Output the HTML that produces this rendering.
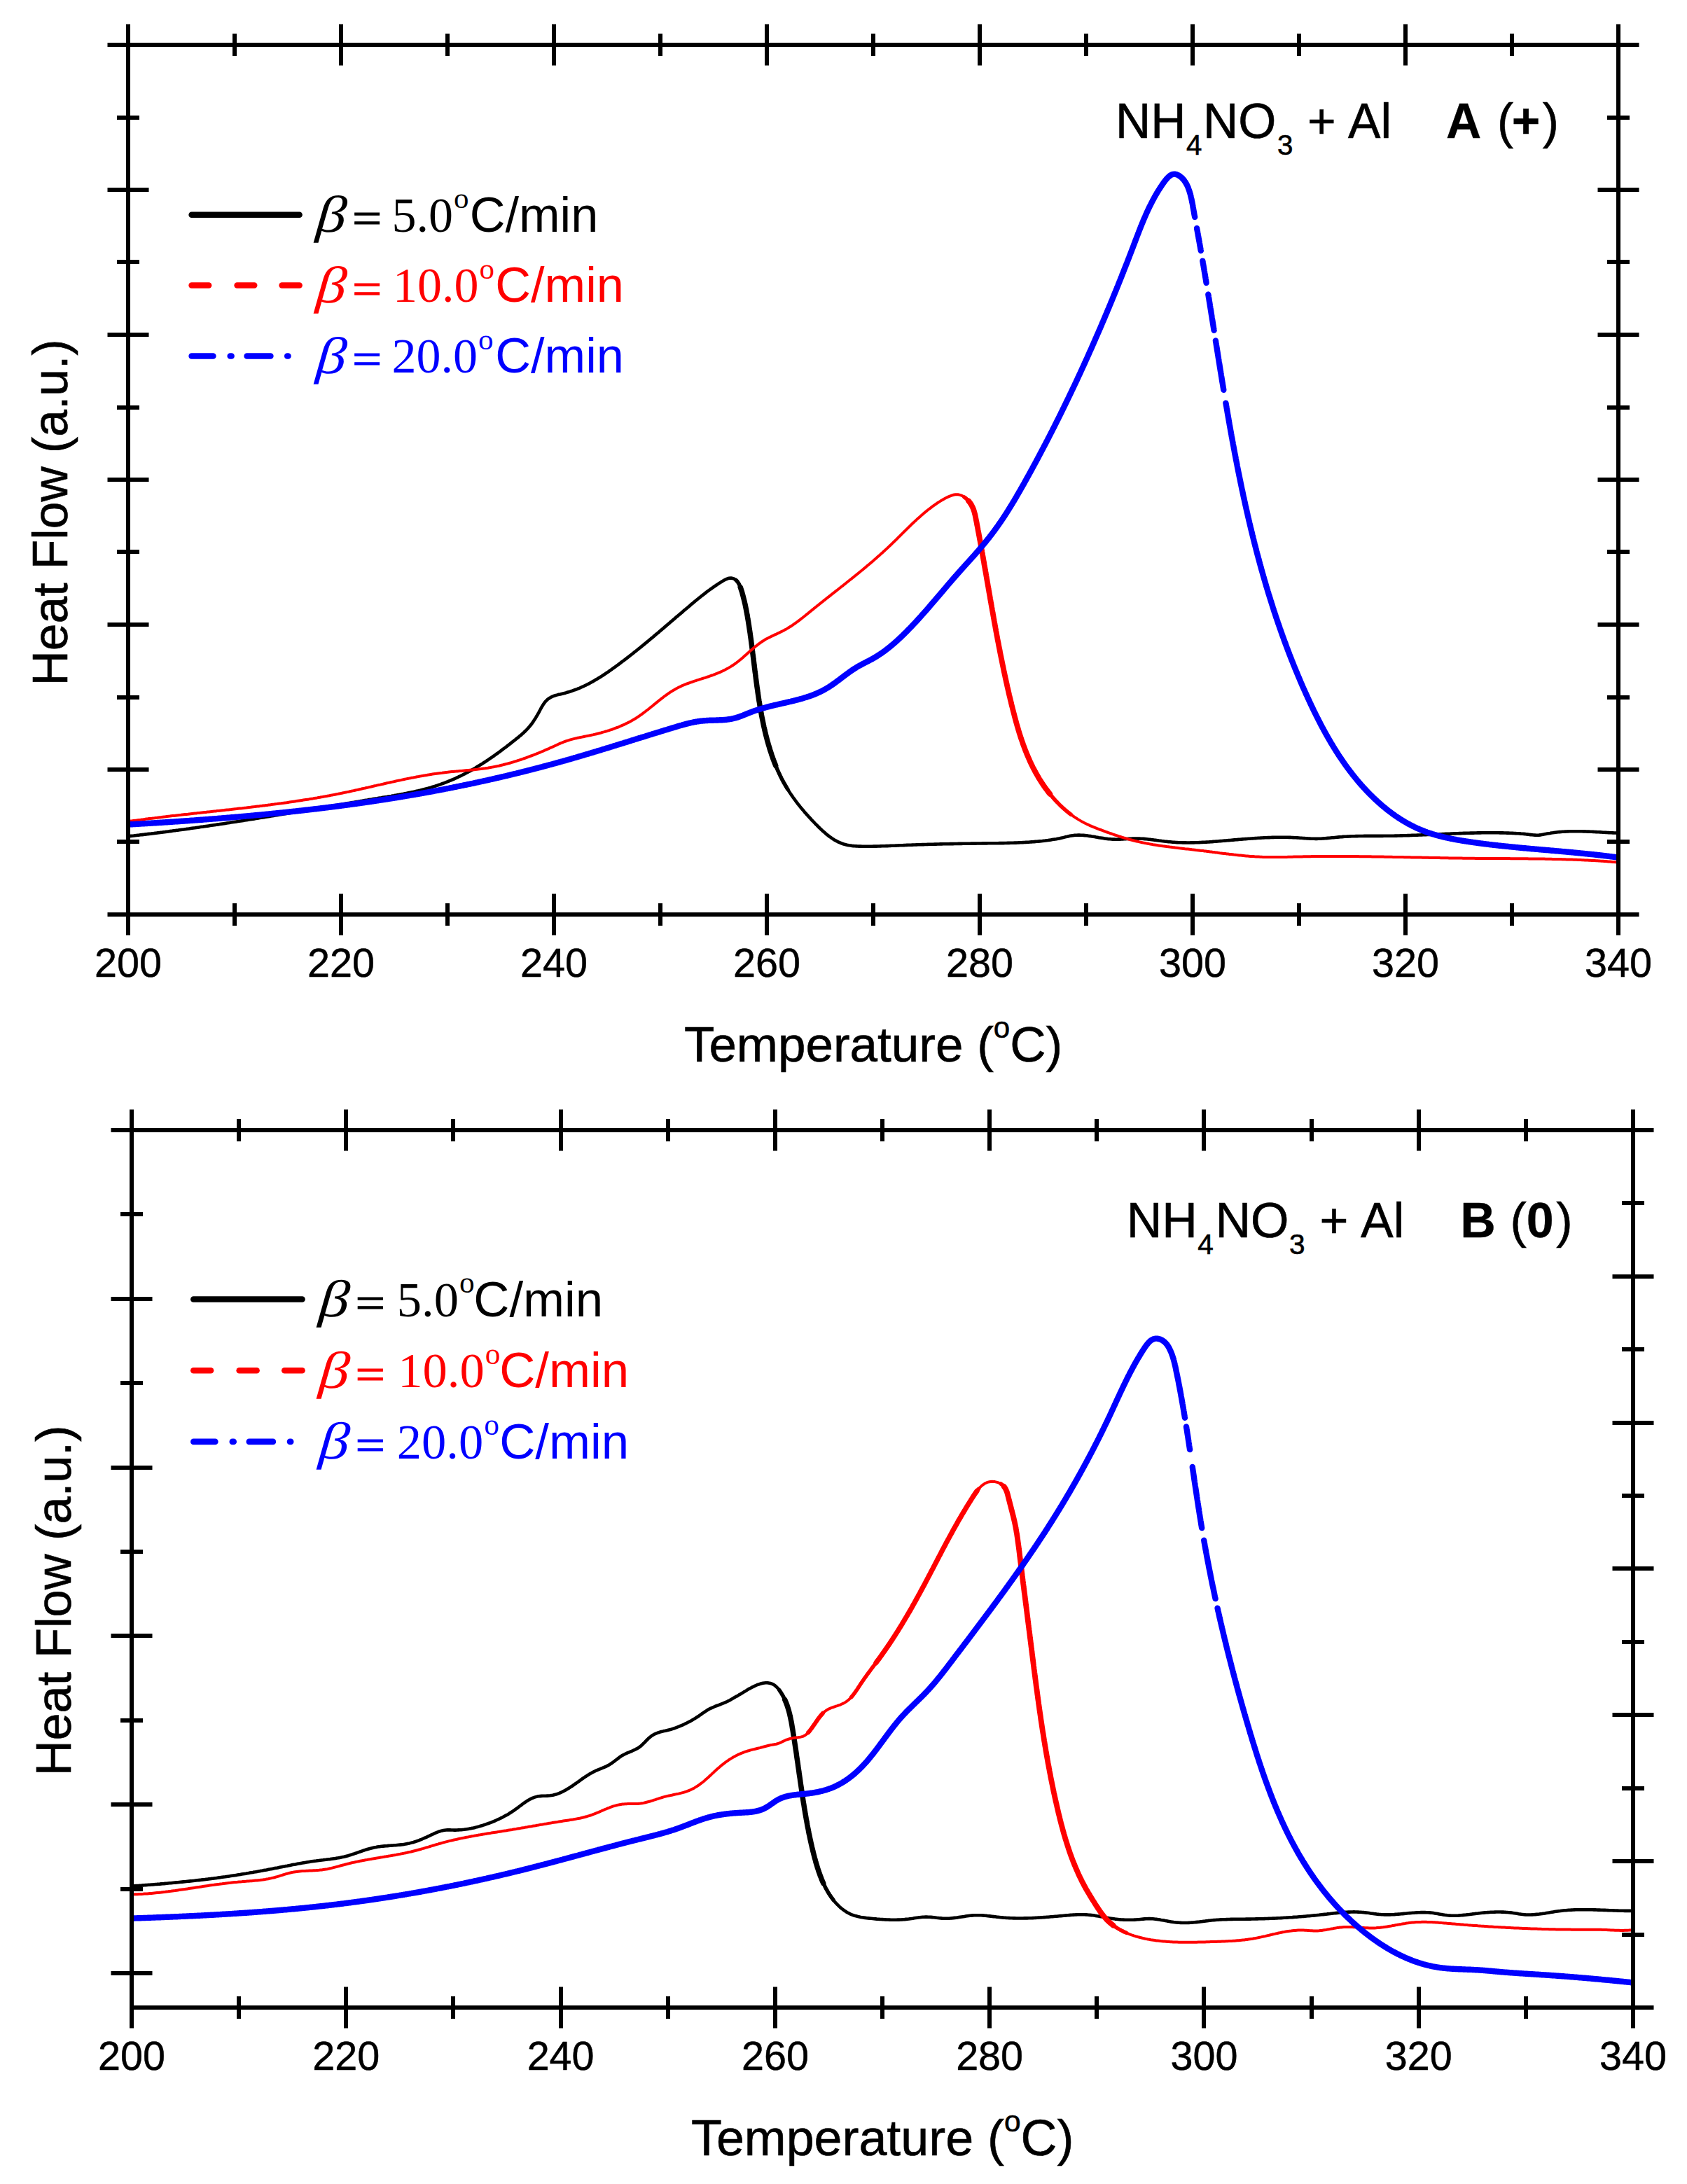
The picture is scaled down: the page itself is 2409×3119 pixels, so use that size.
<!DOCTYPE html>
<html><head><meta charset="utf-8"><title>Heat Flow</title>
<style>html,body{margin:0;padding:0;background:#fff}svg{display:block}</style></head>
<body>
<svg width="2409" height="3119" viewBox="0 0 2409 3119">
<rect width="2409" height="3119" fill="#fff"/>
<clipPath id="c1"><rect x="183" y="64" width="2128" height="1242"/></clipPath>
<g clip-path="url(#c1)">
<path d="M182.9 1194.4 L184.9 1194.1 L186.9 1193.9 L188.9 1193.7 L190.9 1193.5 L192.9 1193.2 L194.9 1193.0 L196.9 1192.8 L198.9 1192.6 L200.9 1192.3 L202.9 1192.1 L204.9 1191.9 L206.8 1191.6 L208.8 1191.4 L210.8 1191.1 L212.8 1190.9 L214.8 1190.7 L216.8 1190.4 L218.8 1190.2 L220.8 1189.9 L222.7 1189.7 L224.7 1189.4 L226.7 1189.2 L228.7 1188.9 L230.7 1188.7 L232.7 1188.4 L234.7 1188.2 L236.6 1187.9 L238.6 1187.7 L240.6 1187.4 L242.6 1187.1 L244.6 1186.9 L246.6 1186.6 L248.5 1186.3 L250.5 1186.1 L252.5 1185.8 L254.5 1185.6 L256.5 1185.3 L258.4 1185.0 L260.4 1184.7 L262.4 1184.5 L264.4 1184.2 L266.4 1183.9 L268.3 1183.7 L270.3 1183.4 L272.3 1183.1 L274.3 1182.8 L276.3 1182.5 L278.2 1182.3 L280.2 1182.0 L282.2 1181.7 L284.2 1181.4 L286.1 1181.1 L288.1 1180.8 L290.1 1180.6 L292.1 1180.3 L294.0 1180.0 L296.0 1179.7 L298.0 1179.4 L300.0 1179.1 L302.0 1178.8 L303.9 1178.5 L305.9 1178.2 L307.9 1177.9 L309.9 1177.6 L311.8 1177.4 L313.8 1177.1 L315.8 1176.8 L317.7 1176.5 L319.7 1176.2 L321.7 1175.9 L323.7 1175.6 L325.6 1175.3 L327.6 1175.0 L329.6 1174.6 L331.6 1174.3 L333.5 1174.0 L335.5 1173.7 L337.5 1173.4 L339.5 1173.1 L341.4 1172.8 L343.4 1172.5 L345.4 1172.2 L347.3 1171.9 L349.3 1171.6 L351.3 1171.3 L353.3 1170.9 L355.2 1170.6 L357.2 1170.3 L359.2 1170.0 L361.1 1169.7 L363.1 1169.4 L365.1 1169.1 L367.1 1168.7 L369.0 1168.4 L371.0 1168.1 L373.0 1167.8 L374.9 1167.5 L376.9 1167.2 L378.9 1166.8 L380.9 1166.5 L382.8 1166.2 L384.8 1165.9 L386.8 1165.6 L388.7 1165.2 L390.7 1164.9 L392.7 1164.6 L394.6 1164.3 L396.6 1163.9 L398.6 1163.6 L400.6 1163.3 L402.5 1163.0 L404.5 1162.6 L406.5 1162.3 L408.4 1162.0 L410.4 1161.7 L412.4 1161.3 L414.4 1161.0 L416.3 1160.7 L418.3 1160.4 L420.3 1160.0 L422.2 1159.7 L424.2 1159.4 L426.2 1159.0 L428.1 1158.7 L430.1 1158.4 L432.1 1158.1 L434.1 1157.7 L436.0 1157.4 L438.0 1157.1 L440.0 1156.7 L441.9 1156.4 L443.9 1156.1 L445.9 1155.7 L447.9 1155.4 L449.8 1155.1 L451.8 1154.7 L453.8 1154.4 L455.7 1154.1 L457.7 1153.7 L459.7 1153.4 L461.7 1153.1 L463.6 1152.7 L465.6 1152.4 L467.6 1152.1 L469.6 1151.8 L471.5 1151.4 L473.5 1151.1 L475.5 1150.8 L477.4 1150.4 L479.4 1150.1 L481.4 1149.8 L483.4 1149.4 L485.3 1149.1 L487.3 1148.8 L489.3 1148.4 L491.3 1148.1 L493.2 1147.8 L495.2 1147.4 L497.2 1147.1 L499.2 1146.8 L501.1 1146.4 L503.1 1146.1 L505.1 1145.8 L507.1 1145.4 L509.0 1145.1 L511.0 1144.8 L513.0 1144.4 L515.0 1144.1 L516.9 1143.8 L518.9 1143.4 L520.9 1143.1 L522.9 1142.8 L524.8 1142.5 L526.8 1142.1 L528.8 1141.8 L530.8 1141.5 L532.8 1141.1 L534.7 1140.8 L536.7 1140.5 L538.7 1140.2 L540.7 1139.8 L542.7 1139.5 L544.6 1139.2 L546.6 1138.8 L548.6 1138.5 L550.6 1138.2 L552.5 1137.9 L554.5 1137.5 L556.5 1137.2 L558.5 1136.9 L560.5 1136.5 L562.4 1136.2 L564.4 1135.8 L566.4 1135.5 L568.4 1135.1 L570.3 1134.8 L572.3 1134.4 L574.3 1134.0 L576.2 1133.7 L578.2 1133.3 L580.2 1132.9 L582.1 1132.5 L584.1 1132.1 L586.0 1131.7 L588.0 1131.3 L590.0 1130.9 L591.9 1130.5 L593.9 1130.0 L595.8 1129.6 L597.7 1129.1 L599.7 1128.7 L601.6 1128.2 L603.5 1127.7 L605.5 1127.2 L607.4 1126.7 L609.3 1126.2 L611.2 1125.7 L613.2 1125.1 L615.1 1124.6 L617.0 1124.0 L618.9 1123.4 L620.8 1122.9 L622.7 1122.3 L624.6 1121.6 L626.4 1121.0 L628.3 1120.4 L630.2 1119.7 L632.1 1119.0 L633.9 1118.3 L635.8 1117.6 L637.6 1116.9 L639.5 1116.2 L641.3 1115.4 L643.2 1114.7 L645.0 1113.9 L646.8 1113.1 L648.7 1112.3 L650.5 1111.5 L652.3 1110.6 L654.1 1109.8 L655.9 1108.9 L657.7 1108.1 L659.5 1107.2 L661.3 1106.3 L663.1 1105.4 L664.8 1104.5 L666.6 1103.5 L668.4 1102.6 L670.1 1101.6 L671.9 1100.7 L673.6 1099.7 L675.3 1098.7 L677.1 1097.7 L678.8 1096.7 L680.5 1095.6 L682.2 1094.6 L683.9 1093.6 L685.6 1092.5 L687.3 1091.4 L689.0 1090.4 L690.7 1089.3 L692.4 1088.2 L694.1 1087.1 L695.7 1086.0 L697.4 1084.9 L699.1 1083.7 L700.7 1082.6 L702.4 1081.5 L704.0 1080.3 L705.7 1079.2 L707.3 1078.0 L708.9 1076.8 L710.6 1075.7 L712.2 1074.5 L713.8 1073.3 L715.4 1072.1 L717.0 1070.9 L718.6 1069.7 L720.2 1068.5 L721.8 1067.3 L723.4 1066.1 L725.0 1064.8 L726.6 1063.6 L728.2 1062.4 L729.8 1061.1 L731.3 1059.9 L732.9 1058.7 L734.5 1057.4 L736.0 1056.2 L737.6 1054.9 L739.2 1053.7 L740.7 1052.4 L742.2 1051.1 L743.8 1049.9 L745.3 1048.6 L746.7 1047.2 L748.2 1045.9 L749.6 1044.5 L751.0 1043.2 L752.4 1041.7 L753.8 1040.3 L755.1 1038.8 L756.4 1037.3 L757.6 1035.8 L758.9 1034.2 L760.0 1032.6 L761.2 1031.0 L762.3 1029.3 L763.4 1027.6 L764.5 1025.9 L765.5 1024.2 L766.5 1022.4 L767.6 1020.7 L768.6 1018.9 L769.6 1017.1 L770.5 1015.3 L771.5 1013.5 L772.5 1011.6 L773.5 1009.8 L774.6 1008.1 L775.6 1006.3 L776.8 1004.7 L777.9 1003.1 L779.2 1001.6 L780.5 1000.2 L781.9 998.9 L783.4 997.7 L785.0 996.7 L786.7 995.8 L788.4 994.9 L790.2 994.2 L792.1 993.5 L794.0 992.9 L795.9 992.4 L797.9 991.8 L799.9 991.4 L801.9 990.9 L804.0 990.4 L806.0 989.9 L808.0 989.4 L809.9 988.8 L811.9 988.2 L813.9 987.7 L815.8 987.0 L817.7 986.4 L819.6 985.7 L821.5 985.0 L823.4 984.3 L825.3 983.5 L827.2 982.8 L829.0 982.0 L830.8 981.2 L832.7 980.4 L834.5 979.5 L836.3 978.7 L838.0 977.8 L839.8 976.9 L841.6 975.9 L843.3 975.0 L845.1 974.0 L846.8 973.1 L848.6 972.1 L850.3 971.1 L852.0 970.1 L853.7 969.0 L855.4 968.0 L857.1 967.0 L858.8 965.9 L860.4 964.8 L862.1 963.7 L863.8 962.6 L865.4 961.5 L867.1 960.4 L868.7 959.3 L870.3 958.1 L872.0 957.0 L873.6 955.8 L875.2 954.7 L876.9 953.5 L878.5 952.3 L880.1 951.2 L881.7 950.0 L883.3 948.8 L884.9 947.6 L886.5 946.4 L888.1 945.2 L889.7 944.0 L891.3 942.8 L892.9 941.6 L894.5 940.4 L896.1 939.1 L897.7 937.9 L899.2 936.7 L900.8 935.5 L902.4 934.2 L904.0 933.0 L905.5 931.7 L907.1 930.5 L908.7 929.2 L910.2 928.0 L911.8 926.7 L913.4 925.5 L914.9 924.2 L916.5 922.9 L918.0 921.7 L919.6 920.4 L921.1 919.1 L922.7 917.9 L924.2 916.6 L925.8 915.3 L927.3 914.0 L928.8 912.7 L930.4 911.4 L931.9 910.2 L933.4 908.9 L935.0 907.6 L936.5 906.3 L938.0 905.0 L939.6 903.7 L941.1 902.4 L942.6 901.1 L944.2 899.8 L945.7 898.5 L947.2 897.2 L948.7 895.9 L950.3 894.6 L951.8 893.3 L953.3 892.0 L954.8 890.7 L956.3 889.4 L957.8 888.1 L959.4 886.8 L960.9 885.5 L962.4 884.2 L963.9 882.9 L965.4 881.6 L966.9 880.3 L968.5 879.1 L970.0 877.8 L971.5 876.5 L973.0 875.2 L974.5 873.9 L976.0 872.6 L977.5 871.3 L979.1 870.0 L980.6 868.7 L982.1 867.5 L983.6 866.2 L985.1 864.9 L986.6 863.6 L988.1 862.3 L989.7 861.1 L991.2 859.8 L992.7 858.5 L994.2 857.3 L995.8 856.0 L997.3 854.8 L998.8 853.5 L1000.4 852.3 L1001.9 851.0 L1003.5 849.8 L1005.1 848.6 L1006.7 847.4 L1008.2 846.1 L1009.8 844.9 L1011.5 843.7 L1013.1 842.5 L1014.7 841.3 L1016.4 840.2 L1018.0 839.0 L1019.7 837.8 L1021.4 836.7 L1023.1 835.5 L1024.8 834.4 L1026.6 833.2 L1028.3 832.1 L1030.1 831.0 L1031.9 829.9 L1033.7 828.8 L1035.5 827.9 L1037.3 827.0 L1039.1 826.3 L1040.9 825.8 L1042.7 825.6 L1044.5 825.6 L1046.2 825.9 L1047.9 826.5 L1049.5 827.4 L1051.0 828.5 L1052.3 829.8 L1053.5 831.3 L1054.6 833.0 L1055.6 834.7 L1056.4 836.6 L1057.2 838.6 L1057.9 840.6 L1058.6 842.7 L1059.3 844.7 L1059.9 846.8 L1060.4 848.8 L1061.0 850.8 L1061.5 852.8 L1062.0 854.8 L1062.5 856.8 L1063.0 858.7 L1063.4 860.7 L1063.9 862.6 L1064.3 864.6 L1064.7 866.5 L1065.1 868.5 L1065.5 870.4 L1065.8 872.3 L1066.2 874.3 L1066.6 876.2 L1066.9 878.1 L1067.3 880.1 L1067.6 882.0 L1067.9 884.0 L1068.3 885.9 L1068.6 887.9 L1068.9 889.8 L1069.2 891.8 L1069.5 893.7 L1069.8 895.7 L1070.1 897.6 L1070.4 899.6 L1070.7 901.6 L1071.0 903.5 L1071.3 905.5 L1071.5 907.5 L1071.8 909.4 L1072.1 911.4 L1072.4 913.4 L1072.6 915.4 L1072.9 917.3 L1073.1 919.3 L1073.4 921.3 L1073.7 923.3 L1073.9 925.2 L1074.2 927.2 L1074.4 929.2 L1074.7 931.2 L1074.9 933.2 L1075.2 935.2 L1075.4 937.1 L1075.7 939.1 L1075.9 941.1 L1076.2 943.1 L1076.4 945.1 L1076.7 947.1 L1076.9 949.1 L1077.2 951.1 L1077.4 953.0 L1077.6 955.0 L1077.9 957.0 L1078.1 959.0 L1078.4 961.0 L1078.7 963.0 L1078.9 965.0 L1079.2 967.0 L1079.4 969.0 L1079.7 970.9 L1079.9 972.9 L1080.2 974.9 L1080.5 976.9 L1080.7 978.9 L1081.0 980.9 L1081.3 982.9 L1081.6 984.9 L1081.9 986.9 L1082.1 988.8 L1082.4 990.8 L1082.7 992.8 L1083.0 994.8 L1083.3 996.8 L1083.6 998.8 L1083.9 1000.7 L1084.3 1002.7 L1084.6 1004.7 L1084.9 1006.7 L1085.2 1008.7 L1085.6 1010.6 L1085.9 1012.6 L1086.3 1014.6 L1086.6 1016.5 L1087.0 1018.5 L1087.3 1020.5 L1087.7 1022.4 L1088.1 1024.4 L1088.5 1026.4 L1088.9 1028.3 L1089.3 1030.3 L1089.7 1032.3 L1090.1 1034.2 L1090.5 1036.2 L1090.9 1038.1 L1091.4 1040.1 L1091.8 1042.0 L1092.3 1044.0 L1092.7 1045.9 L1093.2 1047.8 L1093.7 1049.8 L1094.2 1051.7 L1094.7 1053.6 L1095.2 1055.6 L1095.7 1057.5 L1096.2 1059.4 L1096.8 1061.3 L1097.3 1063.3 L1097.9 1065.2 L1098.5 1067.1 L1099.0 1069.0 L1099.6 1070.9 L1100.2 1072.8 L1100.9 1074.7 L1101.5 1076.6 L1102.1 1078.5 L1102.8 1080.4 L1103.4 1082.2 L1104.1 1084.1 L1104.8 1086.0 L1105.5 1087.8 L1106.2 1089.7 L1107.0 1091.6 L1107.7 1093.4 L1108.5 1095.2 L1109.2 1097.1 L1110.0 1098.9 L1110.8 1100.7 L1111.6 1102.5 L1112.5 1104.3 L1113.3 1106.1 L1114.2 1107.9 L1115.1 1109.7 L1115.9 1111.5 L1116.9 1113.3 L1117.8 1115.0 L1118.7 1116.8 L1119.7 1118.5 L1120.7 1120.2 L1121.7 1122.0 L1122.7 1123.7 L1123.7 1125.4 L1124.8 1127.1 L1125.8 1128.8 L1126.9 1130.5 L1128.0 1132.2 L1129.1 1133.8 L1130.2 1135.5 L1131.4 1137.1 L1132.5 1138.8 L1133.7 1140.4 L1134.9 1142.0 L1136.1 1143.7 L1137.3 1145.3 L1138.5 1146.9 L1139.7 1148.5 L1141.0 1150.0 L1142.2 1151.6 L1143.5 1153.2 L1144.8 1154.7 L1146.1 1156.3 L1147.4 1157.8 L1148.7 1159.4 L1150.0 1160.9 L1151.4 1162.4 L1152.7 1163.9 L1154.1 1165.4 L1155.4 1166.9 L1156.8 1168.4 L1158.2 1169.9 L1159.5 1171.4 L1160.9 1172.8 L1162.3 1174.3 L1163.7 1175.8 L1165.1 1177.2 L1166.6 1178.6 L1168.0 1180.1 L1169.4 1181.5 L1170.8 1182.9 L1172.3 1184.3 L1173.7 1185.6 L1175.2 1187.0 L1176.7 1188.3 L1178.2 1189.6 L1179.7 1190.9 L1181.2 1192.2 L1182.8 1193.4 L1184.3 1194.6 L1185.9 1195.7 L1187.5 1196.9 L1189.1 1197.9 L1190.7 1199.0 L1192.4 1200.0 L1194.1 1200.9 L1195.8 1201.8 L1197.5 1202.6 L1199.3 1203.4 L1201.1 1204.2 L1202.9 1204.8 L1204.8 1205.5 L1206.7 1206.0 L1208.6 1206.5 L1210.5 1206.9 L1212.5 1207.3 L1214.5 1207.6 L1216.6 1207.9 L1218.6 1208.1 L1220.7 1208.3 L1222.7 1208.4 L1224.8 1208.5 L1226.9 1208.6 L1229.0 1208.6 L1231.1 1208.7 L1233.2 1208.7 L1235.2 1208.7 L1237.3 1208.7 L1239.4 1208.7 L1241.4 1208.7 L1243.4 1208.7 L1245.5 1208.7 L1247.5 1208.6 L1249.5 1208.6 L1251.5 1208.6 L1253.5 1208.5 L1255.5 1208.5 L1257.5 1208.4 L1259.5 1208.3 L1261.5 1208.3 L1263.5 1208.2 L1265.4 1208.1 L1267.4 1208.1 L1269.4 1208.0 L1271.4 1207.9 L1273.3 1207.8 L1275.3 1207.8 L1277.2 1207.7 L1279.2 1207.6 L1281.2 1207.5 L1283.1 1207.4 L1285.1 1207.3 L1287.1 1207.2 L1289.0 1207.2 L1291.0 1207.1 L1293.0 1207.0 L1294.9 1206.9 L1296.9 1206.8 L1298.9 1206.8 L1300.9 1206.7 L1302.8 1206.6 L1304.8 1206.5 L1306.8 1206.5 L1308.8 1206.4 L1310.8 1206.3 L1312.8 1206.3 L1314.7 1206.2 L1316.7 1206.1 L1318.7 1206.1 L1320.7 1206.0 L1322.7 1206.0 L1324.7 1205.9 L1326.7 1205.8 L1328.7 1205.8 L1330.7 1205.7 L1332.7 1205.7 L1334.7 1205.6 L1336.7 1205.6 L1338.7 1205.5 L1340.7 1205.5 L1342.7 1205.4 L1344.8 1205.4 L1346.8 1205.3 L1348.8 1205.3 L1350.8 1205.3 L1352.8 1205.2 L1354.8 1205.2 L1356.8 1205.1 L1358.8 1205.1 L1360.8 1205.1 L1362.9 1205.0 L1364.9 1205.0 L1366.9 1205.0 L1368.9 1204.9 L1370.9 1204.9 L1372.9 1204.9 L1374.9 1204.8 L1376.9 1204.8 L1379.0 1204.8 L1381.0 1204.7 L1383.0 1204.7 L1385.0 1204.7 L1387.0 1204.6 L1389.0 1204.6 L1391.0 1204.6 L1393.0 1204.6 L1395.0 1204.5 L1397.1 1204.5 L1399.1 1204.5 L1401.1 1204.5 L1403.1 1204.4 L1405.1 1204.4 L1407.1 1204.4 L1409.1 1204.4 L1411.1 1204.3 L1413.1 1204.3 L1415.1 1204.3 L1417.1 1204.3 L1419.1 1204.3 L1421.1 1204.2 L1423.1 1204.2 L1425.1 1204.2 L1427.1 1204.1 L1429.0 1204.1 L1431.0 1204.1 L1433.0 1204.1 L1435.0 1204.0 L1437.0 1204.0 L1439.0 1203.9 L1441.0 1203.9 L1443.0 1203.8 L1445.0 1203.8 L1446.9 1203.7 L1448.9 1203.6 L1450.9 1203.6 L1452.9 1203.5 L1454.9 1203.4 L1456.9 1203.3 L1458.9 1203.2 L1460.8 1203.1 L1462.8 1203.0 L1464.8 1202.9 L1466.8 1202.8 L1468.8 1202.7 L1470.8 1202.5 L1472.8 1202.4 L1474.7 1202.3 L1476.7 1202.1 L1478.7 1201.9 L1480.7 1201.8 L1482.7 1201.6 L1484.7 1201.4 L1486.7 1201.2 L1488.6 1201.0 L1490.6 1200.7 L1492.6 1200.5 L1494.6 1200.2 L1496.6 1200.0 L1498.6 1199.7 L1500.6 1199.4 L1502.6 1199.1 L1504.5 1198.8 L1506.5 1198.5 L1508.5 1198.2 L1510.5 1197.8 L1512.5 1197.4 L1514.4 1197.0 L1516.4 1196.6 L1518.3 1196.1 L1520.2 1195.6 L1522.2 1195.1 L1524.1 1194.7 L1526.0 1194.2 L1527.9 1193.8 L1529.8 1193.5 L1531.7 1193.2 L1533.7 1192.9 L1535.6 1192.8 L1537.6 1192.7 L1539.5 1192.6 L1541.5 1192.6 L1543.4 1192.7 L1545.4 1192.8 L1547.3 1192.9 L1549.3 1193.1 L1551.3 1193.3 L1553.3 1193.6 L1555.3 1193.9 L1557.2 1194.1 L1559.2 1194.5 L1561.2 1194.8 L1563.2 1195.1 L1565.2 1195.5 L1567.2 1195.8 L1569.2 1196.2 L1571.2 1196.5 L1573.2 1196.8 L1575.2 1197.1 L1577.2 1197.4 L1579.2 1197.7 L1581.2 1197.9 L1583.2 1198.2 L1585.2 1198.3 L1587.2 1198.5 L1589.2 1198.6 L1591.2 1198.6 L1593.2 1198.7 L1595.2 1198.7 L1597.2 1198.6 L1599.2 1198.6 L1601.2 1198.5 L1603.2 1198.4 L1605.2 1198.3 L1607.2 1198.2 L1609.2 1198.0 L1611.2 1197.9 L1613.2 1197.8 L1615.2 1197.7 L1617.1 1197.6 L1619.1 1197.6 L1621.1 1197.5 L1623.1 1197.5 L1625.1 1197.6 L1627.1 1197.6 L1629.1 1197.7 L1631.1 1197.8 L1633.1 1197.9 L1635.1 1198.1 L1637.0 1198.3 L1639.0 1198.5 L1641.0 1198.7 L1643.0 1198.9 L1645.0 1199.2 L1647.0 1199.4 L1649.0 1199.7 L1651.0 1199.9 L1653.0 1200.2 L1655.0 1200.5 L1657.0 1200.7 L1659.0 1201.0 L1660.9 1201.2 L1662.9 1201.5 L1664.9 1201.7 L1666.9 1201.9 L1668.9 1202.2 L1670.9 1202.3 L1672.9 1202.5 L1674.9 1202.7 L1676.9 1202.8 L1678.9 1203.0 L1680.9 1203.1 L1682.9 1203.2 L1684.9 1203.3 L1686.9 1203.3 L1688.9 1203.4 L1690.8 1203.4 L1692.8 1203.4 L1694.8 1203.5 L1696.8 1203.5 L1698.8 1203.5 L1700.8 1203.4 L1702.8 1203.4 L1704.8 1203.4 L1706.8 1203.3 L1708.8 1203.3 L1710.8 1203.2 L1712.8 1203.1 L1714.8 1203.0 L1716.8 1202.9 L1718.8 1202.8 L1720.8 1202.7 L1722.8 1202.6 L1724.8 1202.5 L1726.7 1202.4 L1728.7 1202.2 L1730.7 1202.1 L1732.7 1201.9 L1734.7 1201.8 L1736.7 1201.6 L1738.7 1201.5 L1740.7 1201.3 L1742.7 1201.1 L1744.7 1201.0 L1746.7 1200.8 L1748.7 1200.6 L1750.7 1200.5 L1752.7 1200.3 L1754.7 1200.1 L1756.7 1200.0 L1758.7 1199.8 L1760.7 1199.6 L1762.7 1199.4 L1764.7 1199.3 L1766.7 1199.1 L1768.7 1198.9 L1770.7 1198.8 L1772.7 1198.6 L1774.6 1198.4 L1776.6 1198.3 L1778.6 1198.1 L1780.6 1198.0 L1782.6 1197.8 L1784.6 1197.7 L1786.6 1197.5 L1788.6 1197.4 L1790.6 1197.2 L1792.6 1197.1 L1794.6 1197.0 L1796.6 1196.8 L1798.6 1196.7 L1800.6 1196.6 L1802.6 1196.5 L1804.6 1196.4 L1806.6 1196.3 L1808.6 1196.2 L1810.6 1196.1 L1812.6 1196.1 L1814.6 1196.0 L1816.6 1195.9 L1818.6 1195.9 L1820.6 1195.8 L1822.6 1195.8 L1824.6 1195.8 L1826.6 1195.7 L1828.6 1195.7 L1830.5 1195.7 L1832.5 1195.7 L1834.5 1195.7 L1836.5 1195.8 L1838.5 1195.8 L1840.5 1195.9 L1842.5 1195.9 L1844.5 1196.0 L1846.5 1196.1 L1848.5 1196.2 L1850.5 1196.3 L1852.5 1196.4 L1854.5 1196.5 L1856.5 1196.7 L1858.5 1196.8 L1860.5 1197.0 L1862.5 1197.1 L1864.5 1197.3 L1866.5 1197.4 L1868.4 1197.5 L1870.4 1197.6 L1872.4 1197.7 L1874.4 1197.8 L1876.4 1197.8 L1878.4 1197.9 L1880.4 1197.9 L1882.4 1197.8 L1884.4 1197.7 L1886.4 1197.7 L1888.4 1197.5 L1890.3 1197.4 L1892.3 1197.3 L1894.3 1197.1 L1896.3 1196.9 L1898.3 1196.7 L1900.3 1196.5 L1902.3 1196.3 L1904.3 1196.2 L1906.3 1196.0 L1908.3 1195.8 L1910.2 1195.6 L1912.2 1195.4 L1914.2 1195.2 L1916.2 1195.1 L1918.2 1194.9 L1920.2 1194.8 L1922.2 1194.7 L1924.2 1194.6 L1926.2 1194.5 L1928.2 1194.4 L1930.2 1194.3 L1932.2 1194.2 L1934.2 1194.2 L1936.2 1194.1 L1938.2 1194.1 L1940.2 1194.0 L1942.2 1194.0 L1944.2 1194.0 L1946.2 1194.0 L1948.2 1193.9 L1950.2 1193.9 L1952.2 1193.9 L1954.2 1193.9 L1956.2 1193.9 L1958.2 1193.9 L1960.2 1193.9 L1962.2 1193.9 L1964.2 1193.9 L1966.2 1193.9 L1968.2 1193.9 L1970.2 1193.9 L1972.2 1193.9 L1974.2 1193.9 L1976.2 1193.8 L1978.2 1193.8 L1980.2 1193.8 L1982.2 1193.8 L1984.2 1193.8 L1986.2 1193.7 L1988.2 1193.7 L1990.2 1193.7 L1992.2 1193.6 L1994.2 1193.6 L1996.2 1193.5 L1998.2 1193.5 L2000.2 1193.4 L2002.2 1193.4 L2004.2 1193.3 L2006.2 1193.2 L2008.2 1193.2 L2010.2 1193.1 L2012.1 1193.1 L2014.1 1193.0 L2016.1 1192.9 L2018.1 1192.8 L2020.1 1192.8 L2022.1 1192.7 L2024.1 1192.6 L2026.1 1192.5 L2028.1 1192.5 L2030.1 1192.4 L2032.1 1192.3 L2034.1 1192.2 L2036.1 1192.1 L2038.1 1192.0 L2040.1 1192.0 L2042.1 1191.9 L2044.1 1191.8 L2046.1 1191.7 L2048.1 1191.6 L2050.1 1191.5 L2052.1 1191.4 L2054.1 1191.3 L2056.1 1191.3 L2058.1 1191.2 L2060.1 1191.1 L2062.1 1191.0 L2064.1 1190.9 L2066.1 1190.8 L2068.1 1190.8 L2070.1 1190.7 L2072.1 1190.6 L2074.1 1190.5 L2076.1 1190.4 L2078.1 1190.4 L2080.0 1190.3 L2082.0 1190.2 L2084.0 1190.1 L2086.0 1190.1 L2088.0 1190.0 L2090.0 1189.9 L2092.0 1189.9 L2094.0 1189.8 L2096.0 1189.8 L2098.0 1189.7 L2100.0 1189.6 L2102.0 1189.6 L2104.0 1189.6 L2106.0 1189.5 L2108.0 1189.5 L2110.0 1189.4 L2112.0 1189.4 L2114.0 1189.4 L2116.0 1189.3 L2118.0 1189.3 L2120.0 1189.3 L2122.0 1189.3 L2124.0 1189.3 L2126.0 1189.3 L2128.0 1189.3 L2130.0 1189.3 L2132.0 1189.3 L2134.0 1189.3 L2136.0 1189.3 L2138.0 1189.3 L2140.0 1189.3 L2142.0 1189.4 L2144.0 1189.4 L2146.0 1189.4 L2148.0 1189.5 L2150.0 1189.5 L2152.0 1189.6 L2154.0 1189.6 L2156.0 1189.7 L2158.0 1189.8 L2160.0 1189.9 L2162.0 1190.0 L2164.0 1190.1 L2166.0 1190.2 L2168.0 1190.3 L2170.0 1190.4 L2172.0 1190.6 L2174.0 1190.7 L2176.0 1190.9 L2178.0 1191.1 L2180.0 1191.4 L2182.0 1191.6 L2183.9 1191.9 L2185.9 1192.1 L2187.9 1192.3 L2189.9 1192.5 L2191.9 1192.6 L2193.8 1192.7 L2195.8 1192.7 L2197.7 1192.6 L2199.7 1192.4 L2201.6 1192.1 L2203.6 1191.7 L2205.5 1191.3 L2207.4 1190.9 L2209.4 1190.5 L2211.3 1190.2 L2213.3 1189.9 L2215.3 1189.5 L2217.2 1189.3 L2219.2 1189.0 L2221.2 1188.7 L2223.1 1188.5 L2225.1 1188.3 L2227.1 1188.1 L2229.1 1188.0 L2231.1 1187.8 L2233.1 1187.7 L2235.0 1187.6 L2237.0 1187.5 L2239.0 1187.4 L2241.0 1187.3 L2243.0 1187.3 L2245.0 1187.3 L2247.0 1187.2 L2249.0 1187.2 L2251.0 1187.2 L2253.0 1187.2 L2255.0 1187.3 L2257.0 1187.3 L2259.0 1187.3 L2261.0 1187.4 L2263.0 1187.4 L2265.1 1187.5 L2267.1 1187.6 L2269.1 1187.6 L2271.1 1187.7 L2273.1 1187.8 L2275.1 1187.9 L2277.1 1188.0 L2279.1 1188.1 L2281.1 1188.2 L2283.1 1188.3 L2285.1 1188.4 L2287.1 1188.5 L2289.1 1188.7 L2291.1 1188.8 L2293.1 1188.9 L2295.1 1189.0 L2297.1 1189.1 L2299.1 1189.2 L2301.1 1189.3 L2303.1 1189.4 L2305.0 1189.5 L2307.0 1189.5 L2309.0 1189.6 L2311.0 1189.7" fill="none" stroke="#000" stroke-width="4.6" stroke-linecap="round" stroke-linejoin="round"/>
<path d="M1051.0 828.5 L1052.3 829.8 L1053.5 831.3 L1054.6 833.0 L1055.6 834.7 L1056.4 836.6 L1057.2 838.6 L1057.9 840.6 L1058.6 842.7 L1059.3 844.7 L1059.9 846.8 L1060.4 848.8 L1061.0 850.8 L1061.5 852.8 L1062.0 854.8 L1062.5 856.8 L1063.0 858.7 L1063.4 860.7 L1063.9 862.6 L1064.3 864.6 L1064.7 866.5 L1065.1 868.5 L1065.5 870.4 L1065.8 872.3 L1066.2 874.3 L1066.6 876.2 L1066.9 878.1 L1067.3 880.1 L1067.6 882.0 L1067.9 884.0 L1068.3 885.9 L1068.6 887.9 L1068.9 889.8 L1069.2 891.8 L1069.5 893.7 L1069.8 895.7 L1070.1 897.6 L1070.4 899.6 L1070.7 901.6 L1071.0 903.5 L1071.3 905.5 L1071.5 907.5 L1071.8 909.4 L1072.1 911.4 L1072.4 913.4 L1072.6 915.4 L1072.9 917.3 L1073.1 919.3 L1073.4 921.3 L1073.7 923.3 L1073.9 925.2 L1074.2 927.2 L1074.4 929.2 L1074.7 931.2 L1074.9 933.2 L1075.2 935.2 L1075.4 937.1 L1075.7 939.1 L1075.9 941.1 L1076.2 943.1 L1076.4 945.1 L1076.7 947.1 L1076.9 949.1 L1077.2 951.1 L1077.4 953.0 L1077.6 955.0 L1077.9 957.0 L1078.1 959.0 L1078.4 961.0 L1078.7 963.0 L1078.9 965.0 L1079.2 967.0 L1079.4 969.0 L1079.7 970.9 L1079.9 972.9 L1080.2 974.9 L1080.5 976.9 L1080.7 978.9 L1081.0 980.9 L1081.3 982.9 L1081.6 984.9 L1081.9 986.9 L1082.1 988.8 L1082.4 990.8 L1082.7 992.8 L1083.0 994.8 L1083.3 996.8 L1083.6 998.8 L1083.9 1000.7 L1084.3 1002.7 L1084.6 1004.7 L1084.9 1006.7 L1085.2 1008.7 L1085.6 1010.6 L1085.9 1012.6 L1086.3 1014.6 L1086.6 1016.5 L1087.0 1018.5 L1087.3 1020.5 L1087.7 1022.4 L1088.1 1024.4 L1088.5 1026.4 L1088.9 1028.3 L1089.3 1030.3 L1089.7 1032.3 L1090.1 1034.2 L1090.5 1036.2 L1090.9 1038.1 L1091.4 1040.1 L1091.8 1042.0 L1092.3 1044.0 L1092.7 1045.9 L1093.2 1047.8 L1093.7 1049.8 L1094.2 1051.7 L1094.7 1053.6 L1095.2 1055.6 L1095.7 1057.5 L1096.2 1059.4 L1096.8 1061.3 L1097.3 1063.3 L1097.9 1065.2 L1098.5 1067.1 L1099.0 1069.0 L1099.6 1070.9 L1100.2 1072.8 L1100.9 1074.7 L1101.5 1076.6 L1102.1 1078.5 L1102.8 1080.4 L1103.4 1082.2 L1104.1 1084.1 L1104.8 1086.0 L1105.5 1087.8 L1106.2 1089.7 L1107.0 1091.6 L1107.7 1093.4 L1108.5 1095.2 L1109.2 1097.1 L1110.0 1098.9 L1110.8 1100.7 L1111.6 1102.5 L1112.5 1104.3 L1113.3 1106.1 L1114.2 1107.9 L1115.1 1109.7 L1115.9 1111.5 L1116.9 1113.3 L1117.8 1115.0 L1118.7 1116.8 L1119.7 1118.5 L1120.7 1120.2 L1121.7 1122.0 L1122.7 1123.7 L1123.7 1125.4 L1124.8 1127.1" fill="none" stroke="#000" stroke-width="5.5" stroke-linecap="round" stroke-linejoin="round"/>
<path d="M1057.2 838.6 L1057.9 840.6 L1058.6 842.7 L1059.3 844.7 L1059.9 846.8 L1060.4 848.8 L1061.0 850.8 L1061.5 852.8 L1062.0 854.8 L1062.5 856.8 L1063.0 858.7 L1063.4 860.7 L1063.9 862.6 L1064.3 864.6 L1064.7 866.5 L1065.1 868.5 L1065.5 870.4 L1065.8 872.3 L1066.2 874.3 L1066.6 876.2 L1066.9 878.1 L1067.3 880.1 L1067.6 882.0 L1067.9 884.0 L1068.3 885.9 L1068.6 887.9 L1068.9 889.8 L1069.2 891.8 L1069.5 893.7 L1069.8 895.7 L1070.1 897.6 L1070.4 899.6 L1070.7 901.6 L1071.0 903.5 L1071.3 905.5 L1071.5 907.5 L1071.8 909.4 L1072.1 911.4 L1072.4 913.4 L1072.6 915.4 L1072.9 917.3 L1073.1 919.3 L1073.4 921.3 L1073.7 923.3 L1073.9 925.2 L1074.2 927.2 L1074.4 929.2 L1074.7 931.2 L1074.9 933.2 L1075.2 935.2 L1075.4 937.1 L1075.7 939.1 L1075.9 941.1 L1076.2 943.1 L1076.4 945.1 L1076.7 947.1 L1076.9 949.1 L1077.2 951.1 L1077.4 953.0 L1077.6 955.0 L1077.9 957.0 L1078.1 959.0 L1078.4 961.0 L1078.7 963.0 L1078.9 965.0 L1079.2 967.0 L1079.4 969.0 L1079.7 970.9 L1079.9 972.9 L1080.2 974.9 L1080.5 976.9 L1080.7 978.9 L1081.0 980.9 L1081.3 982.9 L1081.6 984.9 L1081.9 986.9 L1082.1 988.8 L1082.4 990.8 L1082.7 992.8 L1083.0 994.8 L1083.3 996.8 L1083.6 998.8 L1083.9 1000.7 L1084.3 1002.7 L1084.6 1004.7 L1084.9 1006.7 L1085.2 1008.7 L1085.6 1010.6 L1085.9 1012.6 L1086.3 1014.6 L1086.6 1016.5 L1087.0 1018.5 L1087.3 1020.5 L1087.7 1022.4 L1088.1 1024.4 L1088.5 1026.4 L1088.9 1028.3 L1089.3 1030.3 L1089.7 1032.3 L1090.1 1034.2 L1090.5 1036.2 L1090.9 1038.1 L1091.4 1040.1 L1091.8 1042.0 L1092.3 1044.0 L1092.7 1045.9 L1093.2 1047.8 L1093.7 1049.8 L1094.2 1051.7 L1094.7 1053.6 L1095.2 1055.6 L1095.7 1057.5 L1096.2 1059.4 L1096.8 1061.3 L1097.3 1063.3 L1097.9 1065.2 L1098.5 1067.1 L1099.0 1069.0 L1099.6 1070.9 L1100.2 1072.8 L1100.9 1074.7 L1101.5 1076.6 L1102.1 1078.5 L1102.8 1080.4 L1103.4 1082.2 L1104.1 1084.1 L1104.8 1086.0 L1105.5 1087.8 L1106.2 1089.7 L1107.0 1091.6 L1107.7 1093.4" fill="none" stroke="#000" stroke-width="7.5" stroke-linecap="round" stroke-linejoin="round"/>
<path d="M183.0 1173.1 L185.0 1172.8 L187.0 1172.5 L188.9 1172.3 L190.9 1172.0 L192.9 1171.7 L194.9 1171.5 L196.8 1171.2 L198.8 1170.9 L200.8 1170.7 L202.8 1170.4 L204.8 1170.2 L206.7 1169.9 L208.7 1169.6 L210.7 1169.4 L212.7 1169.1 L214.7 1168.9 L216.7 1168.7 L218.6 1168.4 L220.6 1168.2 L222.6 1167.9 L224.6 1167.7 L226.6 1167.4 L228.6 1167.2 L230.5 1167.0 L232.5 1166.7 L234.5 1166.5 L236.5 1166.3 L238.5 1166.0 L240.5 1165.8 L242.5 1165.6 L244.4 1165.3 L246.4 1165.1 L248.4 1164.9 L250.4 1164.7 L252.4 1164.4 L254.4 1164.2 L256.4 1164.0 L258.3 1163.8 L260.3 1163.5 L262.3 1163.3 L264.3 1163.1 L266.3 1162.9 L268.3 1162.7 L270.3 1162.4 L272.3 1162.2 L274.2 1162.0 L276.2 1161.8 L278.2 1161.6 L280.2 1161.4 L282.2 1161.1 L284.2 1160.9 L286.2 1160.7 L288.2 1160.5 L290.2 1160.3 L292.1 1160.1 L294.1 1159.9 L296.1 1159.6 L298.1 1159.4 L300.1 1159.2 L302.1 1159.0 L304.1 1158.8 L306.1 1158.6 L308.1 1158.4 L310.0 1158.1 L312.0 1157.9 L314.0 1157.7 L316.0 1157.5 L318.0 1157.3 L320.0 1157.1 L322.0 1156.8 L324.0 1156.6 L326.0 1156.4 L327.9 1156.2 L329.9 1156.0 L331.9 1155.7 L333.9 1155.5 L335.9 1155.3 L337.9 1155.1 L339.9 1154.8 L341.9 1154.6 L343.8 1154.4 L345.8 1154.2 L347.8 1153.9 L349.8 1153.7 L351.8 1153.5 L353.8 1153.2 L355.8 1153.0 L357.8 1152.8 L359.7 1152.5 L361.7 1152.3 L363.7 1152.1 L365.7 1151.8 L367.7 1151.6 L369.7 1151.4 L371.7 1151.1 L373.6 1150.9 L375.6 1150.6 L377.6 1150.4 L379.6 1150.1 L381.6 1149.9 L383.6 1149.6 L385.5 1149.4 L387.5 1149.1 L389.5 1148.8 L391.5 1148.6 L393.5 1148.3 L395.5 1148.1 L397.4 1147.8 L399.4 1147.5 L401.4 1147.3 L403.4 1147.0 L405.4 1146.7 L407.3 1146.4 L409.3 1146.2 L411.3 1145.9 L413.3 1145.6 L415.3 1145.3 L417.2 1145.0 L419.2 1144.7 L421.2 1144.4 L423.2 1144.1 L425.1 1143.8 L427.1 1143.5 L429.1 1143.2 L431.1 1142.9 L433.0 1142.6 L435.0 1142.3 L437.0 1142.0 L439.0 1141.7 L440.9 1141.4 L442.9 1141.0 L444.9 1140.7 L446.9 1140.4 L448.8 1140.0 L450.8 1139.7 L452.8 1139.4 L454.7 1139.0 L456.7 1138.7 L458.7 1138.3 L460.7 1138.0 L462.6 1137.6 L464.6 1137.3 L466.6 1136.9 L468.5 1136.6 L470.5 1136.2 L472.5 1135.8 L474.4 1135.4 L476.4 1135.1 L478.3 1134.7 L480.3 1134.3 L482.3 1133.9 L484.2 1133.5 L486.2 1133.1 L488.2 1132.7 L490.1 1132.3 L492.1 1131.9 L494.0 1131.5 L496.0 1131.1 L498.0 1130.7 L499.9 1130.2 L501.9 1129.8 L503.8 1129.4 L505.8 1129.0 L507.7 1128.5 L509.7 1128.1 L511.6 1127.7 L513.6 1127.2 L515.6 1126.8 L517.5 1126.3 L519.5 1125.9 L521.4 1125.5 L523.4 1125.0 L525.3 1124.6 L527.3 1124.1 L529.2 1123.7 L531.2 1123.2 L533.1 1122.8 L535.1 1122.3 L537.0 1121.9 L539.0 1121.4 L541.0 1121.0 L542.9 1120.6 L544.9 1120.1 L546.8 1119.7 L548.8 1119.2 L550.7 1118.8 L552.7 1118.3 L554.6 1117.9 L556.6 1117.5 L558.5 1117.0 L560.5 1116.6 L562.4 1116.2 L564.4 1115.7 L566.4 1115.3 L568.3 1114.9 L570.3 1114.5 L572.2 1114.1 L574.2 1113.6 L576.1 1113.2 L578.1 1112.8 L580.1 1112.4 L582.0 1112.0 L584.0 1111.6 L585.9 1111.2 L587.9 1110.8 L589.9 1110.5 L591.8 1110.1 L593.8 1109.7 L595.7 1109.3 L597.7 1109.0 L599.7 1108.6 L601.6 1108.3 L603.6 1107.9 L605.6 1107.6 L607.5 1107.2 L609.5 1106.9 L611.5 1106.6 L613.4 1106.3 L615.4 1105.9 L617.4 1105.6 L619.4 1105.3 L621.3 1105.0 L623.3 1104.8 L625.3 1104.5 L627.3 1104.2 L629.2 1103.9 L631.2 1103.7 L633.2 1103.4 L635.2 1103.2 L637.2 1103.0 L639.1 1102.8 L641.1 1102.5 L643.1 1102.3 L645.1 1102.1 L647.1 1101.9 L649.1 1101.7 L651.1 1101.6 L653.1 1101.4 L655.0 1101.2 L657.0 1101.0 L659.0 1100.9 L661.0 1100.7 L663.0 1100.5 L665.0 1100.3 L667.0 1100.1 L669.0 1100.0 L671.0 1099.8 L673.0 1099.6 L674.9 1099.4 L676.9 1099.2 L678.9 1099.0 L680.9 1098.8 L682.9 1098.5 L684.9 1098.3 L686.8 1098.1 L688.8 1097.8 L690.8 1097.5 L692.8 1097.3 L694.7 1097.0 L696.7 1096.7 L698.7 1096.3 L700.6 1096.0 L702.6 1095.6 L704.6 1095.3 L706.5 1094.9 L708.5 1094.5 L710.4 1094.1 L712.4 1093.7 L714.3 1093.2 L716.3 1092.7 L718.2 1092.3 L720.2 1091.8 L722.1 1091.3 L724.0 1090.8 L726.0 1090.2 L727.9 1089.7 L729.8 1089.2 L731.8 1088.6 L733.7 1088.0 L735.6 1087.4 L737.5 1086.8 L739.4 1086.2 L741.3 1085.6 L743.2 1085.0 L745.1 1084.3 L747.0 1083.7 L748.9 1083.0 L750.8 1082.3 L752.7 1081.6 L754.6 1080.9 L756.5 1080.2 L758.4 1079.5 L760.2 1078.8 L762.1 1078.1 L764.0 1077.3 L765.8 1076.6 L767.7 1075.8 L769.6 1075.1 L771.4 1074.3 L773.3 1073.5 L775.1 1072.8 L777.0 1072.0 L778.8 1071.2 L780.6 1070.4 L782.5 1069.6 L784.3 1068.8 L786.1 1067.9 L787.9 1067.1 L789.8 1066.3 L791.6 1065.5 L793.4 1064.7 L795.2 1063.8 L797.0 1063.0 L798.8 1062.2 L800.6 1061.4 L802.5 1060.7 L804.3 1059.9 L806.1 1059.2 L808.0 1058.5 L809.8 1057.9 L811.7 1057.3 L813.6 1056.7 L815.5 1056.1 L817.4 1055.6 L819.3 1055.1 L821.2 1054.6 L823.1 1054.2 L825.0 1053.8 L827.0 1053.4 L828.9 1053.0 L830.9 1052.6 L832.8 1052.2 L834.8 1051.8 L836.7 1051.4 L838.7 1051.0 L840.7 1050.6 L842.6 1050.2 L844.6 1049.8 L846.6 1049.4 L848.5 1048.9 L850.5 1048.5 L852.4 1048.0 L854.4 1047.5 L856.3 1047.0 L858.3 1046.5 L860.2 1045.9 L862.1 1045.4 L864.1 1044.8 L866.0 1044.3 L867.9 1043.7 L869.8 1043.1 L871.7 1042.4 L873.7 1041.8 L875.5 1041.1 L877.4 1040.4 L879.3 1039.7 L881.2 1039.0 L883.1 1038.3 L884.9 1037.5 L886.8 1036.7 L888.6 1035.9 L890.4 1035.1 L892.2 1034.3 L894.0 1033.4 L895.8 1032.5 L897.6 1031.6 L899.4 1030.7 L901.1 1029.7 L902.9 1028.7 L904.6 1027.7 L906.3 1026.7 L908.0 1025.7 L909.7 1024.6 L911.4 1023.5 L913.0 1022.4 L914.7 1021.2 L916.3 1020.1 L917.9 1018.9 L919.5 1017.7 L921.1 1016.5 L922.7 1015.2 L924.3 1014.0 L925.9 1012.8 L927.5 1011.5 L929.0 1010.2 L930.6 1009.0 L932.2 1007.7 L933.7 1006.4 L935.3 1005.2 L936.8 1003.9 L938.4 1002.6 L940.0 1001.4 L941.5 1000.1 L943.1 998.9 L944.7 997.6 L946.3 996.4 L947.8 995.2 L949.4 994.0 L951.0 992.8 L952.7 991.7 L954.3 990.5 L955.9 989.4 L957.6 988.3 L959.2 987.2 L960.9 986.2 L962.6 985.2 L964.3 984.2 L966.0 983.2 L967.8 982.3 L969.5 981.4 L971.3 980.6 L973.1 979.7 L974.9 978.9 L976.7 978.2 L978.6 977.4 L980.4 976.7 L982.3 976.0 L984.1 975.3 L986.0 974.6 L987.9 974.0 L989.8 973.3 L991.7 972.7 L993.6 972.1 L995.5 971.4 L997.5 970.8 L999.4 970.2 L1001.3 969.6 L1003.2 969.0 L1005.1 968.4 L1007.1 967.8 L1009.0 967.1 L1010.9 966.5 L1012.8 965.9 L1014.7 965.2 L1016.6 964.5 L1018.5 963.9 L1020.4 963.1 L1022.2 962.4 L1024.1 961.7 L1026.0 960.9 L1027.8 960.1 L1029.6 959.3 L1031.4 958.5 L1033.2 957.6 L1035.0 956.7 L1036.8 955.8 L1038.6 954.9 L1040.3 953.9 L1042.0 952.9 L1043.7 951.9 L1045.4 950.8 L1047.1 949.7 L1048.7 948.6 L1050.3 947.4 L1051.9 946.3 L1053.5 945.0 L1055.1 943.8 L1056.6 942.5 L1058.2 941.3 L1059.7 940.0 L1061.2 938.7 L1062.7 937.3 L1064.2 936.0 L1065.7 934.7 L1067.2 933.3 L1068.7 932.0 L1070.2 930.6 L1071.7 929.3 L1073.2 928.0 L1074.7 926.7 L1076.3 925.4 L1077.8 924.1 L1079.3 922.8 L1080.9 921.6 L1082.5 920.3 L1084.1 919.1 L1085.7 918.0 L1087.3 916.8 L1089.0 915.7 L1090.6 914.7 L1092.3 913.6 L1094.1 912.6 L1095.8 911.7 L1097.6 910.8 L1099.4 909.9 L1101.2 909.0 L1103.0 908.1 L1104.8 907.3 L1106.6 906.4 L1108.5 905.6 L1110.3 904.7 L1112.1 903.9 L1113.9 903.0 L1115.7 902.1 L1117.5 901.2 L1119.3 900.3 L1121.1 899.3 L1122.8 898.4 L1124.5 897.4 L1126.2 896.3 L1127.9 895.3 L1129.6 894.2 L1131.3 893.1 L1132.9 892.0 L1134.5 890.8 L1136.2 889.7 L1137.8 888.5 L1139.4 887.3 L1141.0 886.1 L1142.6 884.9 L1144.1 883.7 L1145.7 882.5 L1147.3 881.2 L1148.8 880.0 L1150.4 878.7 L1152.0 877.4 L1153.5 876.2 L1155.1 874.9 L1156.6 873.6 L1158.2 872.4 L1159.7 871.1 L1161.3 869.9 L1162.8 868.6 L1164.4 867.3 L1166.0 866.1 L1167.5 864.8 L1169.1 863.6 L1170.7 862.3 L1172.2 861.1 L1173.8 859.8 L1175.4 858.6 L1176.9 857.3 L1178.5 856.1 L1180.1 854.8 L1181.6 853.6 L1183.2 852.4 L1184.8 851.1 L1186.4 849.9 L1187.9 848.6 L1189.5 847.4 L1191.1 846.2 L1192.7 844.9 L1194.2 843.7 L1195.8 842.5 L1197.4 841.2 L1198.9 840.0 L1200.5 838.7 L1202.1 837.5 L1203.7 836.3 L1205.2 835.0 L1206.8 833.8 L1208.4 832.5 L1209.9 831.3 L1211.5 830.0 L1213.0 828.8 L1214.6 827.5 L1216.2 826.3 L1217.7 825.0 L1219.3 823.8 L1220.8 822.5 L1222.4 821.3 L1223.9 820.0 L1225.5 818.8 L1227.0 817.5 L1228.6 816.2 L1230.1 815.0 L1231.7 813.7 L1233.2 812.4 L1234.7 811.2 L1236.3 809.9 L1237.8 808.6 L1239.3 807.3 L1240.9 806.0 L1242.4 804.7 L1243.9 803.4 L1245.4 802.2 L1246.9 800.9 L1248.4 799.5 L1249.9 798.2 L1251.4 796.9 L1252.9 795.6 L1254.4 794.3 L1255.9 793.0 L1257.4 791.6 L1258.9 790.3 L1260.4 789.0 L1261.8 787.6 L1263.3 786.3 L1264.8 784.9 L1266.2 783.6 L1267.7 782.2 L1269.1 780.9 L1270.6 779.5 L1272.0 778.1 L1273.5 776.7 L1274.9 775.3 L1276.3 773.9 L1277.8 772.6 L1279.2 771.2 L1280.6 769.8 L1282.0 768.3 L1283.4 766.9 L1284.9 765.5 L1286.3 764.1 L1287.7 762.7 L1289.1 761.3 L1290.5 759.9 L1291.9 758.5 L1293.4 757.1 L1294.8 755.7 L1296.2 754.3 L1297.6 752.9 L1299.1 751.5 L1300.5 750.1 L1301.9 748.7 L1303.4 747.3 L1304.8 746.0 L1306.3 744.6 L1307.8 743.2 L1309.2 741.9 L1310.7 740.5 L1312.2 739.2 L1313.7 737.9 L1315.2 736.5 L1316.7 735.2 L1318.2 733.9 L1319.7 732.6 L1321.3 731.3 L1322.8 730.1 L1324.4 728.8 L1326.0 727.5 L1327.6 726.3 L1329.2 725.1 L1330.8 723.9 L1332.4 722.7 L1334.1 721.5 L1335.7 720.3 L1337.4 719.2 L1339.1 718.0 L1340.8 716.9 L1342.5 715.9 L1344.2 714.8 L1346.0 713.8 L1347.8 712.7 L1349.5 711.8 L1351.4 710.8 L1353.2 709.9 L1355.0 709.1 L1356.9 708.3 L1358.8 707.6 L1360.6 707.0 L1362.5 706.5 L1364.4 706.2 L1366.2 706.2 L1368.1 706.3 L1369.9 706.6 L1371.8 707.2 L1373.5 707.9 L1375.3 708.8 L1376.9 709.9 L1378.6 711.1 L1380.1 712.4 L1381.6 713.8 L1383.0 715.3 L1384.4 717.0 L1385.6 718.6 L1386.7 720.4 L1387.7 722.1 L1388.6 724.0 L1389.5 725.8 L1390.2 727.7 L1390.8 729.5 L1391.4 731.5 L1391.9 733.4 L1392.4 735.3 L1392.8 737.3 L1393.2 739.2 L1393.6 741.2 L1394.0 743.2 L1394.4 745.1 L1394.8 747.1 L1395.1 749.1 L1395.5 751.0 L1395.9 753.0 L1396.3 755.0 L1396.6 756.9 L1397.0 758.9 L1397.4 760.9 L1397.7 762.8 L1398.1 764.8 L1398.5 766.8 L1398.8 768.7 L1399.2 770.7 L1399.6 772.7 L1399.9 774.7 L1400.3 776.6 L1400.6 778.6 L1401.0 780.6 L1401.3 782.5 L1401.7 784.5 L1402.1 786.5 L1402.4 788.4 L1402.8 790.4 L1403.1 792.4 L1403.5 794.4 L1403.8 796.3 L1404.2 798.3 L1404.5 800.3 L1404.9 802.2 L1405.2 804.2 L1405.5 806.2 L1405.9 808.1 L1406.2 810.1 L1406.6 812.1 L1406.9 814.1 L1407.3 816.0 L1407.6 818.0 L1408.0 820.0 L1408.3 821.9 L1408.7 823.9 L1409.0 825.9 L1409.3 827.8 L1409.7 829.8 L1410.0 831.8 L1410.4 833.8 L1410.7 835.7 L1411.1 837.7 L1411.4 839.7 L1411.7 841.6 L1412.1 843.6 L1412.4 845.6 L1412.8 847.5 L1413.1 849.5 L1413.5 851.5 L1413.8 853.4 L1414.1 855.4 L1414.5 857.4 L1414.8 859.4 L1415.2 861.3 L1415.5 863.3 L1415.9 865.3 L1416.2 867.2 L1416.6 869.2 L1416.9 871.2 L1417.3 873.1 L1417.6 875.1 L1418.0 877.1 L1418.3 879.0 L1418.7 881.0 L1419.0 883.0 L1419.4 884.9 L1419.7 886.9 L1420.1 888.9 L1420.4 890.8 L1420.8 892.8 L1421.2 894.8 L1421.5 896.7 L1421.9 898.7 L1422.2 900.7 L1422.6 902.6 L1423.0 904.6 L1423.3 906.6 L1423.7 908.5 L1424.1 910.5 L1424.4 912.4 L1424.8 914.4 L1425.2 916.4 L1425.6 918.3 L1425.9 920.3 L1426.3 922.3 L1426.7 924.2 L1427.1 926.2 L1427.5 928.1 L1427.8 930.1 L1428.2 932.1 L1428.6 934.0 L1429.0 936.0 L1429.4 937.9 L1429.8 939.9 L1430.2 941.8 L1430.6 943.8 L1431.0 945.8 L1431.4 947.7 L1431.8 949.7 L1432.2 951.6 L1432.6 953.6 L1433.0 955.5 L1433.4 957.5 L1433.8 959.5 L1434.3 961.4 L1434.7 963.4 L1435.1 965.3 L1435.5 967.3 L1435.9 969.2 L1436.4 971.2 L1436.8 973.1 L1437.2 975.1 L1437.7 977.0 L1438.1 979.0 L1438.5 980.9 L1439.0 982.9 L1439.4 984.8 L1439.9 986.8 L1440.3 988.7 L1440.8 990.7 L1441.2 992.6 L1441.7 994.6 L1442.2 996.5 L1442.6 998.5 L1443.1 1000.4 L1443.6 1002.3 L1444.0 1004.3 L1444.5 1006.2 L1445.0 1008.2 L1445.5 1010.1 L1446.0 1012.1 L1446.5 1014.0 L1447.0 1015.9 L1447.5 1017.9 L1448.0 1019.8 L1448.5 1021.8 L1449.0 1023.7 L1449.5 1025.6 L1450.0 1027.6 L1450.6 1029.5 L1451.1 1031.4 L1451.6 1033.3 L1452.2 1035.3 L1452.7 1037.2 L1453.3 1039.1 L1453.9 1041.0 L1454.4 1042.9 L1455.0 1044.8 L1455.6 1046.8 L1456.2 1048.7 L1456.8 1050.6 L1457.4 1052.5 L1458.0 1054.4 L1458.7 1056.3 L1459.3 1058.1 L1460.0 1060.0 L1460.6 1061.9 L1461.3 1063.8 L1462.0 1065.7 L1462.7 1067.5 L1463.4 1069.4 L1464.1 1071.3 L1464.8 1073.1 L1465.6 1075.0 L1466.3 1076.8 L1467.1 1078.6 L1467.9 1080.5 L1468.7 1082.3 L1469.5 1084.1 L1470.3 1086.0 L1471.1 1087.8 L1471.9 1089.6 L1472.8 1091.4 L1473.7 1093.2 L1474.5 1095.0 L1475.4 1096.7 L1476.4 1098.5 L1477.3 1100.3 L1478.2 1102.1 L1479.2 1103.8 L1480.2 1105.6 L1481.2 1107.3 L1482.2 1109.0 L1483.2 1110.8 L1484.2 1112.5 L1485.3 1114.2 L1486.4 1115.9 L1487.5 1117.6 L1488.6 1119.3 L1489.7 1120.9 L1490.8 1122.6 L1492.0 1124.3 L1493.2 1125.9 L1494.4 1127.5 L1495.6 1129.1 L1496.8 1130.7 L1498.0 1132.3 L1499.3 1133.9 L1500.6 1135.5 L1501.8 1137.0 L1503.1 1138.6 L1504.5 1140.1 L1505.8 1141.6 L1507.1 1143.1 L1508.5 1144.5 L1509.9 1146.0 L1511.3 1147.4 L1512.7 1148.9 L1514.1 1150.3 L1515.6 1151.6 L1517.0 1153.0 L1518.5 1154.3 L1520.0 1155.7 L1521.5 1157.0 L1523.0 1158.3 L1524.6 1159.5 L1526.1 1160.8 L1527.7 1162.0 L1529.3 1163.2 L1530.9 1164.4 L1532.5 1165.5 L1534.1 1166.6 L1535.8 1167.7 L1537.4 1168.8 L1539.1 1169.9 L1540.8 1170.9 L1542.5 1171.9 L1544.2 1172.9 L1545.9 1173.8 L1547.7 1174.8 L1549.5 1175.7 L1551.2 1176.5 L1553.0 1177.4 L1554.8 1178.2 L1556.7 1179.1 L1558.5 1179.9 L1560.3 1180.6 L1562.2 1181.4 L1564.0 1182.1 L1565.9 1182.9 L1567.7 1183.6 L1569.6 1184.3 L1571.5 1185.0 L1573.4 1185.7 L1575.3 1186.4 L1577.1 1187.1 L1579.0 1187.8 L1580.9 1188.5 L1582.8 1189.2 L1584.7 1189.8 L1586.6 1190.5 L1588.5 1191.2 L1590.4 1191.8 L1592.3 1192.5 L1594.2 1193.1 L1596.1 1193.7 L1598.1 1194.4 L1600.0 1195.0 L1601.9 1195.6 L1603.8 1196.2 L1605.7 1196.8 L1607.7 1197.3 L1609.6 1197.9 L1611.5 1198.5 L1613.4 1199.0 L1615.4 1199.5 L1617.3 1200.0 L1619.2 1200.5 L1621.2 1201.0 L1623.1 1201.5 L1625.1 1201.9 L1627.0 1202.4 L1629.0 1202.8 L1630.9 1203.2 L1632.9 1203.6 L1634.8 1204.0 L1636.8 1204.4 L1638.7 1204.8 L1640.7 1205.1 L1642.7 1205.5 L1644.6 1205.8 L1646.6 1206.2 L1648.6 1206.5 L1650.5 1206.8 L1652.5 1207.1 L1654.5 1207.4 L1656.4 1207.7 L1658.4 1208.0 L1660.4 1208.3 L1662.4 1208.5 L1664.3 1208.8 L1666.3 1209.1 L1668.3 1209.3 L1670.3 1209.6 L1672.3 1209.8 L1674.2 1210.1 L1676.2 1210.3 L1678.2 1210.6 L1680.2 1210.8 L1682.2 1211.0 L1684.2 1211.3 L1686.2 1211.5 L1688.1 1211.7 L1690.1 1211.9 L1692.1 1212.2 L1694.1 1212.4 L1696.1 1212.6 L1698.1 1212.8 L1700.1 1213.0 L1702.1 1213.3 L1704.0 1213.5 L1706.0 1213.7 L1708.0 1214.0 L1710.0 1214.2 L1712.0 1214.4 L1714.0 1214.7 L1716.0 1214.9 L1718.0 1215.1 L1719.9 1215.4 L1721.9 1215.6 L1723.9 1215.9 L1725.9 1216.1 L1727.9 1216.4 L1729.9 1216.6 L1731.9 1216.9 L1733.9 1217.1 L1735.8 1217.4 L1737.8 1217.6 L1739.8 1217.9 L1741.8 1218.2 L1743.8 1218.4 L1745.8 1218.7 L1747.8 1218.9 L1749.7 1219.1 L1751.7 1219.4 L1753.7 1219.6 L1755.7 1219.9 L1757.7 1220.1 L1759.7 1220.3 L1761.7 1220.6 L1763.7 1220.8 L1765.6 1221.0 L1767.6 1221.2 L1769.6 1221.4 L1771.6 1221.6 L1773.6 1221.8 L1775.6 1222.0 L1777.6 1222.2 L1779.6 1222.4 L1781.5 1222.5 L1783.5 1222.7 L1785.5 1222.9 L1787.5 1223.0 L1789.5 1223.1 L1791.5 1223.3 L1793.5 1223.4 L1795.5 1223.5 L1797.5 1223.6 L1799.5 1223.7 L1801.5 1223.8 L1803.5 1223.9 L1805.4 1224.0 L1807.4 1224.0 L1809.4 1224.1 L1811.4 1224.1 L1813.4 1224.1 L1815.4 1224.1 L1817.4 1224.1 L1819.4 1224.1 L1821.4 1224.1 L1823.4 1224.1 L1825.4 1224.1 L1827.4 1224.1 L1829.4 1224.0 L1831.4 1224.0 L1833.4 1224.0 L1835.4 1223.9 L1837.4 1223.9 L1839.4 1223.8 L1841.4 1223.8 L1843.4 1223.7 L1845.4 1223.7 L1847.4 1223.6 L1849.4 1223.6 L1851.4 1223.5 L1853.4 1223.5 L1855.4 1223.4 L1857.4 1223.4 L1859.4 1223.4 L1861.4 1223.3 L1863.4 1223.3 L1865.4 1223.3 L1867.4 1223.2 L1869.4 1223.2 L1871.4 1223.2 L1873.4 1223.1 L1875.4 1223.1 L1877.4 1223.1 L1879.4 1223.1 L1881.4 1223.1 L1883.4 1223.0 L1885.4 1223.0 L1887.4 1223.0 L1889.4 1223.0 L1891.4 1223.0 L1893.4 1223.0 L1895.4 1223.0 L1897.4 1223.0 L1899.4 1223.0 L1901.4 1223.0 L1903.4 1223.0 L1905.4 1223.0 L1907.4 1223.0 L1909.4 1223.0 L1911.4 1223.0 L1913.4 1223.0 L1915.4 1223.0 L1917.4 1223.0 L1919.4 1223.0 L1921.4 1223.0 L1923.4 1223.0 L1925.4 1223.0 L1927.4 1223.0 L1929.4 1223.0 L1931.4 1223.1 L1933.4 1223.1 L1935.4 1223.1 L1937.4 1223.1 L1939.4 1223.1 L1941.4 1223.2 L1943.4 1223.2 L1945.4 1223.2 L1947.4 1223.2 L1949.4 1223.2 L1951.4 1223.3 L1953.4 1223.3 L1955.4 1223.3 L1957.4 1223.3 L1959.4 1223.4 L1961.4 1223.4 L1963.4 1223.4 L1965.3 1223.5 L1967.3 1223.5 L1969.3 1223.5 L1971.3 1223.6 L1973.3 1223.6 L1975.3 1223.6 L1977.3 1223.7 L1979.3 1223.7 L1981.3 1223.7 L1983.3 1223.8 L1985.3 1223.8 L1987.3 1223.8 L1989.3 1223.9 L1991.3 1223.9 L1993.3 1223.9 L1995.3 1224.0 L1997.3 1224.0 L1999.3 1224.1 L2001.3 1224.1 L2003.3 1224.1 L2005.3 1224.2 L2007.3 1224.2 L2009.3 1224.2 L2011.3 1224.3 L2013.3 1224.3 L2015.3 1224.4 L2017.3 1224.4 L2019.3 1224.4 L2021.3 1224.5 L2023.3 1224.5 L2025.3 1224.6 L2027.3 1224.6 L2029.3 1224.6 L2031.3 1224.7 L2033.3 1224.7 L2035.3 1224.8 L2037.3 1224.8 L2039.3 1224.8 L2041.3 1224.9 L2043.3 1224.9 L2045.3 1224.9 L2047.3 1225.0 L2049.3 1225.0 L2051.3 1225.1 L2053.3 1225.1 L2055.3 1225.1 L2057.3 1225.2 L2059.3 1225.2 L2061.3 1225.2 L2063.3 1225.3 L2065.3 1225.3 L2067.3 1225.3 L2069.3 1225.4 L2071.3 1225.4 L2073.3 1225.4 L2075.3 1225.5 L2077.2 1225.5 L2079.2 1225.5 L2081.2 1225.6 L2083.2 1225.6 L2085.2 1225.6 L2087.2 1225.6 L2089.2 1225.7 L2091.2 1225.7 L2093.2 1225.7 L2095.2 1225.7 L2097.2 1225.8 L2099.2 1225.8 L2101.2 1225.8 L2103.2 1225.8 L2105.2 1225.8 L2107.2 1225.9 L2109.2 1225.9 L2111.2 1225.9 L2113.2 1225.9 L2115.2 1225.9 L2117.2 1225.9 L2119.2 1226.0 L2121.2 1226.0 L2123.2 1226.0 L2125.2 1226.0 L2127.2 1226.0 L2129.2 1226.0 L2131.2 1226.0 L2133.2 1226.0 L2135.2 1226.0 L2137.2 1226.1 L2139.2 1226.1 L2141.2 1226.1 L2143.2 1226.1 L2145.2 1226.1 L2147.2 1226.1 L2149.2 1226.1 L2151.2 1226.1 L2153.2 1226.1 L2155.2 1226.1 L2157.2 1226.2 L2159.2 1226.2 L2161.2 1226.2 L2163.2 1226.2 L2165.2 1226.2 L2167.2 1226.2 L2169.2 1226.2 L2171.2 1226.3 L2173.2 1226.3 L2175.2 1226.3 L2177.2 1226.3 L2179.2 1226.3 L2181.2 1226.3 L2183.2 1226.4 L2185.2 1226.4 L2187.2 1226.4 L2189.2 1226.4 L2191.2 1226.4 L2193.2 1226.5 L2195.2 1226.5 L2197.2 1226.5 L2199.2 1226.5 L2201.2 1226.6 L2203.2 1226.6 L2205.2 1226.6 L2207.2 1226.7 L2209.2 1226.7 L2211.2 1226.7 L2213.1 1226.8 L2215.1 1226.8 L2217.1 1226.9 L2219.1 1226.9 L2221.1 1226.9 L2223.1 1227.0 L2225.1 1227.0 L2227.1 1227.1 L2229.1 1227.1 L2231.1 1227.2 L2233.1 1227.2 L2235.1 1227.3 L2237.1 1227.4 L2239.1 1227.4 L2241.1 1227.5 L2243.1 1227.6 L2245.1 1227.6 L2247.1 1227.7 L2249.1 1227.8 L2251.1 1227.8 L2253.1 1227.9 L2255.1 1228.0 L2257.1 1228.1 L2259.1 1228.2 L2261.1 1228.3 L2263.1 1228.4 L2265.1 1228.5 L2267.1 1228.6 L2269.1 1228.7 L2271.1 1228.8 L2273.1 1228.9 L2275.1 1229.0 L2277.1 1229.1 L2279.1 1229.2 L2281.1 1229.3 L2283.1 1229.4 L2285.1 1229.6 L2287.0 1229.7 L2289.0 1229.8 L2291.0 1230.0 L2293.0 1230.1 L2295.0 1230.2 L2297.0 1230.4 L2299.0 1230.5 L2301.0 1230.7 L2303.0 1230.9 L2305.0 1231.0 L2307.0 1231.2 L2309.0 1231.3 L2311.0 1231.5" fill="none" stroke="#f00" stroke-width="4.0" stroke-linecap="round" stroke-linejoin="round"/>
<path d="M1376.9 709.9 L1378.6 711.1 L1380.1 712.4 L1381.6 713.8 L1383.0 715.3 L1384.4 717.0 L1385.6 718.6 L1386.7 720.4 L1387.7 722.1 L1388.6 724.0 L1389.5 725.8 L1390.2 727.7 L1390.8 729.5 L1391.4 731.5 L1391.9 733.4 L1392.4 735.3 L1392.8 737.3 L1393.2 739.2 L1393.6 741.2 L1394.0 743.2 L1394.4 745.1 L1394.8 747.1 L1395.1 749.1 L1395.5 751.0 L1395.9 753.0 L1396.3 755.0 L1396.6 756.9 L1397.0 758.9 L1397.4 760.9 L1397.7 762.8 L1398.1 764.8 L1398.5 766.8 L1398.8 768.7 L1399.2 770.7 L1399.6 772.7 L1399.9 774.7 L1400.3 776.6 L1400.6 778.6 L1401.0 780.6 L1401.3 782.5 L1401.7 784.5 L1402.1 786.5 L1402.4 788.4 L1402.8 790.4 L1403.1 792.4 L1403.5 794.4 L1403.8 796.3 L1404.2 798.3 L1404.5 800.3 L1404.9 802.2 L1405.2 804.2 L1405.5 806.2 L1405.9 808.1 L1406.2 810.1 L1406.6 812.1 L1406.9 814.1 L1407.3 816.0 L1407.6 818.0 L1408.0 820.0 L1408.3 821.9 L1408.7 823.9 L1409.0 825.9 L1409.3 827.8 L1409.7 829.8 L1410.0 831.8 L1410.4 833.8 L1410.7 835.7 L1411.1 837.7 L1411.4 839.7 L1411.7 841.6 L1412.1 843.6 L1412.4 845.6 L1412.8 847.5 L1413.1 849.5 L1413.5 851.5 L1413.8 853.4 L1414.1 855.4 L1414.5 857.4 L1414.8 859.4 L1415.2 861.3 L1415.5 863.3 L1415.9 865.3 L1416.2 867.2 L1416.6 869.2 L1416.9 871.2 L1417.3 873.1 L1417.6 875.1 L1418.0 877.1 L1418.3 879.0 L1418.7 881.0 L1419.0 883.0 L1419.4 884.9 L1419.7 886.9 L1420.1 888.9 L1420.4 890.8 L1420.8 892.8 L1421.2 894.8 L1421.5 896.7 L1421.9 898.7 L1422.2 900.7 L1422.6 902.6 L1423.0 904.6 L1423.3 906.6 L1423.7 908.5 L1424.1 910.5 L1424.4 912.4 L1424.8 914.4 L1425.2 916.4 L1425.6 918.3 L1425.9 920.3 L1426.3 922.3 L1426.7 924.2 L1427.1 926.2 L1427.5 928.1 L1427.8 930.1 L1428.2 932.1 L1428.6 934.0 L1429.0 936.0 L1429.4 937.9 L1429.8 939.9 L1430.2 941.8 L1430.6 943.8 L1431.0 945.8 L1431.4 947.7 L1431.8 949.7 L1432.2 951.6 L1432.6 953.6 L1433.0 955.5 L1433.4 957.5 L1433.8 959.5 L1434.3 961.4 L1434.7 963.4 L1435.1 965.3 L1435.5 967.3 L1435.9 969.2 L1436.4 971.2 L1436.8 973.1 L1437.2 975.1 L1437.7 977.0 L1438.1 979.0 L1438.5 980.9 L1439.0 982.9 L1439.4 984.8 L1439.9 986.8 L1440.3 988.7 L1440.8 990.7 L1441.2 992.6 L1441.7 994.6 L1442.2 996.5 L1442.6 998.5 L1443.1 1000.4 L1443.6 1002.3 L1444.0 1004.3 L1444.5 1006.2 L1445.0 1008.2 L1445.5 1010.1 L1446.0 1012.1 L1446.5 1014.0 L1447.0 1015.9 L1447.5 1017.9 L1448.0 1019.8 L1448.5 1021.8 L1449.0 1023.7 L1449.5 1025.6 L1450.0 1027.6 L1450.6 1029.5 L1451.1 1031.4 L1451.6 1033.3 L1452.2 1035.3 L1452.7 1037.2 L1453.3 1039.1 L1453.9 1041.0 L1454.4 1042.9 L1455.0 1044.8 L1455.6 1046.8 L1456.2 1048.7 L1456.8 1050.6 L1457.4 1052.5 L1458.0 1054.4 L1458.7 1056.3 L1459.3 1058.1 L1460.0 1060.0 L1460.6 1061.9 L1461.3 1063.8 L1462.0 1065.7 L1462.7 1067.5 L1463.4 1069.4 L1464.1 1071.3 L1464.8 1073.1 L1465.6 1075.0 L1466.3 1076.8 L1467.1 1078.6 L1467.9 1080.5 L1468.7 1082.3 L1469.5 1084.1 L1470.3 1086.0 L1471.1 1087.8 L1471.9 1089.6 L1472.8 1091.4 L1473.7 1093.2 L1474.5 1095.0 L1475.4 1096.7 L1476.4 1098.5 L1477.3 1100.3 L1478.2 1102.1 L1479.2 1103.8 L1480.2 1105.6 L1481.2 1107.3 L1482.2 1109.0 L1483.2 1110.8 L1484.2 1112.5 L1485.3 1114.2 L1486.4 1115.9 L1487.5 1117.6 L1488.6 1119.3 L1489.7 1120.9 L1490.8 1122.6 L1492.0 1124.3 L1493.2 1125.9 L1494.4 1127.5 L1495.6 1129.1 L1496.8 1130.7 L1498.0 1132.3 L1499.3 1133.9 L1500.6 1135.5 L1501.8 1137.0 L1503.1 1138.6 L1504.5 1140.1 L1505.8 1141.6 L1507.1 1143.1 L1508.5 1144.5 L1509.9 1146.0 L1511.3 1147.4 L1512.7 1148.9 L1514.1 1150.3 L1515.6 1151.6 L1517.0 1153.0 L1518.5 1154.3 L1520.0 1155.7 L1521.5 1157.0 L1523.0 1158.3 L1524.6 1159.5 L1526.1 1160.8 L1527.7 1162.0 L1529.3 1163.2" fill="none" stroke="#f00" stroke-width="5.5" stroke-linecap="round" stroke-linejoin="round"/>
<path d="M1383.0 715.3 L1384.4 717.0 L1385.6 718.6 L1386.7 720.4 L1387.7 722.1 L1388.6 724.0 L1389.5 725.8 L1390.2 727.7 L1390.8 729.5 L1391.4 731.5 L1391.9 733.4 L1392.4 735.3 L1392.8 737.3 L1393.2 739.2 L1393.6 741.2 L1394.0 743.2 L1394.4 745.1 L1394.8 747.1 L1395.1 749.1 L1395.5 751.0 L1395.9 753.0 L1396.3 755.0 L1396.6 756.9 L1397.0 758.9 L1397.4 760.9 L1397.7 762.8 L1398.1 764.8 L1398.5 766.8 L1398.8 768.7 L1399.2 770.7 L1399.6 772.7 L1399.9 774.7 L1400.3 776.6 L1400.6 778.6 L1401.0 780.6 L1401.3 782.5 L1401.7 784.5 L1402.1 786.5 L1402.4 788.4 L1402.8 790.4 L1403.1 792.4 L1403.5 794.4 L1403.8 796.3 L1404.2 798.3 L1404.5 800.3 L1404.9 802.2 L1405.2 804.2 L1405.5 806.2 L1405.9 808.1 L1406.2 810.1 L1406.6 812.1 L1406.9 814.1 L1407.3 816.0 L1407.6 818.0 L1408.0 820.0 L1408.3 821.9 L1408.7 823.9 L1409.0 825.9 L1409.3 827.8 L1409.7 829.8 L1410.0 831.8 L1410.4 833.8 L1410.7 835.7 L1411.1 837.7 L1411.4 839.7 L1411.7 841.6 L1412.1 843.6 L1412.4 845.6 L1412.8 847.5 L1413.1 849.5 L1413.5 851.5 L1413.8 853.4 L1414.1 855.4 L1414.5 857.4 L1414.8 859.4 L1415.2 861.3 L1415.5 863.3 L1415.9 865.3 L1416.2 867.2 L1416.6 869.2 L1416.9 871.2 L1417.3 873.1 L1417.6 875.1 L1418.0 877.1 L1418.3 879.0 L1418.7 881.0 L1419.0 883.0 L1419.4 884.9 L1419.7 886.9 L1420.1 888.9 L1420.4 890.8 L1420.8 892.8 L1421.2 894.8 L1421.5 896.7 L1421.9 898.7 L1422.2 900.7 L1422.6 902.6 L1423.0 904.6 L1423.3 906.6 L1423.7 908.5 L1424.1 910.5 L1424.4 912.4 L1424.8 914.4 L1425.2 916.4 L1425.6 918.3 L1425.9 920.3 L1426.3 922.3 L1426.7 924.2 L1427.1 926.2 L1427.5 928.1 L1427.8 930.1 L1428.2 932.1 L1428.6 934.0 L1429.0 936.0 L1429.4 937.9 L1429.8 939.9 L1430.2 941.8 L1430.6 943.8 L1431.0 945.8 L1431.4 947.7 L1431.8 949.7 L1432.2 951.6 L1432.6 953.6 L1433.0 955.5 L1433.4 957.5 L1433.8 959.5 L1434.3 961.4 L1434.7 963.4 L1435.1 965.3 L1435.5 967.3 L1435.9 969.2 L1436.4 971.2 L1436.8 973.1 L1437.2 975.1 L1437.7 977.0 L1438.1 979.0 L1438.5 980.9 L1439.0 982.9 L1439.4 984.8 L1439.9 986.8 L1440.3 988.7 L1440.8 990.7 L1441.2 992.6 L1441.7 994.6 L1442.2 996.5 L1442.6 998.5 L1443.1 1000.4 L1443.6 1002.3 L1444.0 1004.3 L1444.5 1006.2 L1445.0 1008.2 L1445.5 1010.1 L1446.0 1012.1 L1446.5 1014.0 L1447.0 1015.9 L1447.5 1017.9 L1448.0 1019.8 L1448.5 1021.8 L1449.0 1023.7 L1449.5 1025.6 L1450.0 1027.6 L1450.6 1029.5 L1451.1 1031.4 L1451.6 1033.3 L1452.2 1035.3 L1452.7 1037.2 L1453.3 1039.1 L1453.9 1041.0 L1454.4 1042.9 L1455.0 1044.8 L1455.6 1046.8 L1456.2 1048.7 L1456.8 1050.6 L1457.4 1052.5 L1458.0 1054.4 L1458.7 1056.3 L1459.3 1058.1 L1460.0 1060.0 L1460.6 1061.9 L1461.3 1063.8 L1462.0 1065.7 L1462.7 1067.5 L1463.4 1069.4 L1464.1 1071.3 L1464.8 1073.1 L1465.6 1075.0 L1466.3 1076.8 L1467.1 1078.6 L1467.9 1080.5 L1468.7 1082.3 L1469.5 1084.1 L1470.3 1086.0 L1471.1 1087.8 L1471.9 1089.6 L1472.8 1091.4 L1473.7 1093.2 L1474.5 1095.0 L1475.4 1096.7 L1476.4 1098.5 L1477.3 1100.3 L1478.2 1102.1 L1479.2 1103.8 L1480.2 1105.6 L1481.2 1107.3 L1482.2 1109.0 L1483.2 1110.8 L1484.2 1112.5 L1485.3 1114.2 L1486.4 1115.9 L1487.5 1117.6 L1488.6 1119.3 L1489.7 1120.9 L1490.8 1122.6 L1492.0 1124.3 L1493.2 1125.9 L1494.4 1127.5 L1495.6 1129.1 L1496.8 1130.7 L1498.0 1132.3 L1499.3 1133.9" fill="none" stroke="#f00" stroke-width="7.8" stroke-linecap="round" stroke-linejoin="round"/>
<path d="M183.0 1177.5 L184.0 1177.5 L185.0 1177.4 L186.0 1177.4 L187.0 1177.3 L188.0 1177.2 L189.0 1177.2 L190.0 1177.1 L191.0 1177.1 L192.0 1177.0 L193.0 1177.0 L194.0 1176.9 L195.0 1176.8 L196.0 1176.8 L197.0 1176.7 L198.0 1176.7 L199.0 1176.6 L199.9 1176.6 L200.9 1176.5 L201.9 1176.4 L202.9 1176.4 L203.9 1176.3 L204.9 1176.3 L205.9 1176.2 L206.9 1176.1 L207.9 1176.1 L208.9 1176.0 L209.9 1176.0 L210.9 1175.9 L211.9 1175.8 L212.9 1175.8 L213.9 1175.7 L214.9 1175.7 L215.9 1175.6 L216.9 1175.5 L217.9 1175.5 L218.9 1175.4 L219.9 1175.4 L220.9 1175.3 L221.8 1175.2 L222.8 1175.2 L223.8 1175.1 L224.8 1175.0 L225.8 1175.0 L226.8 1174.9 L227.8 1174.9 L228.8 1174.8 L229.8 1174.7 L230.8 1174.7 L231.8 1174.6 L232.8 1174.5 L233.8 1174.5 L234.8 1174.4 L235.8 1174.4 L236.8 1174.3 L237.8 1174.2 L238.8 1174.2 L239.8 1174.1 L240.8 1174.0 L241.8 1174.0 L242.8 1173.9 L243.8 1173.8 L244.8 1173.8 L245.8 1173.7 L246.8 1173.6 L247.7 1173.6 L248.7 1173.5 L249.7 1173.4 L250.7 1173.4 L251.7 1173.3 L252.7 1173.2 L253.7 1173.2 L254.7 1173.1 L255.7 1173.0 L256.7 1173.0 L257.7 1172.9 L258.7 1172.8 L259.7 1172.8 L260.7 1172.7 L261.7 1172.6 L262.7 1172.5 L263.7 1172.5 L264.7 1172.4 L265.7 1172.3 L266.7 1172.3 L267.7 1172.2 L268.7 1172.1 L269.7 1172.1 L270.7 1172.0 L271.7 1171.9 L272.7 1171.8 L273.7 1171.8 L274.7 1171.7 L275.7 1171.6 L276.7 1171.6 L277.7 1171.5 L278.7 1171.4 L279.6 1171.3 L280.6 1171.3 L281.6 1171.2 L282.6 1171.1 L283.6 1171.0 L284.6 1171.0 L285.6 1170.9 L286.6 1170.8 L287.6 1170.7 L288.6 1170.7 L289.6 1170.6 L290.6 1170.5 L291.6 1170.4 L292.6 1170.4 L293.6 1170.3 L294.6 1170.2 L295.6 1170.1 L296.6 1170.1 L297.6 1170.0 L298.6 1169.9 L299.6 1169.8 L300.6 1169.8 L301.6 1169.7 L302.6 1169.6 L303.6 1169.5 L304.6 1169.4 L305.6 1169.4 L306.6 1169.3 L307.6 1169.2 L308.6 1169.1 L309.6 1169.1 L310.6 1169.0 L311.6 1168.9 L312.6 1168.8 L313.6 1168.7 L314.6 1168.7 L315.6 1168.6 L316.5 1168.5 L317.5 1168.4 L318.5 1168.3 L319.5 1168.2 L320.5 1168.2 L321.5 1168.1 L322.5 1168.0 L323.5 1167.9 L324.5 1167.8 L325.5 1167.8 L326.5 1167.7 L327.5 1167.6 L328.5 1167.5 L329.5 1167.4 L330.5 1167.3 L331.5 1167.3 L332.5 1167.2 L333.5 1167.1 L334.5 1167.0 L335.5 1166.9 L336.5 1166.8 L337.5 1166.7 L338.5 1166.7 L339.5 1166.6 L340.5 1166.5 L341.5 1166.4 L342.5 1166.3 L343.5 1166.2 L344.5 1166.1 L345.5 1166.0 L346.5 1166.0 L347.5 1165.9 L348.5 1165.8 L349.5 1165.7 L350.5 1165.6 L351.5 1165.5 L352.5 1165.4 L353.4 1165.3 L354.4 1165.2 L355.4 1165.2 L356.4 1165.1 L357.4 1165.0 L358.4 1164.9 L359.4 1164.8 L360.4 1164.7 L361.4 1164.6 L362.4 1164.5 L363.4 1164.4 L364.4 1164.3 L365.4 1164.2 L366.4 1164.1 L367.4 1164.0 L368.4 1164.0 L369.4 1163.9 L370.4 1163.8 L371.4 1163.7 L372.4 1163.6 L373.4 1163.5 L374.4 1163.4 L375.4 1163.3 L376.4 1163.2 L377.4 1163.1 L378.4 1163.0 L379.4 1162.9 L380.4 1162.8 L381.4 1162.7 L382.4 1162.6 L383.4 1162.5 L384.4 1162.4 L385.4 1162.3 L386.3 1162.2 L387.3 1162.1 L388.3 1162.0 L389.3 1161.9 L390.3 1161.8 L391.3 1161.7 L392.3 1161.6 L393.3 1161.5 L394.3 1161.4 L395.3 1161.3 L396.3 1161.2 L397.3 1161.1 L398.3 1161.0 L399.3 1160.9 L400.3 1160.8 L401.3 1160.7 L402.3 1160.6 L403.3 1160.5 L404.3 1160.4 L405.3 1160.3 L406.3 1160.2 L407.3 1160.1 L408.3 1160.0 L409.3 1159.9 L410.3 1159.8 L411.3 1159.7 L412.3 1159.6 L413.2 1159.4 L414.2 1159.3 L415.2 1159.2 L416.2 1159.1 L417.2 1159.0 L418.2 1158.9 L419.2 1158.8 L420.2 1158.7 L421.2 1158.6 L422.2 1158.5 L423.2 1158.4 L424.2 1158.3 L425.2 1158.1 L426.2 1158.0 L427.2 1157.9 L428.2 1157.8 L429.2 1157.7 L430.2 1157.6 L431.2 1157.5 L432.2 1157.4 L433.2 1157.3 L434.2 1157.1 L435.1 1157.0 L436.1 1156.9 L437.1 1156.8 L438.1 1156.7 L439.1 1156.6 L440.1 1156.5 L441.1 1156.3 L442.1 1156.2 L443.1 1156.1 L444.1 1156.0 L445.1 1155.9 L446.1 1155.8 L447.1 1155.6 L448.1 1155.5 L449.1 1155.4 L450.1 1155.3 L451.1 1155.2 L452.1 1155.1 L453.1 1154.9 L454.0 1154.8 L455.0 1154.7 L456.0 1154.6 L457.0 1154.5 L458.0 1154.3 L459.0 1154.2 L460.0 1154.1 L461.0 1154.0 L462.0 1153.9 L463.0 1153.7 L464.0 1153.6 L465.0 1153.5 L466.0 1153.4 L467.0 1153.2 L468.0 1153.1 L469.0 1153.0 L470.0 1152.9 L470.9 1152.7 L471.9 1152.6 L472.9 1152.5 L473.9 1152.4 L474.9 1152.2 L475.9 1152.1 L476.9 1152.0 L477.9 1151.9 L478.9 1151.7 L479.9 1151.6 L480.9 1151.5 L481.9 1151.4 L482.9 1151.2 L483.9 1151.1 L484.8 1151.0 L485.8 1150.8 L486.8 1150.7 L487.8 1150.6 L488.8 1150.4 L489.8 1150.3 L490.8 1150.2 L491.8 1150.0 L492.8 1149.9 L493.8 1149.8 L494.8 1149.7 L495.8 1149.5 L496.8 1149.4 L497.8 1149.3 L498.7 1149.1 L499.7 1149.0 L500.7 1148.8 L501.7 1148.7 L502.7 1148.6 L503.7 1148.4 L504.7 1148.3 L505.7 1148.2 L506.7 1148.0 L507.7 1147.9 L508.7 1147.8 L509.7 1147.6 L510.6 1147.5 L511.6 1147.3 L512.6 1147.2 L513.6 1147.1 L514.6 1146.9 L515.6 1146.8 L516.6 1146.6 L517.6 1146.5 L518.6 1146.4 L519.6 1146.2 L520.6 1146.1 L521.5 1145.9 L522.5 1145.8 L523.5 1145.6 L524.5 1145.5 L525.5 1145.4 L526.5 1145.2 L527.5 1145.1 L528.5 1144.9 L529.5 1144.8 L530.5 1144.6 L531.4 1144.5 L532.4 1144.3 L533.4 1144.2 L534.4 1144.0 L535.4 1143.9 L536.4 1143.7 L537.4 1143.6 L538.4 1143.4 L539.4 1143.3 L540.3 1143.1 L541.3 1143.0 L542.3 1142.8 L543.3 1142.7 L544.3 1142.5 L545.3 1142.4 L546.3 1142.2 L547.3 1142.1 L548.3 1141.9 L549.2 1141.8 L550.2 1141.6 L551.2 1141.5 L552.2 1141.3 L553.2 1141.2 L554.2 1141.0 L555.2 1140.9 L556.2 1140.7 L557.2 1140.5 L558.1 1140.4 L559.1 1140.2 L560.1 1140.1 L561.1 1139.9 L562.1 1139.8 L563.1 1139.6 L564.1 1139.4 L565.1 1139.3 L566.0 1139.1 L567.0 1139.0 L568.0 1138.8 L569.0 1138.6 L570.0 1138.5 L571.0 1138.3 L572.0 1138.2 L572.9 1138.0 L573.9 1137.8 L574.9 1137.7 L575.9 1137.5 L576.9 1137.3 L577.9 1137.2 L578.9 1137.0 L579.8 1136.8 L580.8 1136.7 L581.8 1136.5 L582.8 1136.3 L583.8 1136.2 L584.8 1136.0 L585.8 1135.8 L586.7 1135.7 L587.7 1135.5 L588.7 1135.3 L589.7 1135.2 L590.7 1135.0 L591.7 1134.8 L592.7 1134.7 L593.6 1134.5 L594.6 1134.3 L595.6 1134.1 L596.6 1134.0 L597.6 1133.8 L598.6 1133.6 L599.5 1133.5 L600.5 1133.3 L601.5 1133.1 L602.5 1132.9 L603.5 1132.8 L604.5 1132.6 L605.4 1132.4 L606.4 1132.2 L607.4 1132.0 L608.4 1131.9 L609.4 1131.7 L610.4 1131.5 L611.3 1131.3 L612.3 1131.2 L613.3 1131.0 L614.3 1130.8 L615.3 1130.6 L616.3 1130.4 L617.2 1130.3 L618.2 1130.1 L619.2 1129.9 L620.2 1129.7 L621.2 1129.5 L622.2 1129.3 L623.1 1129.2 L624.1 1129.0 L625.1 1128.8 L626.1 1128.6 L627.1 1128.4 L628.0 1128.2 L629.0 1128.0 L630.0 1127.9 L631.0 1127.7 L632.0 1127.5 L632.9 1127.3 L633.9 1127.1 L634.9 1126.9 L635.9 1126.7 L636.9 1126.5 L637.8 1126.3 L638.8 1126.2 L639.8 1126.0 L640.8 1125.8 L641.8 1125.6 L642.7 1125.4 L643.7 1125.2 L644.7 1125.0 L645.7 1124.8 L646.7 1124.6 L647.6 1124.4 L648.6 1124.2 L649.6 1124.0 L650.6 1123.8 L651.6 1123.6 L652.5 1123.4 L653.5 1123.2 L654.5 1123.0 L655.5 1122.8 L656.5 1122.6 L657.4 1122.4 L658.4 1122.2 L659.4 1122.0 L660.4 1121.8 L661.3 1121.6 L662.3 1121.4 L663.3 1121.2 L664.3 1121.0 L665.3 1120.8 L666.2 1120.6 L667.2 1120.4 L668.2 1120.2 L669.2 1120.0 L670.1 1119.8 L671.1 1119.6 L672.1 1119.4 L673.1 1119.2 L674.0 1119.0 L675.0 1118.8 L676.0 1118.6 L677.0 1118.4 L677.9 1118.1 L678.9 1117.9 L679.9 1117.7 L680.9 1117.5 L681.8 1117.3 L682.8 1117.1 L683.8 1116.9 L684.8 1116.7 L685.7 1116.5 L686.7 1116.2 L687.7 1116.0 L688.7 1115.8 L689.6 1115.6 L690.6 1115.4 L691.6 1115.2 L692.6 1115.0 L693.5 1114.7 L694.5 1114.5 L695.5 1114.3 L696.5 1114.1 L697.4 1113.9 L698.4 1113.7 L699.4 1113.4 L700.4 1113.2 L701.3 1113.0 L702.3 1112.8 L703.3 1112.6 L704.2 1112.3 L705.2 1112.1 L706.2 1111.9 L707.2 1111.7 L708.1 1111.4 L709.1 1111.2 L710.1 1111.0 L711.1 1110.8 L712.0 1110.5 L713.0 1110.3 L714.0 1110.1 L714.9 1109.9 L715.9 1109.6 L716.9 1109.4 L717.9 1109.2 L718.8 1109.0 L719.8 1108.7 L720.8 1108.5 L721.7 1108.3 L722.7 1108.0 L723.7 1107.8 L724.7 1107.6 L725.6 1107.3 L726.6 1107.1 L727.6 1106.9 L728.5 1106.6 L729.5 1106.4 L730.5 1106.2 L731.4 1105.9 L732.4 1105.7 L733.4 1105.5 L734.4 1105.2 L735.3 1105.0 L736.3 1104.8 L737.3 1104.5 L738.2 1104.3 L739.2 1104.0 L740.2 1103.8 L741.1 1103.6 L742.1 1103.3 L743.1 1103.1 L744.0 1102.8 L745.0 1102.6 L746.0 1102.4 L747.0 1102.1 L747.9 1101.9 L748.9 1101.6 L749.9 1101.4 L750.8 1101.2 L751.8 1100.9 L752.8 1100.7 L753.7 1100.4 L754.7 1100.2 L755.7 1099.9 L756.6 1099.7 L757.6 1099.4 L758.6 1099.2 L759.5 1098.9 L760.5 1098.7 L761.5 1098.4 L762.4 1098.2 L763.4 1097.9 L764.4 1097.7 L765.3 1097.4 L766.3 1097.2 L767.3 1096.9 L768.2 1096.7 L769.2 1096.4 L770.2 1096.2 L771.1 1095.9 L772.1 1095.7 L773.1 1095.4 L774.0 1095.2 L775.0 1094.9 L775.9 1094.6 L776.9 1094.4 L777.9 1094.1 L778.8 1093.9 L779.8 1093.6 L780.8 1093.4 L781.7 1093.1 L782.7 1092.8 L783.7 1092.6 L784.6 1092.3 L785.6 1092.0 L786.6 1091.8 L787.5 1091.5 L788.5 1091.3 L789.4 1091.0 L790.4 1090.7 L791.4 1090.5 L792.3 1090.2 L793.3 1089.9 L794.3 1089.7 L795.2 1089.4 L796.2 1089.1 L797.2 1088.9 L798.1 1088.6 L799.1 1088.3 L800.0 1088.1 L801.0 1087.8 L802.0 1087.5 L802.9 1087.3 L803.9 1087.0 L804.9 1086.7 L805.8 1086.5 L806.8 1086.2 L807.7 1085.9 L808.7 1085.6 L809.7 1085.4 L810.6 1085.1 L811.6 1084.8 L812.5 1084.5 L813.5 1084.3 L814.5 1084.0 L815.4 1083.7 L816.4 1083.4 L817.3 1083.2 L818.3 1082.9 L819.3 1082.6 L820.2 1082.3 L821.2 1082.0 L822.2 1081.8 L823.1 1081.5 L824.1 1081.2 L825.0 1080.9 L826.0 1080.6 L826.9 1080.4 L827.9 1080.1 L828.9 1079.8 L829.8 1079.5 L830.8 1079.2 L831.7 1078.9 L832.7 1078.7 L833.7 1078.4 L834.6 1078.1 L835.6 1077.8 L836.5 1077.5 L837.5 1077.2 L838.5 1077.0 L839.4 1076.7 L840.4 1076.4 L841.3 1076.1 L842.3 1075.8 L843.3 1075.5 L844.2 1075.2 L845.2 1074.9 L846.1 1074.7 L847.1 1074.4 L848.0 1074.1 L849.0 1073.8 L850.0 1073.5 L850.9 1073.2 L851.9 1072.9 L852.8 1072.6 L853.8 1072.3 L854.7 1072.1 L855.7 1071.8 L856.7 1071.5 L857.6 1071.2 L858.6 1070.9 L859.5 1070.6 L860.5 1070.3 L861.4 1070.0 L862.4 1069.7 L863.4 1069.4 L864.3 1069.1 L865.3 1068.8 L866.2 1068.5 L867.2 1068.3 L868.1 1068.0 L869.1 1067.7 L870.1 1067.4 L871.0 1067.1 L872.0 1066.8 L872.9 1066.5 L873.9 1066.2 L874.8 1065.9 L875.8 1065.6 L876.7 1065.3 L877.7 1065.0 L878.7 1064.7 L879.6 1064.4 L880.6 1064.1 L881.5 1063.8 L882.5 1063.5 L883.4 1063.2 L884.4 1062.9 L885.3 1062.6 L886.3 1062.4 L887.3 1062.1 L888.2 1061.8 L889.2 1061.5 L890.1 1061.2 L891.1 1060.9 L892.0 1060.6 L893.0 1060.3 L893.9 1060.0 L894.9 1059.7 L895.9 1059.4 L896.8 1059.1 L897.8 1058.8 L898.7 1058.5 L899.7 1058.2 L900.6 1057.9 L901.6 1057.6 L902.5 1057.3 L903.5 1057.0 L904.5 1056.7 L905.4 1056.4 L906.4 1056.1 L907.3 1055.8 L908.3 1055.5 L909.2 1055.2 L910.2 1054.9 L911.1 1054.6 L912.1 1054.3 L913.0 1054.0 L914.0 1053.7 L915.0 1053.4 L915.9 1053.1 L916.9 1052.9 L917.8 1052.6 L918.8 1052.3 L919.7 1052.0 L920.7 1051.7 L921.6 1051.4 L922.6 1051.1 L923.5 1050.8 L924.5 1050.5 L925.4 1050.2 L926.4 1049.9 L927.4 1049.6 L928.3 1049.3 L929.3 1049.0 L930.2 1048.7 L931.2 1048.4 L932.1 1048.1 L933.1 1047.8 L934.0 1047.5 L935.0 1047.2 L935.9 1046.9 L936.9 1046.6 L937.9 1046.4 L938.8 1046.1 L939.8 1045.8 L940.7 1045.5 L941.7 1045.2 L942.6 1044.9 L943.6 1044.6 L944.5 1044.3 L945.5 1044.0 L946.4 1043.7 L947.4 1043.4 L948.3 1043.1 L949.3 1042.8 L950.3 1042.5 L951.2 1042.3 L952.2 1042.0 L953.1 1041.7 L954.1 1041.4 L955.0 1041.1 L956.0 1040.8 L956.9 1040.5 L957.9 1040.2 L958.8 1039.9 L959.8 1039.6 L960.8 1039.4 L961.7 1039.1 L962.7 1038.8 L963.6 1038.5 L964.6 1038.2 L965.5 1037.9 L966.5 1037.6 L967.4 1037.4 L968.4 1037.1 L969.3 1036.8 L970.3 1036.5 L971.3 1036.2 L972.2 1036.0 L973.2 1035.7 L974.1 1035.4 L975.1 1035.1 L976.0 1034.9 L977.0 1034.6 L978.0 1034.4 L978.9 1034.1 L979.9 1033.8 L980.8 1033.6 L981.8 1033.4 L982.8 1033.1 L983.7 1032.9 L984.7 1032.7 L985.7 1032.4 L986.6 1032.2 L987.6 1032.0 L988.6 1031.8 L989.5 1031.6 L990.5 1031.4 L991.5 1031.2 L992.4 1031.0 L993.4 1030.8 L994.4 1030.7 L995.4 1030.5 L996.3 1030.3 L997.3 1030.2 L998.3 1030.1 L999.3 1029.9 L1000.3 1029.8 L1001.2 1029.7 L1002.2 1029.6 L1003.2 1029.5 L1004.2 1029.4 L1005.2 1029.3 L1006.2 1029.2 L1007.2 1029.1 L1008.2 1029.1 L1009.2 1029.0 L1010.2 1029.0 L1011.2 1028.9 L1012.2 1028.9 L1013.2 1028.8 L1014.2 1028.8 L1015.2 1028.8 L1016.2 1028.7 L1017.2 1028.7 L1018.2 1028.7 L1019.2 1028.6 L1020.2 1028.6 L1021.2 1028.6 L1022.2 1028.6 L1023.2 1028.5 L1024.1 1028.5 L1025.1 1028.5 L1026.1 1028.4 L1027.1 1028.4 L1028.1 1028.3 L1029.1 1028.3 L1030.1 1028.2 L1031.1 1028.2 L1032.1 1028.1 L1033.1 1028.1 L1034.1 1028.0 L1035.1 1027.9 L1036.0 1027.8 L1037.0 1027.7 L1038.0 1027.6 L1039.0 1027.5 L1040.0 1027.4 L1040.9 1027.2 L1041.9 1027.1 L1042.9 1026.9 L1043.8 1026.8 L1044.8 1026.6 L1045.7 1026.4 L1046.7 1026.2 L1047.7 1026.0 L1048.6 1025.7 L1049.6 1025.5 L1050.5 1025.2 L1051.4 1024.9 L1052.4 1024.7 L1053.3 1024.4 L1054.2 1024.1 L1055.2 1023.7 L1056.1 1023.4 L1057.0 1023.1 L1058.0 1022.7 L1058.9 1022.4 L1059.8 1022.0 L1060.7 1021.7 L1061.7 1021.3 L1062.6 1020.9 L1063.5 1020.6 L1064.4 1020.2 L1065.4 1019.8 L1066.3 1019.5 L1067.2 1019.1 L1068.1 1018.7 L1069.1 1018.3 L1070.0 1018.0 L1070.9 1017.6 L1071.9 1017.2 L1072.8 1016.9 L1073.7 1016.5 L1074.7 1016.2 L1075.6 1015.8 L1076.6 1015.5 L1077.5 1015.1 L1078.4 1014.8 L1079.4 1014.5 L1080.3 1014.2 L1081.3 1013.9 L1082.3 1013.6 L1083.2 1013.2 L1084.2 1012.9 L1085.1 1012.7 L1086.1 1012.4 L1087.0 1012.1 L1088.0 1011.8 L1089.0 1011.5 L1089.9 1011.2 L1090.9 1011.0 L1091.9 1010.7 L1092.9 1010.4 L1093.8 1010.2 L1094.8 1009.9 L1095.8 1009.6 L1096.8 1009.4 L1097.7 1009.1 L1098.7 1008.9 L1099.7 1008.6 L1100.7 1008.4 L1101.6 1008.2 L1102.6 1007.9 L1103.6 1007.7 L1104.6 1007.4 L1105.6 1007.2 L1106.5 1007.0 L1107.5 1006.7 L1108.5 1006.5 L1109.5 1006.3 L1110.5 1006.1 L1111.5 1005.8 L1112.5 1005.6 L1113.4 1005.4 L1114.4 1005.2 L1115.4 1004.9 L1116.4 1004.7 L1117.4 1004.5 L1118.4 1004.3 L1119.3 1004.0 L1120.3 1003.8 L1121.3 1003.6 L1122.3 1003.4 L1123.3 1003.1 L1124.3 1002.9 L1125.2 1002.7 L1126.2 1002.4 L1127.2 1002.2 L1128.2 1002.0 L1129.2 1001.8 L1130.1 1001.5 L1131.1 1001.3 L1132.1 1001.0 L1133.1 1000.8 L1134.0 1000.6 L1135.0 1000.3 L1136.0 1000.1 L1136.9 999.8 L1137.9 999.6 L1138.9 999.3 L1139.9 999.1 L1140.8 998.8 L1141.8 998.6 L1142.7 998.3 L1143.7 998.0 L1144.7 997.8 L1145.6 997.5 L1146.6 997.2 L1147.5 996.9 L1148.5 996.6 L1149.4 996.3 L1150.4 996.0 L1151.3 995.8 L1152.3 995.4 L1153.2 995.1 L1154.1 994.8 L1155.1 994.5 L1156.0 994.2 L1156.9 993.9 L1157.9 993.5 L1158.8 993.2 L1159.7 992.9 L1160.7 992.5 L1161.6 992.2 L1162.5 991.8 L1163.4 991.4 L1164.3 991.1 L1165.2 990.7 L1166.1 990.3 L1167.0 989.9 L1167.9 989.5 L1168.8 989.1 L1169.7 988.7 L1170.6 988.3 L1171.5 987.9 L1172.4 987.4 L1173.3 987.0 L1174.1 986.6 L1175.0 986.1 L1175.9 985.7 L1176.8 985.2 L1177.6 984.7 L1178.5 984.2 L1179.3 983.7 L1180.2 983.2 L1181.0 982.7 L1181.9 982.2 L1182.7 981.7 L1183.6 981.2 L1184.4 980.6 L1185.2 980.1 L1186.1 979.5 L1186.9 979.0 L1187.7 978.4 L1188.5 977.9 L1189.4 977.3 L1190.2 976.7 L1191.0 976.1 L1191.8 975.6 L1192.6 975.0 L1193.4 974.4 L1194.2 973.8 L1195.0 973.2 L1195.8 972.6 L1196.7 972.0 L1197.5 971.4 L1198.3 970.8 L1199.1 970.2 L1199.9 969.6 L1200.7 968.9 L1201.5 968.3 L1202.3 967.7 L1203.1 967.1 L1203.9 966.5 L1204.7 965.9 L1205.5 965.3 L1206.3 964.7 L1207.1 964.1 L1207.9 963.5 L1208.7 962.9 L1209.5 962.3 L1210.4 961.7 L1211.2 961.1 L1212.0 960.5 L1212.8 959.9 L1213.6 959.3 L1214.5 958.7 L1215.3 958.2 L1216.1 957.6 L1216.9 957.0 L1217.8 956.5 L1218.6 955.9 L1219.4 955.4 L1220.3 954.8 L1221.1 954.3 L1222.0 953.8 L1222.8 953.2 L1223.7 952.7 L1224.5 952.2 L1225.4 951.7 L1226.3 951.2 L1227.1 950.7 L1228.0 950.3 L1228.9 949.8 L1229.8 949.3 L1230.6 948.8 L1231.5 948.4 L1232.4 947.9 L1233.3 947.5 L1234.2 947.0 L1235.0 946.5 L1235.9 946.1 L1236.8 945.6 L1237.7 945.2 L1238.6 944.7 L1239.5 944.3 L1240.4 943.8 L1241.2 943.3 L1242.1 942.9 L1243.0 942.4 L1243.9 941.9 L1244.7 941.5 L1245.6 941.0 L1246.5 940.5 L1247.3 940.0 L1248.2 939.5 L1249.1 939.0 L1249.9 938.5 L1250.8 938.0 L1251.6 937.5 L1252.5 937.0 L1253.3 936.4 L1254.1 935.9 L1255.0 935.3 L1255.8 934.8 L1256.6 934.2 L1257.5 933.7 L1258.3 933.1 L1259.1 932.6 L1259.9 932.0 L1260.7 931.4 L1261.6 930.8 L1262.4 930.2 L1263.2 929.7 L1264.0 929.1 L1264.8 928.5 L1265.6 927.9 L1266.4 927.2 L1267.2 926.6 L1268.0 926.0 L1268.7 925.4 L1269.5 924.8 L1270.3 924.1 L1271.1 923.5 L1271.9 922.9 L1272.6 922.2 L1273.4 921.6 L1274.2 920.9 L1274.9 920.3 L1275.7 919.6 L1276.5 919.0 L1277.2 918.3 L1278.0 917.6 L1278.7 917.0 L1279.5 916.3 L1280.2 915.6 L1281.0 915.0 L1281.7 914.3 L1282.5 913.6 L1283.2 912.9 L1284.0 912.2 L1284.7 911.5 L1285.4 910.8 L1286.2 910.2 L1286.9 909.5 L1287.6 908.8 L1288.3 908.1 L1289.1 907.4 L1289.8 906.7 L1290.5 906.0 L1291.2 905.2 L1292.0 904.5 L1292.7 903.8 L1293.4 903.1 L1294.1 902.4 L1294.8 901.7 L1295.5 901.0 L1296.2 900.3 L1296.9 899.5 L1297.6 898.8 L1298.3 898.1 L1299.0 897.4 L1299.7 896.7 L1300.4 895.9 L1301.1 895.2 L1301.8 894.5 L1302.5 893.8 L1303.2 893.0 L1303.9 892.3 L1304.5 891.6 L1305.2 890.9 L1305.9 890.1 L1306.6 889.4 L1307.3 888.7 L1308.0 887.9 L1308.6 887.2 L1309.3 886.5 L1310.0 885.7 L1310.7 885.0 L1311.3 884.2 L1312.0 883.5 L1312.7 882.8 L1313.4 882.0 L1314.0 881.3 L1314.7 880.6 L1315.4 879.8 L1316.0 879.1 L1316.7 878.3 L1317.3 877.6 L1318.0 876.8 L1318.7 876.1 L1319.3 875.3 L1320.0 874.6 L1320.6 873.9 L1321.3 873.1 L1322.0 872.4 L1322.6 871.6 L1323.3 870.9 L1323.9 870.1 L1324.6 869.4 L1325.2 868.6 L1325.9 867.9 L1326.5 867.1 L1327.2 866.4 L1327.8 865.6 L1328.5 864.8 L1329.1 864.1 L1329.8 863.3 L1330.4 862.6 L1331.1 861.8 L1331.7 861.1 L1332.4 860.3 L1333.0 859.6 L1333.7 858.8 L1334.3 858.1 L1335.0 857.3 L1335.6 856.5 L1336.3 855.8 L1336.9 855.0 L1337.6 854.3 L1338.2 853.5 L1338.8 852.8 L1339.5 852.0 L1340.1 851.2 L1340.8 850.5 L1341.4 849.7 L1342.1 849.0 L1342.7 848.2 L1343.3 847.5 L1344.0 846.7 L1344.6 845.9 L1345.3 845.2 L1345.9 844.4 L1346.6 843.7 L1347.2 842.9 L1347.9 842.1 L1348.5 841.4 L1349.1 840.6 L1349.8 839.9 L1350.4 839.1 L1351.1 838.4 L1351.7 837.6 L1352.4 836.8 L1353.0 836.1 L1353.7 835.3 L1354.3 834.6 L1355.0 833.8 L1355.6 833.1 L1356.3 832.3 L1356.9 831.6 L1357.6 830.8 L1358.2 830.0 L1358.9 829.3 L1359.5 828.5 L1360.2 827.8 L1360.8 827.0 L1361.5 826.3 L1362.1 825.5 L1362.8 824.8 L1363.4 824.0 L1364.1 823.3 L1364.8 822.5 L1365.4 821.8 L1366.1 821.0 L1366.7 820.3 L1367.4 819.5 L1368.1 818.8 L1368.7 818.0 L1369.4 817.3 L1370.1 816.5 L1370.7 815.8 L1371.4 815.0 L1372.0 814.3 L1372.7 813.5 L1373.4 812.8 L1374.1 812.0 L1374.7 811.3 L1375.4 810.6 L1376.1 809.8 L1376.7 809.1 L1377.4 808.3 L1378.1 807.6 L1378.7 806.8 L1379.4 806.1 L1380.1 805.3 L1380.7 804.6 L1381.4 803.9 L1382.1 803.1 L1382.8 802.4 L1383.4 801.6 L1384.1 800.9 L1384.8 800.1 L1385.4 799.4 L1386.1 798.6 L1386.8 797.9 L1387.4 797.1 L1388.1 796.4 L1388.8 795.6 L1389.4 794.9 L1390.1 794.2 L1390.8 793.4 L1391.4 792.7 L1392.1 791.9 L1392.8 791.2 L1393.4 790.4 L1394.1 789.6 L1394.7 788.9 L1395.4 788.1 L1396.1 787.4 L1396.7 786.6 L1397.4 785.9 L1398.0 785.1 L1398.7 784.4 L1399.3 783.6 L1400.0 782.8 L1400.6 782.1 L1401.3 781.3 L1401.9 780.6 L1402.6 779.8 L1403.2 779.0 L1403.9 778.3 L1404.5 777.5 L1405.1 776.7 L1405.8 776.0 L1406.4 775.2 L1407.1 774.4 L1407.7 773.6 L1408.3 772.9 L1408.9 772.1 L1409.6 771.3 L1410.2 770.5 L1410.8 769.8 L1411.4 769.0 L1412.1 768.2 L1412.7 767.4 L1413.3 766.6 L1413.9 765.8 L1414.5 765.0 L1415.1 764.2 L1415.7 763.5 L1416.3 762.7 L1416.9 761.9 L1417.5 761.1 L1418.1 760.3 L1418.7 759.5 L1419.3 758.7 L1419.9 757.9 L1420.5 757.1 L1421.1 756.3 L1421.7 755.5 L1422.3 754.6 L1422.8 753.8 L1423.4 753.0 L1424.0 752.2 L1424.6 751.4 L1425.2 750.6 L1425.7 749.8 L1426.3 749.0 L1426.9 748.1 L1427.4 747.3 L1428.0 746.5 L1428.6 745.7 L1429.1 744.9 L1429.7 744.0 L1430.2 743.2 L1430.8 742.4 L1431.4 741.5 L1431.9 740.7 L1432.5 739.9 L1433.0 739.1 L1433.6 738.2 L1434.1 737.4 L1434.7 736.6 L1435.2 735.7 L1435.7 734.9 L1436.3 734.0 L1436.8 733.2 L1437.4 732.4 L1437.9 731.5 L1438.4 730.7 L1439.0 729.8 L1439.5 729.0 L1440.0 728.2 L1440.6 727.3 L1441.1 726.5 L1441.6 725.6 L1442.2 724.8 L1442.7 723.9 L1443.2 723.1 L1443.7 722.2 L1444.2 721.4 L1444.8 720.5 L1445.3 719.7 L1445.8 718.8 L1446.3 718.0 L1446.8 717.1 L1447.4 716.2 L1447.9 715.4 L1448.4 714.5 L1448.9 713.7 L1449.4 712.8 L1449.9 712.0 L1450.4 711.1 L1450.9 710.2 L1451.4 709.4 L1451.9 708.5 L1452.4 707.6 L1452.9 706.8 L1453.4 705.9 L1453.9 705.1 L1454.4 704.2 L1454.9 703.3 L1455.4 702.5 L1455.9 701.6 L1456.4 700.7 L1456.9 699.9 L1457.4 699.0 L1457.9 698.1 L1458.4 697.3 L1458.9 696.4 L1459.4 695.5 L1459.9 694.6 L1460.4 693.8 L1460.9 692.9 L1461.4 692.0 L1461.9 691.2 L1462.4 690.3 L1462.8 689.4 L1463.3 688.5 L1463.8 687.7 L1464.3 686.8 L1464.8 685.9 L1465.3 685.0 L1465.8 684.2 L1466.2 683.3 L1466.7 682.4 L1467.2 681.5 L1467.7 680.7 L1468.2 679.8 L1468.7 678.9 L1469.2 678.0 L1469.6 677.2 L1470.1 676.3 L1470.6 675.4 L1471.1 674.5 L1471.6 673.7 L1472.0 672.8 L1472.5 671.9 L1473.0 671.0 L1473.5 670.2 L1474.0 669.3 L1474.4 668.4 L1474.9 667.5 L1475.4 666.6 L1475.9 665.8 L1476.3 664.9 L1476.8 664.0 L1477.3 663.1 L1477.8 662.2 L1478.2 661.4 L1478.7 660.5 L1479.2 659.6 L1479.7 658.7 L1480.1 657.8 L1480.6 657.0 L1481.1 656.1 L1481.6 655.2 L1482.0 654.3 L1482.5 653.4 L1483.0 652.5 L1483.4 651.7 L1483.9 650.8 L1484.4 649.9 L1484.8 649.0 L1485.3 648.1 L1485.8 647.3 L1486.2 646.4 L1486.7 645.5 L1487.2 644.6 L1487.6 643.7 L1488.1 642.8 L1488.6 641.9 L1489.0 641.1 L1489.5 640.2 L1490.0 639.3 L1490.4 638.4 L1490.9 637.5 L1491.4 636.6 L1491.8 635.7 L1492.3 634.9 L1492.8 634.0 L1493.2 633.1 L1493.7 632.2 L1494.1 631.3 L1494.6 630.4 L1495.1 629.5 L1495.5 628.7 L1496.0 627.8 L1496.4 626.9 L1496.9 626.0 L1497.4 625.1 L1497.8 624.2 L1498.3 623.3 L1498.7 622.4 L1499.2 621.5 L1499.6 620.7 L1500.1 619.8 L1500.5 618.9 L1501.0 618.0 L1501.5 617.1 L1501.9 616.2 L1502.4 615.3 L1502.8 614.4 L1503.3 613.5 L1503.7 612.6 L1504.2 611.8 L1504.6 610.9 L1505.1 610.0 L1505.5 609.1 L1506.0 608.2 L1506.4 607.3 L1506.9 606.4 L1507.3 605.5 L1507.8 604.6 L1508.2 603.7 L1508.7 602.8 L1509.1 601.9 L1509.6 601.0 L1510.0 600.1 L1510.5 599.3 L1510.9 598.4 L1511.4 597.5 L1511.8 596.6 L1512.2 595.7 L1512.7 594.8 L1513.1 593.9 L1513.6 593.0 L1514.0 592.1 L1514.5 591.2 L1514.9 590.3 L1515.4 589.4 L1515.8 588.5 L1516.2 587.6 L1516.7 586.7 L1517.1 585.8 L1517.6 584.9 L1518.0 584.0 L1518.4 583.1 L1518.9 582.2 L1519.3 581.3 L1519.8 580.4 L1520.2 579.5 L1520.6 578.6 L1521.1 577.7 L1521.5 576.8 L1522.0 575.9 L1522.4 575.0 L1522.8 574.1 L1523.3 573.2 L1523.7 572.3 L1524.1 571.4 L1524.6 570.5 L1525.0 569.6 L1525.4 568.7 L1525.9 567.8 L1526.3 566.9 L1526.7 566.0 L1527.2 565.1 L1527.6 564.2 L1528.0 563.3 L1528.5 562.4 L1528.9 561.5 L1529.3 560.6 L1529.8 559.7 L1530.2 558.8 L1530.6 557.9 L1531.0 557.0 L1531.5 556.1 L1531.9 555.2 L1532.3 554.3 L1532.8 553.4 L1533.2 552.5 L1533.6 551.6 L1534.0 550.7 L1534.5 549.8 L1534.9 548.9 L1535.3 548.0 L1535.7 547.1 L1536.2 546.2 L1536.6 545.3 L1537.0 544.4 L1537.4 543.5 L1537.9 542.6 L1538.3 541.6 L1538.7 540.7 L1539.1 539.8 L1539.5 538.9 L1540.0 538.0 L1540.4 537.1 L1540.8 536.2 L1541.2 535.3 L1541.7 534.4 L1542.1 533.5 L1542.5 532.6 L1542.9 531.7 L1543.3 530.8 L1543.7 529.9 L1544.2 529.0 L1544.6 528.0 L1545.0 527.1 L1545.4 526.2 L1545.8 525.3 L1546.2 524.4 L1546.7 523.5 L1547.1 522.6 L1547.5 521.7 L1547.9 520.8 L1548.3 519.9 L1548.7 519.0 L1549.2 518.0 L1549.6 517.1 L1550.0 516.2 L1550.4 515.3 L1550.8 514.4 L1551.2 513.5 L1551.6 512.6 L1552.0 511.7 L1552.5 510.8 L1552.9 509.8 L1553.3 508.9 L1553.7 508.0 L1554.1 507.1 L1554.5 506.2 L1554.9 505.3 L1555.3 504.4 L1555.7 503.5 L1556.1 502.5 L1556.5 501.6 L1556.9 500.7 L1557.4 499.8 L1557.8 498.9 L1558.2 498.0 L1558.6 497.1 L1559.0 496.2 L1559.4 495.2 L1559.8 494.3 L1560.2 493.4 L1560.6 492.5 L1561.0 491.6 L1561.4 490.7 L1561.8 489.8 L1562.2 488.8 L1562.6 487.9 L1563.0 487.0 L1563.4 486.1 L1563.8 485.2 L1564.2 484.3 L1564.6 483.3 L1565.0 482.4 L1565.4 481.5 L1565.8 480.6 L1566.2 479.7 L1566.6 478.8 L1567.0 477.8 L1567.4 476.9 L1567.8 476.0 L1568.2 475.1 L1568.6 474.2 L1569.0 473.3 L1569.4 472.3 L1569.8 471.4 L1570.2 470.5 L1570.6 469.6 L1571.0 468.7 L1571.4 467.7 L1571.8 466.8 L1572.2 465.9 L1572.6 465.0 L1573.0 464.1 L1573.3 463.2 L1573.7 462.2 L1574.1 461.3 L1574.5 460.4 L1574.9 459.5 L1575.3 458.6 L1575.7 457.6 L1576.1 456.7 L1576.5 455.8 L1576.9 454.9 L1577.3 454.0 L1577.7 453.0 L1578.0 452.1 L1578.4 451.2 L1578.8 450.3 L1579.2 449.3 L1579.6 448.4 L1580.0 447.5 L1580.4 446.6 L1580.8 445.7 L1581.1 444.7 L1581.5 443.8 L1581.9 442.9 L1582.3 442.0 L1582.7 441.0 L1583.1 440.1 L1583.5 439.2 L1583.8 438.3 L1584.2 437.4 L1584.6 436.4 L1585.0 435.5 L1585.4 434.6 L1585.8 433.7 L1586.1 432.7 L1586.5 431.8 L1586.9 430.9 L1587.3 430.0 L1587.7 429.0 L1588.1 428.1 L1588.4 427.2 L1588.8 426.3 L1589.2 425.3 L1589.6 424.4 L1590.0 423.5 L1590.3 422.6 L1590.7 421.6 L1591.1 420.7 L1591.5 419.8 L1591.8 418.9 L1592.2 417.9 L1592.6 417.0 L1593.0 416.1 L1593.4 415.2 L1593.7 414.2 L1594.1 413.3 L1594.5 412.4 L1594.9 411.4 L1595.2 410.5 L1595.6 409.6 L1596.0 408.7 L1596.4 407.7 L1596.7 406.8 L1597.1 405.9 L1597.5 405.0 L1597.9 404.0 L1598.2 403.1 L1598.6 402.2 L1599.0 401.2 L1599.3 400.3 L1599.7 399.4 L1600.1 398.5 L1600.5 397.5 L1600.8 396.6 L1601.2 395.7 L1601.6 394.7 L1601.9 393.8 L1602.3 392.9 L1602.7 391.9 L1603.0 391.0 L1603.4 390.1 L1603.8 389.2 L1604.1 388.2 L1604.5 387.3 L1604.9 386.4 L1605.2 385.4 L1605.6 384.5 L1606.0 383.6 L1606.3 382.6 L1606.7 381.7 L1607.1 380.8 L1607.4 379.9 L1607.8 378.9 L1608.2 378.0 L1608.5 377.1 L1608.9 376.1 L1609.3 375.2 L1609.6 374.3 L1610.0 373.3 L1610.4 372.4 L1610.7 371.5 L1611.1 370.5 L1611.4 369.6 L1611.8 368.7 L1612.2 367.7 L1612.5 366.8 L1612.9 365.9 L1613.2 364.9 L1613.6 364.0 L1614.0 363.1 L1614.3 362.1 L1614.7 361.2 L1615.0 360.3 L1615.4 359.3 L1615.8 358.4 L1616.1 357.5 L1616.5 356.5 L1616.8 355.6 L1617.2 354.7 L1617.6 353.7 L1617.9 352.8 L1618.3 351.9 L1618.6 350.9 L1619.0 350.0 L1619.3 349.1 L1619.7 348.1 L1620.0 347.2 L1620.4 346.2 L1620.8 345.3 L1621.1 344.4 L1621.5 343.4 L1621.8 342.5 L1622.2 341.6 L1622.5 340.6 L1622.9 339.7 L1623.2 338.8 L1623.6 337.8 L1624.0 336.9 L1624.3 336.0 L1624.7 335.0 L1625.0 334.1 L1625.4 333.2 L1625.8 332.2 L1626.1 331.3 L1626.5 330.4 L1626.8 329.4 L1627.2 328.5 L1627.6 327.6 L1627.9 326.6 L1628.3 325.7 L1628.7 324.8 L1629.0 323.8 L1629.4 322.9 L1629.8 322.0 L1630.2 321.1 L1630.5 320.1 L1630.9 319.2 L1631.3 318.3 L1631.7 317.4 L1632.1 316.4 L1632.5 315.5 L1632.8 314.6 L1633.2 313.7 L1633.6 312.7 L1634.0 311.8 L1634.4 310.9 L1634.8 310.0 L1635.2 309.1 L1635.6 308.1 L1636.0 307.2 L1636.4 306.3 L1636.8 305.4 L1637.2 304.5 L1637.6 303.5 L1638.1 302.6 L1638.5 301.7 L1638.9 300.8 L1639.3 299.9 L1639.7 299.0 L1640.2 298.1 L1640.6 297.2 L1641.0 296.3 L1641.5 295.4 L1641.9 294.5 L1642.4 293.6 L1642.8 292.7 L1643.3 291.8 L1643.7 290.9 L1644.2 290.0 L1644.6 289.1 L1645.1 288.2 L1645.6 287.3 L1646.0 286.4 L1646.5 285.5 L1647.0 284.6 L1647.5 283.7 L1648.0 282.8 L1648.4 281.9 L1648.9 281.0 L1649.4 280.2 L1649.9 279.3 L1650.4 278.4 L1651.0 277.5 L1651.5 276.6 L1652.0 275.8 L1652.5 274.9 L1653.0 274.0 L1653.6 273.1 L1654.1 272.3 L1654.6 271.4 L1655.2 270.5 L1655.7 269.7 L1656.3 268.8 L1656.9 267.9 L1657.4 267.1 L1658.0 266.2 L1658.6 265.4 L1659.1 264.5 L1659.7 263.7 L1660.3 262.8 L1660.9 262.0 L1661.5 261.1 L1662.1 260.3 L1662.7 259.4 L1663.3 258.6 L1664.0 257.8 L1664.6 257.0 L1665.2 256.2 L1665.9 255.5 L1666.5 254.7 L1667.2 254.0 L1667.8 253.4 L1668.5 252.7 L1669.2 252.1 L1669.9 251.5 L1670.6 251.0 L1671.3 250.5 L1672.0 250.1 L1672.7 249.7 L1673.4 249.4 L1674.1 249.1 L1674.9 248.9 L1675.6 248.8 L1676.4 248.7 L1677.2 248.6 L1677.9 248.7 L1678.7 248.8 L1679.5 249.0 L1680.3 249.3 L1681.1 249.6 L1681.9 249.9 L1682.7 250.3 L1683.4 250.8 L1684.2 251.2 L1684.9 251.7 L1685.7 252.3 L1686.4 252.8 L1687.0 253.4 L1687.7 254.0 L1688.3 254.7 L1689.0 255.3 L1689.6 256.0 L1690.2 256.7 L1690.7 257.4 L1691.3 258.1 L1691.8 258.9 L1692.4 259.7 L1692.9 260.5 L1693.3 261.3 L1693.8 262.1 L1694.3 263.0 L1694.7 263.8 L1695.2 264.7 L1695.6 265.6 L1696.0 266.5 L1696.4 267.4 L1696.8 268.3 L1697.1 269.3 L1697.5 270.3 L1697.8 271.2 L1698.2 272.2 L1698.5 273.2 L1698.8 274.2 L1699.1 275.2 L1699.4 276.2 L1699.7 277.3 L1700.0 278.3 L1700.2 279.3 L1700.5 280.4 L1700.7 281.4 L1701.0 282.5 L1701.2 283.6 L1701.5 284.6 L1701.7 285.7 L1701.9 286.8 L1702.1 287.8 L1702.3 288.9 L1702.6 290.0 L1702.8 291.1 L1703.0 292.2 L1703.2 293.2 L1703.4 294.3 L1703.5 295.4 L1703.7 296.5 L1703.9 297.5 L1704.1 298.6 L1704.3 299.7 L1704.5 300.7 L1704.7 301.8 L1704.9 302.8 L1705.1 303.9 L1705.2 304.9 L1705.4 305.9 L1705.6 307.0 L1705.8 308.0 L1706.0 309.0 L1706.2 310.0" fill="none" stroke="#00f" stroke-width="8.4" stroke-linecap="round" stroke-linejoin="round"/>
<path d="M1709.1 326.0 L1709.2 327.0 L1709.4 327.9 L1709.6 328.9 L1709.8 329.9 L1710.0 330.9 L1710.1 331.8 L1710.3 332.8 L1710.5 333.8 L1710.7 334.8 L1710.8 335.7 L1711.0 336.7 L1711.2 337.7 L1711.4 338.6 L1711.5 339.6 L1711.7 340.6 L1711.9 341.5 L1712.1 342.5 L1712.2 343.5 L1712.4 344.4 L1712.6 345.4 L1712.8 346.4 L1712.9 347.3 L1713.1 348.3 L1713.3 349.3 L1713.4 350.3 L1713.6 351.2 L1713.8 352.2 L1714.0 353.2 L1714.1 354.1 L1714.3 355.1 L1714.5 356.1 L1714.6 357.0 L1714.8 358.0" fill="none" stroke="#00f" stroke-width="8.4" stroke-linecap="round" stroke-linejoin="round"/>
<path d="M1717.3 372.6 L1717.5 373.6 L1717.7 374.6 L1717.8 375.5 L1718.0 376.5 L1718.2 377.5 L1718.3 378.5 L1718.5 379.4 L1718.7 380.4 L1718.8 381.4 L1719.0 382.4 L1719.2 383.3 L1719.3 384.3 L1719.5 385.3 L1719.7 386.3 L1719.8 387.2 L1720.0 388.2 L1720.2 389.2 L1720.3 390.2 L1720.5 391.2 L1720.7 392.1 L1720.8 393.1 L1721.0 394.1 L1721.1 395.1 L1721.3 396.0 L1721.5 397.0 L1721.6 398.0 L1721.8 399.0 L1722.0 400.0 L1722.1 400.9 L1722.3 401.9 L1722.4 402.9 L1722.6 403.9" fill="none" stroke="#00f" stroke-width="8.4" stroke-linecap="round" stroke-linejoin="round"/>
<path d="M1725.3 420.5 L1725.5 421.5 L1725.7 422.5 L1725.8 423.5 L1726.0 424.5 L1726.1 425.5 L1726.3 426.4 L1726.5 427.4 L1726.6 428.4 L1726.8 429.4 L1726.9 430.4 L1727.1 431.3 L1727.3 432.3 L1727.4 433.3 L1727.6 434.3 L1727.7 435.3 L1727.9 436.3 L1728.0 437.2 L1728.2 438.2 L1728.4 439.2 L1728.5 440.2 L1728.7 441.2 L1728.8 442.2 L1729.0 443.1 L1729.2 444.1 L1729.3 445.1 L1729.5 446.1 L1729.6 447.1 L1729.8 448.1 L1729.9 449.1 L1730.1 450.0 L1730.3 451.0 L1730.4 452.0 L1730.6 453.0 L1730.7 454.0 L1730.9 455.0 L1731.0 456.0 L1731.2 456.9 L1731.4 457.9 L1731.5 458.9 L1731.7 459.9 L1731.8 460.9 L1732.0 461.9 L1732.1 462.9 L1732.3 463.8 L1732.5 464.8 L1732.6 465.8 L1732.8 466.8 L1732.9 467.8 L1733.1 468.8 L1733.3 469.8 L1733.4 470.7 L1733.6 471.7" fill="none" stroke="#00f" stroke-width="8.4" stroke-linecap="round" stroke-linejoin="round"/>
<path d="M1735.9 486.5 L1736.1 487.5 L1736.2 488.5 L1736.4 489.5 L1736.6 490.5 L1736.7 491.5 L1736.9 492.5 L1737.0 493.5 L1737.2 494.4 L1737.3 495.4 L1737.5 496.4 L1737.7 497.4 L1737.8 498.4 L1738.0 499.4 L1738.1 500.4 L1738.3 501.4 L1738.5 502.3 L1738.6 503.3 L1738.8 504.3 L1738.9 505.3 L1739.1 506.3 L1739.2 507.3 L1739.4 508.3 L1739.6 509.3 L1739.7 510.3 L1739.9 511.2 L1740.0 512.2 L1740.2 513.2 L1740.4 514.2 L1740.5 515.2 L1740.7 516.2 L1740.8 517.2 L1741.0 518.2 L1741.2 519.2 L1741.3 520.1 L1741.5 521.1 L1741.6 522.1 L1741.8 523.1 L1741.9 524.1 L1742.1 525.1 L1742.3 526.1 L1742.4 527.1 L1742.6 528.1 L1742.7 529.1 L1742.9 530.0 L1743.1 531.0 L1743.2 532.0 L1743.4 533.0 L1743.6 534.0 L1743.7 535.0 L1743.9 536.0 L1744.0 537.0 L1744.2 538.0 L1744.4 538.9 L1744.5 539.9 L1744.7 540.9 L1744.8 541.9 L1745.0 542.9 L1745.2 543.9 L1745.3 544.9 L1745.5 545.9 L1745.7 546.9 L1745.8 547.9 L1746.0 548.8 L1746.1 549.8 L1746.3 550.8 L1746.5 551.8 L1746.6 552.8 L1746.8 553.8 L1747.0 554.8 L1747.1 555.8 L1747.3 556.8" fill="none" stroke="#00f" stroke-width="8.4" stroke-linecap="round" stroke-linejoin="round"/>
<path d="M1750.4 575.6 L1750.6 576.5 L1750.8 577.5 L1750.9 578.5 L1751.1 579.5 L1751.3 580.5 L1751.5 581.5 L1751.6 582.5 L1751.8 583.5 L1752.0 584.5 L1752.1 585.4 L1752.3 586.4 L1752.5 587.4 L1752.6 588.4 L1752.8 589.4 L1753.0 590.4 L1753.1 591.4 L1753.3 592.4 L1753.5 593.4 L1753.7 594.3 L1753.8 595.3 L1754.0 596.3 L1754.2 597.3 L1754.4 598.3 L1754.5 599.3 L1754.7 600.3 L1754.9 601.3 L1755.0 602.3 L1755.2 603.2 L1755.4 604.2 L1755.6 605.2 L1755.7 606.2 L1755.9 607.2 L1756.1 608.2 L1756.3 609.2 L1756.4 610.2 L1756.6 611.1 L1756.8 612.1 L1757.0 613.1 L1757.1 614.1 L1757.3 615.1 L1757.5 616.1 L1757.7 617.1 L1757.9 618.1 L1758.0 619.0 L1758.2 620.0 L1758.4 621.0 L1758.6 622.0 L1758.7 623.0 L1758.9 624.0 L1759.1 625.0 L1759.3 625.9 L1759.5 626.9 L1759.6 627.9 L1759.8 628.9 L1760.0 629.9 L1760.2 630.9 L1760.4 631.9 L1760.6 632.9 L1760.7 633.8 L1760.9 634.8 L1761.1 635.8 L1761.3 636.8 L1761.5 637.8 L1761.7 638.8 L1761.8 639.8 L1762.0 640.7 L1762.2 641.7 L1762.4 642.7 L1762.6 643.7 L1762.8 644.7 L1762.9 645.7 L1763.1 646.6 L1763.3 647.6 L1763.5 648.6 L1763.7 649.6 L1763.9 650.6 L1764.1 651.6 L1764.3 652.6 L1764.5 653.5 L1764.6 654.5 L1764.8 655.5 L1765.0 656.5 L1765.2 657.5 L1765.4 658.5 L1765.6 659.4 L1765.8 660.4 L1766.0 661.4 L1766.2 662.4 L1766.4 663.4 L1766.6 664.4 L1766.7 665.3 L1766.9 666.3 L1767.1 667.3 L1767.3 668.3 L1767.5 669.3 L1767.7 670.2 L1767.9 671.2 L1768.1 672.2 L1768.3 673.2 L1768.5 674.2 L1768.7 675.2 L1768.9 676.1 L1769.1 677.1 L1769.3 678.1 L1769.5 679.1 L1769.7 680.1 L1769.9 681.0 L1770.1 682.0 L1770.3 683.0 L1770.5 684.0 L1770.7 685.0 L1770.9 685.9 L1771.1 686.9 L1771.3 687.9 L1771.5 688.9 L1771.7 689.9 L1771.9 690.8 L1772.1 691.8 L1772.3 692.8 L1772.5 693.8 L1772.7 694.8 L1772.9 695.7 L1773.1 696.7 L1773.3 697.7 L1773.5 698.7 L1773.7 699.7 L1774.0 700.6 L1774.2 701.6 L1774.4 702.6 L1774.6 703.6 L1774.8 704.5 L1775.0 705.5 L1775.2 706.5 L1775.4 707.5 L1775.6 708.5 L1775.8 709.4 L1776.1 710.4 L1776.3 711.4 L1776.5 712.4 L1776.7 713.3 L1776.9 714.3 L1777.1 715.3 L1777.3 716.3 L1777.6 717.2 L1777.8 718.2 L1778.0 719.2 L1778.2 720.2 L1778.4 721.1 L1778.6 722.1 L1778.9 723.1 L1779.1 724.1 L1779.3 725.0 L1779.5 726.0 L1779.7 727.0 L1779.9 728.0 L1780.2 728.9 L1780.4 729.9 L1780.6 730.9 L1780.8 731.9 L1781.1 732.8 L1781.3 733.8 L1781.5 734.8 L1781.7 735.8 L1781.9 736.7 L1782.2 737.7 L1782.4 738.7 L1782.6 739.6 L1782.9 740.6 L1783.1 741.6 L1783.3 742.6 L1783.5 743.5 L1783.8 744.5 L1784.0 745.5 L1784.2 746.4 L1784.4 747.4 L1784.7 748.4 L1784.9 749.4 L1785.1 750.3 L1785.4 751.3 L1785.6 752.3 L1785.8 753.2 L1786.1 754.2 L1786.3 755.2 L1786.5 756.2 L1786.8 757.1 L1787.0 758.1 L1787.2 759.1 L1787.5 760.0 L1787.7 761.0 L1788.0 762.0 L1788.2 762.9 L1788.4 763.9 L1788.7 764.9 L1788.9 765.8 L1789.2 766.8 L1789.4 767.8 L1789.6 768.7 L1789.9 769.7 L1790.1 770.7 L1790.4 771.6 L1790.6 772.6 L1790.9 773.6 L1791.1 774.5 L1791.3 775.5 L1791.6 776.5 L1791.8 777.4 L1792.1 778.4 L1792.3 779.4 L1792.6 780.3 L1792.8 781.3 L1793.1 782.3 L1793.3 783.2 L1793.6 784.2 L1793.8 785.2 L1794.1 786.1 L1794.3 787.1 L1794.6 788.1 L1794.8 789.0 L1795.1 790.0 L1795.3 791.0 L1795.6 791.9 L1795.8 792.9 L1796.1 793.8 L1796.4 794.8 L1796.6 795.8 L1796.9 796.7 L1797.1 797.7 L1797.4 798.7 L1797.7 799.6 L1797.9 800.6 L1798.2 801.5 L1798.4 802.5 L1798.7 803.5 L1799.0 804.4 L1799.2 805.4 L1799.5 806.4 L1799.7 807.3 L1800.0 808.3 L1800.3 809.2 L1800.5 810.2 L1800.8 811.2 L1801.1 812.1 L1801.3 813.1 L1801.6 814.0 L1801.9 815.0 L1802.2 816.0 L1802.4 816.9 L1802.7 817.9 L1803.0 818.8 L1803.2 819.8 L1803.5 820.7 L1803.8 821.7 L1804.1 822.7 L1804.3 823.6 L1804.6 824.6 L1804.9 825.5 L1805.2 826.5 L1805.4 827.5 L1805.7 828.4 L1806.0 829.4 L1806.3 830.3 L1806.6 831.3 L1806.8 832.2 L1807.1 833.2 L1807.4 834.1 L1807.7 835.1 L1808.0 836.1 L1808.2 837.0 L1808.5 838.0 L1808.8 838.9 L1809.1 839.9 L1809.4 840.8 L1809.7 841.8 L1810.0 842.7 L1810.3 843.7 L1810.5 844.6 L1810.8 845.6 L1811.1 846.5 L1811.4 847.5 L1811.7 848.5 L1812.0 849.4 L1812.3 850.4 L1812.6 851.3 L1812.9 852.3 L1813.2 853.2 L1813.5 854.2 L1813.8 855.1 L1814.1 856.1 L1814.4 857.0 L1814.7 858.0 L1815.0 858.9 L1815.3 859.9 L1815.6 860.8 L1815.9 861.8 L1816.2 862.7 L1816.5 863.7 L1816.8 864.6 L1817.1 865.6 L1817.4 866.5 L1817.7 867.5 L1818.0 868.4 L1818.3 869.4 L1818.6 870.3 L1818.9 871.3 L1819.2 872.2 L1819.5 873.2 L1819.8 874.1 L1820.2 875.0 L1820.5 876.0 L1820.8 876.9 L1821.1 877.9 L1821.4 878.8 L1821.7 879.8 L1822.0 880.7 L1822.3 881.7 L1822.7 882.6 L1823.0 883.6 L1823.3 884.5 L1823.6 885.4 L1823.9 886.4 L1824.3 887.3 L1824.6 888.3 L1824.9 889.2 L1825.2 890.2 L1825.6 891.1 L1825.9 892.1 L1826.2 893.0 L1826.5 893.9 L1826.9 894.9 L1827.2 895.8 L1827.5 896.8 L1827.8 897.7 L1828.2 898.6 L1828.5 899.6 L1828.8 900.5 L1829.2 901.5 L1829.5 902.4 L1829.8 903.3 L1830.2 904.3 L1830.5 905.2 L1830.8 906.2 L1831.2 907.1 L1831.5 908.0 L1831.8 909.0 L1832.2 909.9 L1832.5 910.9 L1832.9 911.8 L1833.2 912.7 L1833.5 913.7 L1833.9 914.6 L1834.2 915.6 L1834.6 916.5 L1834.9 917.4 L1835.3 918.4 L1835.6 919.3 L1836.0 920.2 L1836.3 921.2 L1836.7 922.1 L1837.0 923.0 L1837.4 924.0 L1837.7 924.9 L1838.1 925.8 L1838.4 926.8 L1838.8 927.7 L1839.1 928.7 L1839.5 929.6 L1839.8 930.5 L1840.2 931.5 L1840.6 932.4 L1840.9 933.3 L1841.3 934.3 L1841.6 935.2 L1842.0 936.1 L1842.4 937.0 L1842.7 938.0 L1843.1 938.9 L1843.4 939.8 L1843.8 940.8 L1844.2 941.7 L1844.5 942.6 L1844.9 943.6 L1845.3 944.5 L1845.7 945.4 L1846.0 946.4 L1846.4 947.3 L1846.8 948.2 L1847.1 949.1 L1847.5 950.1 L1847.9 951.0 L1848.3 951.9 L1848.6 952.9 L1849.0 953.8 L1849.4 954.7 L1849.8 955.6 L1850.2 956.6 L1850.5 957.5 L1850.9 958.4 L1851.3 959.3 L1851.7 960.3 L1852.1 961.2 L1852.5 962.1 L1852.8 963.0 L1853.2 964.0 L1853.6 964.9 L1854.0 965.8 L1854.4 966.7 L1854.8 967.7 L1855.2 968.6 L1855.6 969.5 L1856.0 970.4 L1856.3 971.4 L1856.7 972.3 L1857.1 973.2 L1857.5 974.1 L1857.9 975.0 L1858.3 976.0 L1858.7 976.9 L1859.1 977.8 L1859.5 978.7 L1859.9 979.6 L1860.3 980.6 L1860.7 981.5 L1861.1 982.4 L1861.5 983.3 L1862.0 984.2 L1862.4 985.2 L1862.8 986.1 L1863.2 987.0 L1863.6 987.9 L1864.0 988.8 L1864.4 989.8 L1864.8 990.7 L1865.2 991.6 L1865.7 992.5 L1866.1 993.4 L1866.5 994.3 L1866.9 995.3 L1867.3 996.2 L1867.7 997.1 L1868.2 998.0 L1868.6 998.9 L1869.0 999.8 L1869.4 1000.7 L1869.9 1001.7 L1870.3 1002.6 L1870.7 1003.5 L1871.1 1004.4 L1871.6 1005.3 L1872.0 1006.2 L1872.4 1007.1 L1872.8 1008.0 L1873.3 1008.9 L1873.7 1009.9 L1874.2 1010.8 L1874.6 1011.7 L1875.0 1012.6 L1875.5 1013.5 L1875.9 1014.4 L1876.3 1015.3 L1876.8 1016.2 L1877.2 1017.1 L1877.7 1018.0 L1878.1 1018.9 L1878.6 1019.8 L1879.0 1020.7 L1879.5 1021.6 L1879.9 1022.5 L1880.4 1023.4 L1880.8 1024.3 L1881.3 1025.2 L1881.7 1026.1 L1882.2 1027.0 L1882.6 1027.9 L1883.1 1028.8 L1883.6 1029.7 L1884.0 1030.6 L1884.5 1031.5 L1884.9 1032.4 L1885.4 1033.3 L1885.9 1034.2 L1886.3 1035.1 L1886.8 1036.0 L1887.3 1036.9 L1887.7 1037.7 L1888.2 1038.6 L1888.7 1039.5 L1889.2 1040.4 L1889.7 1041.3 L1890.1 1042.2 L1890.6 1043.1 L1891.1 1043.9 L1891.6 1044.8 L1892.1 1045.7 L1892.5 1046.6 L1893.0 1047.5 L1893.5 1048.3 L1894.0 1049.2 L1894.5 1050.1 L1895.0 1051.0 L1895.5 1051.8 L1896.0 1052.7 L1896.5 1053.6 L1897.0 1054.5 L1897.5 1055.3 L1898.0 1056.2 L1898.5 1057.1 L1899.0 1057.9 L1899.5 1058.8 L1900.0 1059.7 L1900.5 1060.5 L1901.0 1061.4 L1901.6 1062.2 L1902.1 1063.1 L1902.6 1064.0 L1903.1 1064.8 L1903.6 1065.7 L1904.1 1066.5 L1904.7 1067.4 L1905.2 1068.2 L1905.7 1069.1 L1906.3 1069.9 L1906.8 1070.8 L1907.3 1071.6 L1907.8 1072.5 L1908.4 1073.3 L1908.9 1074.2 L1909.5 1075.0 L1910.0 1075.8 L1910.5 1076.7 L1911.1 1077.5 L1911.6 1078.4 L1912.2 1079.2 L1912.7 1080.0 L1913.3 1080.9 L1913.8 1081.7 L1914.4 1082.5 L1915.0 1083.3 L1915.5 1084.2 L1916.1 1085.0 L1916.6 1085.8 L1917.2 1086.6 L1917.8 1087.5 L1918.3 1088.3 L1918.9 1089.1 L1919.5 1089.9 L1920.0 1090.7 L1920.6 1091.5 L1921.2 1092.4 L1921.8 1093.2 L1922.4 1094.0 L1922.9 1094.8 L1923.5 1095.6 L1924.1 1096.4 L1924.7 1097.2 L1925.3 1098.0 L1925.9 1098.8 L1926.5 1099.6 L1927.1 1100.4 L1927.7 1101.2 L1928.3 1102.0 L1928.9 1102.8 L1929.5 1103.5 L1930.1 1104.3 L1930.7 1105.1 L1931.3 1105.9 L1931.9 1106.7 L1932.6 1107.5 L1933.2 1108.2 L1933.8 1109.0 L1934.4 1109.8 L1935.0 1110.6 L1935.7 1111.3 L1936.3 1112.1 L1936.9 1112.9 L1937.6 1113.6 L1938.2 1114.4 L1938.8 1115.1 L1939.5 1115.9 L1940.1 1116.7 L1940.8 1117.4 L1941.4 1118.2 L1942.1 1118.9 L1942.7 1119.7 L1943.4 1120.4 L1944.0 1121.2 L1944.7 1121.9 L1945.3 1122.6 L1946.0 1123.4 L1946.7 1124.1 L1947.3 1124.9 L1948.0 1125.6 L1948.7 1126.3 L1949.4 1127.1 L1950.0 1127.8 L1950.7 1128.5 L1951.4 1129.2 L1952.1 1129.9 L1952.8 1130.7 L1953.5 1131.4 L1954.1 1132.1 L1954.8 1132.8 L1955.5 1133.5 L1956.2 1134.2 L1956.9 1134.9 L1957.6 1135.6 L1958.3 1136.3 L1959.0 1137.0 L1959.8 1137.7 L1960.5 1138.4 L1961.2 1139.1 L1961.9 1139.8 L1962.6 1140.5 L1963.3 1141.2 L1964.1 1141.8 L1964.8 1142.5 L1965.5 1143.2 L1966.3 1143.9 L1967.0 1144.6 L1967.7 1145.2 L1968.5 1145.9 L1969.2 1146.6 L1970.0 1147.2 L1970.7 1147.9 L1971.5 1148.5 L1972.2 1149.2 L1973.0 1149.8 L1973.7 1150.5 L1974.5 1151.1 L1975.3 1151.8 L1976.0 1152.4 L1976.8 1153.0 L1977.6 1153.7 L1978.3 1154.3 L1979.1 1154.9 L1979.9 1155.6 L1980.7 1156.2 L1981.4 1156.8 L1982.2 1157.4 L1983.0 1158.0 L1983.8 1158.6 L1984.6 1159.2 L1985.4 1159.8 L1986.2 1160.4 L1987.0 1161.0 L1987.8 1161.6 L1988.6 1162.2 L1989.4 1162.8 L1990.2 1163.4 L1991.0 1163.9 L1991.8 1164.5 L1992.6 1165.1 L1993.5 1165.6 L1994.3 1166.2 L1995.1 1166.8 L1995.9 1167.3 L1996.8 1167.9 L1997.6 1168.4 L1998.4 1168.9 L1999.3 1169.5 L2000.1 1170.0 L2000.9 1170.5 L2001.8 1171.1 L2002.6 1171.6 L2003.5 1172.1 L2004.3 1172.6 L2005.2 1173.1 L2006.0 1173.6 L2006.9 1174.1 L2007.8 1174.6 L2008.6 1175.1 L2009.5 1175.6 L2010.4 1176.1 L2011.2 1176.6 L2012.1 1177.0 L2013.0 1177.5 L2013.8 1178.0 L2014.7 1178.4 L2015.6 1178.9 L2016.5 1179.4 L2017.4 1179.8 L2018.3 1180.2 L2019.2 1180.7 L2020.0 1181.1 L2020.9 1181.5 L2021.8 1182.0 L2022.7 1182.4 L2023.6 1182.8 L2024.6 1183.2 L2025.5 1183.6 L2026.4 1184.0 L2027.3 1184.4 L2028.2 1184.8 L2029.1 1185.2 L2030.0 1185.5 L2031.0 1185.9 L2031.9 1186.3 L2032.8 1186.6 L2033.7 1187.0 L2034.7 1187.4 L2035.6 1187.7 L2036.5 1188.0 L2037.5 1188.4 L2038.4 1188.7 L2039.4 1189.0 L2040.3 1189.4 L2041.3 1189.7 L2042.2 1190.0 L2043.2 1190.3 L2044.1 1190.6 L2045.1 1190.9 L2046.0 1191.2 L2047.0 1191.5 L2047.9 1191.8 L2048.9 1192.1 L2049.9 1192.4 L2050.8 1192.6 L2051.8 1192.9 L2052.8 1193.2 L2053.7 1193.4 L2054.7 1193.7 L2055.7 1194.0 L2056.6 1194.2 L2057.6 1194.5 L2058.6 1194.7 L2059.6 1194.9 L2060.5 1195.2 L2061.5 1195.4 L2062.5 1195.7 L2063.5 1195.9 L2064.5 1196.1 L2065.5 1196.3 L2066.4 1196.5 L2067.4 1196.8 L2068.4 1197.0 L2069.4 1197.2 L2070.4 1197.4 L2071.4 1197.6 L2072.4 1197.8 L2073.4 1198.0 L2074.4 1198.2 L2075.4 1198.4 L2076.4 1198.6 L2077.4 1198.8 L2078.4 1198.9 L2079.3 1199.1 L2080.3 1199.3 L2081.3 1199.5 L2082.3 1199.7 L2083.3 1199.8 L2084.3 1200.0 L2085.3 1200.2 L2086.3 1200.4 L2087.3 1200.5 L2088.3 1200.7 L2089.3 1200.8 L2090.3 1201.0 L2091.3 1201.2 L2092.4 1201.3 L2093.4 1201.5 L2094.4 1201.6 L2095.4 1201.8 L2096.4 1201.9 L2097.4 1202.1 L2098.4 1202.2 L2099.4 1202.4 L2100.4 1202.5 L2101.4 1202.7 L2102.4 1202.8 L2103.4 1203.0 L2104.4 1203.1 L2105.4 1203.2 L2106.4 1203.4 L2107.4 1203.5 L2108.4 1203.6 L2109.4 1203.8 L2110.4 1203.9 L2111.4 1204.1 L2112.4 1204.2 L2113.4 1204.3 L2114.4 1204.5 L2115.4 1204.6 L2116.4 1204.7 L2117.4 1204.8 L2118.4 1205.0 L2119.4 1205.1 L2120.4 1205.2 L2121.4 1205.3 L2122.4 1205.5 L2123.4 1205.6 L2124.3 1205.7 L2125.3 1205.8 L2126.3 1206.0 L2127.3 1206.1 L2128.3 1206.2 L2129.3 1206.3 L2130.3 1206.4 L2131.3 1206.6 L2132.3 1206.7 L2133.3 1206.8 L2134.3 1206.9 L2135.3 1207.0 L2136.3 1207.1 L2137.3 1207.2 L2138.3 1207.3 L2139.3 1207.5 L2140.3 1207.6 L2141.3 1207.7 L2142.3 1207.8 L2143.3 1207.9 L2144.3 1208.0 L2145.2 1208.1 L2146.2 1208.2 L2147.2 1208.3 L2148.2 1208.4 L2149.2 1208.5 L2150.2 1208.6 L2151.2 1208.7 L2152.2 1208.8 L2153.2 1208.9 L2154.2 1209.0 L2155.2 1209.1 L2156.2 1209.2 L2157.2 1209.3 L2158.2 1209.4 L2159.1 1209.5 L2160.1 1209.6 L2161.1 1209.7 L2162.1 1209.8 L2163.1 1209.9 L2164.1 1210.0 L2165.1 1210.1 L2166.1 1210.2 L2167.1 1210.3 L2168.1 1210.4 L2169.1 1210.5 L2170.0 1210.6 L2171.0 1210.7 L2172.0 1210.8 L2173.0 1210.9 L2174.0 1211.0 L2175.0 1211.1 L2176.0 1211.2 L2177.0 1211.3 L2178.0 1211.3 L2179.0 1211.4 L2180.0 1211.5 L2180.9 1211.6 L2181.9 1211.7 L2182.9 1211.8 L2183.9 1211.9 L2184.9 1212.0 L2185.9 1212.1 L2186.9 1212.2 L2187.9 1212.2 L2188.9 1212.3 L2189.9 1212.4 L2190.8 1212.5 L2191.8 1212.6 L2192.8 1212.7 L2193.8 1212.8 L2194.8 1212.9 L2195.8 1212.9 L2196.8 1213.0 L2197.8 1213.1 L2198.8 1213.2 L2199.8 1213.3 L2200.7 1213.4 L2201.7 1213.5 L2202.7 1213.5 L2203.7 1213.6 L2204.7 1213.7 L2205.7 1213.8 L2206.7 1213.9 L2207.7 1214.0 L2208.7 1214.1 L2209.7 1214.1 L2210.6 1214.2 L2211.6 1214.3 L2212.6 1214.4 L2213.6 1214.5 L2214.6 1214.6 L2215.6 1214.7 L2216.6 1214.8 L2217.6 1214.8 L2218.6 1214.9 L2219.6 1215.0 L2220.5 1215.1 L2221.5 1215.2 L2222.5 1215.3 L2223.5 1215.4 L2224.5 1215.4 L2225.5 1215.5 L2226.5 1215.6 L2227.5 1215.7 L2228.5 1215.8 L2229.5 1215.9 L2230.5 1216.0 L2231.4 1216.1 L2232.4 1216.1 L2233.4 1216.2 L2234.4 1216.3 L2235.4 1216.4 L2236.4 1216.5 L2237.4 1216.6 L2238.4 1216.7 L2239.4 1216.8 L2240.4 1216.9 L2241.4 1217.0 L2242.3 1217.0 L2243.3 1217.1 L2244.3 1217.2 L2245.3 1217.3 L2246.3 1217.4 L2247.3 1217.5 L2248.3 1217.6 L2249.3 1217.7 L2250.3 1217.8 L2251.3 1217.9 L2252.3 1218.0 L2253.3 1218.1 L2254.3 1218.2 L2255.3 1218.3 L2256.2 1218.4 L2257.2 1218.5 L2258.2 1218.6 L2259.2 1218.7 L2260.2 1218.8 L2261.2 1218.9 L2262.2 1219.0 L2263.2 1219.1 L2264.2 1219.2 L2265.2 1219.3 L2266.2 1219.4 L2267.2 1219.5 L2268.2 1219.6 L2269.2 1219.7 L2270.2 1219.8 L2271.2 1219.9 L2272.2 1220.0 L2273.2 1220.1 L2274.1 1220.2 L2275.1 1220.3 L2276.1 1220.4 L2277.1 1220.5 L2278.1 1220.6 L2279.1 1220.7 L2280.1 1220.8 L2281.1 1221.0 L2282.1 1221.1 L2283.1 1221.2 L2284.1 1221.3 L2285.1 1221.4 L2286.1 1221.5 L2287.1 1221.6 L2288.1 1221.8 L2289.1 1221.9 L2290.1 1222.0 L2291.1 1222.1 L2292.1 1222.2 L2293.1 1222.3 L2294.1 1222.5 L2295.1 1222.6 L2296.1 1222.7 L2297.1 1222.8 L2298.1 1223.0 L2299.1 1223.1 L2300.1 1223.2 L2301.1 1223.3 L2302.1 1223.5 L2303.1 1223.6 L2304.1 1223.7 L2305.1 1223.8 L2306.1 1224.0 L2307.1 1224.1 L2308.1 1224.2 L2309.1 1224.4 L2310.1 1224.5 L2311.1 1224.7" fill="none" stroke="#00f" stroke-width="8.4" stroke-linecap="round" stroke-linejoin="round"/>
</g>
<line x1="183.0" y1="64.0" x2="183.0" y2="1306.0" stroke="#000" stroke-width="6.0" stroke-linecap="butt"/>
<line x1="2311.0" y1="64.0" x2="2311.0" y2="1306.0" stroke="#000" stroke-width="6.0" stroke-linecap="butt"/>
<line x1="183.0" y1="64.0" x2="2311.0" y2="64.0" stroke="#000" stroke-width="6.0" stroke-linecap="butt"/>
<line x1="183.0" y1="1306.0" x2="2311.0" y2="1306.0" stroke="#000" stroke-width="6.0" stroke-linecap="butt"/>
<line x1="183.0" y1="34.5" x2="183.0" y2="93.5" stroke="#000" stroke-width="6.0" stroke-linecap="butt"/>
<line x1="183.0" y1="1276.5" x2="183.0" y2="1335.5" stroke="#000" stroke-width="6.0" stroke-linecap="butt"/>
<line x1="335.0" y1="48.0" x2="335.0" y2="80.0" stroke="#000" stroke-width="6.0" stroke-linecap="butt"/>
<line x1="335.0" y1="1290.0" x2="335.0" y2="1322.0" stroke="#000" stroke-width="6.0" stroke-linecap="butt"/>
<line x1="487.0" y1="34.5" x2="487.0" y2="93.5" stroke="#000" stroke-width="6.0" stroke-linecap="butt"/>
<line x1="487.0" y1="1276.5" x2="487.0" y2="1335.5" stroke="#000" stroke-width="6.0" stroke-linecap="butt"/>
<line x1="639.0" y1="48.0" x2="639.0" y2="80.0" stroke="#000" stroke-width="6.0" stroke-linecap="butt"/>
<line x1="639.0" y1="1290.0" x2="639.0" y2="1322.0" stroke="#000" stroke-width="6.0" stroke-linecap="butt"/>
<line x1="791.0" y1="34.5" x2="791.0" y2="93.5" stroke="#000" stroke-width="6.0" stroke-linecap="butt"/>
<line x1="791.0" y1="1276.5" x2="791.0" y2="1335.5" stroke="#000" stroke-width="6.0" stroke-linecap="butt"/>
<line x1="943.0" y1="48.0" x2="943.0" y2="80.0" stroke="#000" stroke-width="6.0" stroke-linecap="butt"/>
<line x1="943.0" y1="1290.0" x2="943.0" y2="1322.0" stroke="#000" stroke-width="6.0" stroke-linecap="butt"/>
<line x1="1095.0" y1="34.5" x2="1095.0" y2="93.5" stroke="#000" stroke-width="6.0" stroke-linecap="butt"/>
<line x1="1095.0" y1="1276.5" x2="1095.0" y2="1335.5" stroke="#000" stroke-width="6.0" stroke-linecap="butt"/>
<line x1="1247.0" y1="48.0" x2="1247.0" y2="80.0" stroke="#000" stroke-width="6.0" stroke-linecap="butt"/>
<line x1="1247.0" y1="1290.0" x2="1247.0" y2="1322.0" stroke="#000" stroke-width="6.0" stroke-linecap="butt"/>
<line x1="1399.0" y1="34.5" x2="1399.0" y2="93.5" stroke="#000" stroke-width="6.0" stroke-linecap="butt"/>
<line x1="1399.0" y1="1276.5" x2="1399.0" y2="1335.5" stroke="#000" stroke-width="6.0" stroke-linecap="butt"/>
<line x1="1551.0" y1="48.0" x2="1551.0" y2="80.0" stroke="#000" stroke-width="6.0" stroke-linecap="butt"/>
<line x1="1551.0" y1="1290.0" x2="1551.0" y2="1322.0" stroke="#000" stroke-width="6.0" stroke-linecap="butt"/>
<line x1="1703.0" y1="34.5" x2="1703.0" y2="93.5" stroke="#000" stroke-width="6.0" stroke-linecap="butt"/>
<line x1="1703.0" y1="1276.5" x2="1703.0" y2="1335.5" stroke="#000" stroke-width="6.0" stroke-linecap="butt"/>
<line x1="1855.0" y1="48.0" x2="1855.0" y2="80.0" stroke="#000" stroke-width="6.0" stroke-linecap="butt"/>
<line x1="1855.0" y1="1290.0" x2="1855.0" y2="1322.0" stroke="#000" stroke-width="6.0" stroke-linecap="butt"/>
<line x1="2007.0" y1="34.5" x2="2007.0" y2="93.5" stroke="#000" stroke-width="6.0" stroke-linecap="butt"/>
<line x1="2007.0" y1="1276.5" x2="2007.0" y2="1335.5" stroke="#000" stroke-width="6.0" stroke-linecap="butt"/>
<line x1="2159.0" y1="48.0" x2="2159.0" y2="80.0" stroke="#000" stroke-width="6.0" stroke-linecap="butt"/>
<line x1="2159.0" y1="1290.0" x2="2159.0" y2="1322.0" stroke="#000" stroke-width="6.0" stroke-linecap="butt"/>
<line x1="2311.0" y1="34.5" x2="2311.0" y2="93.5" stroke="#000" stroke-width="6.0" stroke-linecap="butt"/>
<line x1="2311.0" y1="1276.5" x2="2311.0" y2="1335.5" stroke="#000" stroke-width="6.0" stroke-linecap="butt"/>
<line x1="153.5" y1="64.0" x2="212.5" y2="64.0" stroke="#000" stroke-width="6.0" stroke-linecap="butt"/>
<line x1="167.0" y1="168.0" x2="199.0" y2="168.0" stroke="#000" stroke-width="6.0" stroke-linecap="butt"/>
<line x1="153.5" y1="271.0" x2="212.5" y2="271.0" stroke="#000" stroke-width="6.0" stroke-linecap="butt"/>
<line x1="167.0" y1="374.0" x2="199.0" y2="374.0" stroke="#000" stroke-width="6.0" stroke-linecap="butt"/>
<line x1="153.5" y1="478.0" x2="212.5" y2="478.0" stroke="#000" stroke-width="6.0" stroke-linecap="butt"/>
<line x1="167.0" y1="582.0" x2="199.0" y2="582.0" stroke="#000" stroke-width="6.0" stroke-linecap="butt"/>
<line x1="153.5" y1="685.0" x2="212.5" y2="685.0" stroke="#000" stroke-width="6.0" stroke-linecap="butt"/>
<line x1="167.0" y1="788.0" x2="199.0" y2="788.0" stroke="#000" stroke-width="6.0" stroke-linecap="butt"/>
<line x1="153.5" y1="892.0" x2="212.5" y2="892.0" stroke="#000" stroke-width="6.0" stroke-linecap="butt"/>
<line x1="167.0" y1="996.0" x2="199.0" y2="996.0" stroke="#000" stroke-width="6.0" stroke-linecap="butt"/>
<line x1="153.5" y1="1099.0" x2="212.5" y2="1099.0" stroke="#000" stroke-width="6.0" stroke-linecap="butt"/>
<line x1="167.0" y1="1202.0" x2="199.0" y2="1202.0" stroke="#000" stroke-width="6.0" stroke-linecap="butt"/>
<line x1="153.5" y1="1306.0" x2="212.5" y2="1306.0" stroke="#000" stroke-width="6.0" stroke-linecap="butt"/>
<line x1="2281.5" y1="64.0" x2="2340.5" y2="64.0" stroke="#000" stroke-width="6.0" stroke-linecap="butt"/>
<line x1="2295.0" y1="168.0" x2="2327.0" y2="168.0" stroke="#000" stroke-width="6.0" stroke-linecap="butt"/>
<line x1="2281.5" y1="271.0" x2="2340.5" y2="271.0" stroke="#000" stroke-width="6.0" stroke-linecap="butt"/>
<line x1="2295.0" y1="374.0" x2="2327.0" y2="374.0" stroke="#000" stroke-width="6.0" stroke-linecap="butt"/>
<line x1="2281.5" y1="478.0" x2="2340.5" y2="478.0" stroke="#000" stroke-width="6.0" stroke-linecap="butt"/>
<line x1="2295.0" y1="582.0" x2="2327.0" y2="582.0" stroke="#000" stroke-width="6.0" stroke-linecap="butt"/>
<line x1="2281.5" y1="685.0" x2="2340.5" y2="685.0" stroke="#000" stroke-width="6.0" stroke-linecap="butt"/>
<line x1="2295.0" y1="788.0" x2="2327.0" y2="788.0" stroke="#000" stroke-width="6.0" stroke-linecap="butt"/>
<line x1="2281.5" y1="892.0" x2="2340.5" y2="892.0" stroke="#000" stroke-width="6.0" stroke-linecap="butt"/>
<line x1="2295.0" y1="996.0" x2="2327.0" y2="996.0" stroke="#000" stroke-width="6.0" stroke-linecap="butt"/>
<line x1="2281.5" y1="1099.0" x2="2340.5" y2="1099.0" stroke="#000" stroke-width="6.0" stroke-linecap="butt"/>
<line x1="2295.0" y1="1202.0" x2="2327.0" y2="1202.0" stroke="#000" stroke-width="6.0" stroke-linecap="butt"/>
<line x1="2281.5" y1="1306.0" x2="2340.5" y2="1306.0" stroke="#000" stroke-width="6.0" stroke-linecap="butt"/>
<text x="183.0" y="1395.0" font-family="Liberation Sans, sans-serif" font-size="57.5" text-anchor="middle" stroke="#000" stroke-width="0.5">200</text>
<text x="487.0" y="1395.0" font-family="Liberation Sans, sans-serif" font-size="57.5" text-anchor="middle" stroke="#000" stroke-width="0.5">220</text>
<text x="791.0" y="1395.0" font-family="Liberation Sans, sans-serif" font-size="57.5" text-anchor="middle" stroke="#000" stroke-width="0.5">240</text>
<text x="1095.0" y="1395.0" font-family="Liberation Sans, sans-serif" font-size="57.5" text-anchor="middle" stroke="#000" stroke-width="0.5">260</text>
<text x="1399.0" y="1395.0" font-family="Liberation Sans, sans-serif" font-size="57.5" text-anchor="middle" stroke="#000" stroke-width="0.5">280</text>
<text x="1703.0" y="1395.0" font-family="Liberation Sans, sans-serif" font-size="57.5" text-anchor="middle" stroke="#000" stroke-width="0.5">300</text>
<text x="2007.0" y="1395.0" font-family="Liberation Sans, sans-serif" font-size="57.5" text-anchor="middle" stroke="#000" stroke-width="0.5">320</text>
<text x="2311.0" y="1395.0" font-family="Liberation Sans, sans-serif" font-size="57.5" text-anchor="middle" stroke="#000" stroke-width="0.5">340</text>
<text x="1247.0" y="1515.6" font-family="Liberation Sans, sans-serif" font-size="71" text-anchor="middle" stroke="#000" stroke-width="0.6">Temperature (<tspan font-size="42" dy="-33.4">o</tspan><tspan dy="33.4">C)</tspan></text>
<text transform="translate(95.8 732.0) rotate(-90)" font-family="Liberation Sans, sans-serif" font-size="69.6" text-anchor="middle" stroke="#000" stroke-width="0.6">Heat Flow (a.u.)</text>
<text y="196.7" font-family="Liberation Sans, sans-serif" font-size="69.5" stroke="#000" stroke-width="0.6"><tspan x="1593.0" y="196.7">NH</tspan><tspan x="1694.0" y="220.7" font-size="40.31">4</tspan><tspan x="1718.0" y="196.7">NO</tspan><tspan x="1824.0" y="220.7" font-size="40.31">3</tspan><tspan x="1866.9" y="196.7">+</tspan><tspan x="1925.1" y="196.7">Al</tspan><tspan x="2065.0" y="196.7" font-weight="bold" stroke-width="0.3">A</tspan><tspan x="2138.1" y="196.7">(</tspan><tspan x="2158.7" y="196.7" font-weight="bold" stroke-width="0.3">+</tspan><tspan x="2202.8" y="196.7">)</tspan></text>
<line x1="273.6" y1="306.7" x2="427.6" y2="306.7" stroke="#000" stroke-width="8.5" stroke-linecap="round"/>
<text transform="translate(450.3 331.2) scale(1.220 1.055) skewX(-4)" font-family="Liberation Serif, serif" font-size="70.0" font-style="italic" fill="#000">β</text>
<text transform="translate(503.0 333.0) scale(1.070 0.900)" font-family="Liberation Serif, serif" font-size="70.0" fill="#000" stroke="#000" stroke-width="1.1">=</text>
<text x="559.5" y="330.6" font-family="Liberation Serif, serif" font-size="70.0" fill="#000">5.0<tspan font-size="43.0" dy="-33.5" dx="1.0">o</tspan></text>
<text x="670.7" y="330.6" font-family="Liberation Sans, sans-serif" font-size="70.3" fill="#000">C/min</text>
<line x1="273.6" y1="407.6" x2="298.1" y2="407.6" stroke="#f00" stroke-width="8.5" stroke-linecap="round"/>
<line x1="338.6" y1="407.6" x2="363.2" y2="407.6" stroke="#f00" stroke-width="8.5" stroke-linecap="round"/>
<line x1="402.6" y1="407.6" x2="427.6" y2="407.6" stroke="#f00" stroke-width="8.5" stroke-linecap="round"/>
<text transform="translate(450.3 431.9) scale(1.220 1.055) skewX(-4)" font-family="Liberation Serif, serif" font-size="70.0" font-style="italic" fill="#f00">β</text>
<text transform="translate(503.0 433.7) scale(1.070 0.900)" font-family="Liberation Serif, serif" font-size="70.0" fill="#f00" stroke="#f00" stroke-width="1.1">=</text>
<text x="561.0" y="431.3" font-family="Liberation Serif, serif" font-size="70.0" fill="#f00">10.0<tspan font-size="43.0" dy="-33.5" dx="1.0">o</tspan></text>
<text x="707.3" y="431.3" font-family="Liberation Sans, sans-serif" font-size="70.3" fill="#f00">C/min</text>
<line x1="273.6" y1="508.6" x2="304.4" y2="508.6" stroke="#00f" stroke-width="8.5" stroke-linecap="round"/>
<line x1="328.7" y1="508.6" x2="330.6" y2="508.6" stroke="#00f" stroke-width="8.5" stroke-linecap="round"/>
<line x1="352.6" y1="508.6" x2="386.4" y2="508.6" stroke="#00f" stroke-width="8.5" stroke-linecap="round"/>
<line x1="410.2" y1="508.6" x2="411.5" y2="508.6" stroke="#00f" stroke-width="8.5" stroke-linecap="round"/>
<text transform="translate(450.3 532.6) scale(1.220 1.055) skewX(-4)" font-family="Liberation Serif, serif" font-size="70.0" font-style="italic" fill="#00f">β</text>
<text transform="translate(503.0 534.4) scale(1.070 0.900)" font-family="Liberation Serif, serif" font-size="70.0" fill="#00f" stroke="#00f" stroke-width="1.1">=</text>
<text x="559.5" y="532.0" font-family="Liberation Serif, serif" font-size="70.0" fill="#00f">20.0<tspan font-size="43.0" dy="-33.5" dx="1.0">o</tspan></text>
<text x="707.3" y="532.0" font-family="Liberation Sans, sans-serif" font-size="70.3" fill="#00f">C/min</text>
<clipPath id="c2"><rect x="188" y="1614" width="2144" height="1253"/></clipPath>
<g clip-path="url(#c2)">
<path d="M188.2 2693.6 L190.2 2693.4 L192.2 2693.3 L194.2 2693.1 L196.2 2693.0 L198.2 2692.9 L200.2 2692.7 L202.2 2692.6 L204.2 2692.4 L206.2 2692.3 L208.2 2692.1 L210.2 2692.0 L212.1 2691.8 L214.1 2691.7 L216.1 2691.5 L218.1 2691.4 L220.1 2691.2 L222.1 2691.0 L224.1 2690.9 L226.1 2690.7 L228.1 2690.6 L230.1 2690.4 L232.1 2690.2 L234.1 2690.1 L236.1 2689.9 L238.1 2689.7 L240.1 2689.5 L242.0 2689.3 L244.0 2689.2 L246.0 2689.0 L248.0 2688.8 L250.0 2688.6 L252.0 2688.4 L254.0 2688.2 L256.0 2688.0 L258.0 2687.8 L260.0 2687.6 L261.9 2687.4 L263.9 2687.2 L265.9 2687.0 L267.9 2686.8 L269.9 2686.6 L271.9 2686.4 L273.9 2686.2 L275.9 2686.0 L277.8 2685.8 L279.8 2685.5 L281.8 2685.3 L283.8 2685.1 L285.8 2684.9 L287.8 2684.6 L289.8 2684.4 L291.7 2684.2 L293.7 2683.9 L295.7 2683.7 L297.7 2683.4 L299.7 2683.2 L301.6 2682.9 L303.6 2682.7 L305.6 2682.4 L307.6 2682.2 L309.6 2681.9 L311.6 2681.6 L313.5 2681.4 L315.5 2681.1 L317.5 2680.8 L319.5 2680.5 L321.5 2680.3 L323.4 2680.0 L325.4 2679.7 L327.4 2679.4 L329.4 2679.1 L331.3 2678.8 L333.3 2678.5 L335.3 2678.2 L337.3 2677.9 L339.2 2677.6 L341.2 2677.3 L343.2 2677.0 L345.2 2676.6 L347.1 2676.3 L349.1 2676.0 L351.1 2675.7 L353.1 2675.3 L355.0 2675.0 L357.0 2674.6 L359.0 2674.3 L361.0 2674.0 L362.9 2673.6 L364.9 2673.3 L366.9 2672.9 L368.8 2672.6 L370.8 2672.2 L372.8 2671.8 L374.7 2671.5 L376.7 2671.1 L378.7 2670.7 L380.6 2670.4 L382.6 2670.0 L384.6 2669.6 L386.5 2669.3 L388.5 2668.9 L390.5 2668.5 L392.4 2668.1 L394.4 2667.7 L396.4 2667.4 L398.3 2667.0 L400.3 2666.6 L402.2 2666.2 L404.2 2665.8 L406.2 2665.4 L408.1 2665.0 L410.1 2664.7 L412.1 2664.3 L414.0 2663.9 L416.0 2663.5 L417.9 2663.1 L419.9 2662.7 L421.9 2662.4 L423.8 2662.0 L425.8 2661.6 L427.8 2661.3 L429.7 2660.9 L431.7 2660.6 L433.7 2660.2 L435.6 2659.9 L437.6 2659.6 L439.6 2659.2 L441.6 2658.9 L443.5 2658.6 L445.5 2658.3 L447.5 2658.0 L449.5 2657.7 L451.5 2657.5 L453.4 2657.2 L455.4 2657.0 L457.4 2656.7 L459.4 2656.5 L461.4 2656.3 L463.4 2656.0 L465.4 2655.8 L467.4 2655.5 L469.4 2655.3 L471.4 2655.1 L473.4 2654.8 L475.3 2654.5 L477.3 2654.2 L479.3 2653.9 L481.3 2653.6 L483.2 2653.3 L485.2 2652.9 L487.2 2652.5 L489.1 2652.1 L491.0 2651.7 L493.0 2651.2 L494.9 2650.7 L496.8 2650.2 L498.8 2649.6 L500.7 2649.0 L502.6 2648.4 L504.5 2647.8 L506.4 2647.1 L508.3 2646.5 L510.2 2645.8 L512.1 2645.1 L514.0 2644.5 L515.9 2643.8 L517.8 2643.2 L519.7 2642.5 L521.6 2641.9 L523.5 2641.3 L525.4 2640.7 L527.3 2640.2 L529.2 2639.7 L531.1 2639.2 L533.1 2638.7 L535.0 2638.3 L537.0 2638.0 L539.0 2637.6 L540.9 2637.3 L542.9 2637.1 L544.9 2636.8 L546.9 2636.6 L548.9 2636.4 L550.9 2636.2 L552.9 2636.1 L554.9 2635.9 L556.9 2635.8 L558.9 2635.6 L560.9 2635.5 L562.9 2635.3 L564.9 2635.2 L566.9 2635.0 L568.9 2634.8 L570.9 2634.6 L572.9 2634.4 L574.9 2634.2 L576.8 2633.9 L578.8 2633.6 L580.8 2633.2 L582.7 2632.8 L584.7 2632.4 L586.6 2631.9 L588.5 2631.4 L590.5 2630.9 L592.4 2630.3 L594.3 2629.6 L596.2 2629.0 L598.1 2628.3 L599.9 2627.5 L601.8 2626.8 L603.7 2626.0 L605.5 2625.2 L607.4 2624.4 L609.2 2623.6 L611.1 2622.7 L612.9 2621.9 L614.7 2621.0 L616.5 2620.1 L618.4 2619.3 L620.2 2618.4 L622.0 2617.6 L623.8 2616.9 L625.7 2616.2 L627.5 2615.5 L629.4 2614.9 L631.2 2614.4 L633.1 2614.0 L635.0 2613.7 L636.9 2613.5 L638.9 2613.4 L640.8 2613.4 L642.8 2613.4 L644.7 2613.5 L646.7 2613.5 L648.7 2613.6 L650.6 2613.6 L652.6 2613.5 L654.6 2613.4 L656.6 2613.3 L658.5 2613.2 L660.5 2613.0 L662.5 2612.8 L664.5 2612.5 L666.4 2612.2 L668.4 2611.9 L670.4 2611.6 L672.4 2611.2 L674.3 2610.8 L676.3 2610.4 L678.3 2609.9 L680.2 2609.4 L682.2 2608.9 L684.1 2608.4 L686.0 2607.8 L688.0 2607.3 L689.9 2606.6 L691.8 2606.0 L693.7 2605.4 L695.6 2604.7 L697.5 2604.0 L699.4 2603.3 L701.3 2602.6 L703.2 2601.8 L705.0 2601.1 L706.9 2600.3 L708.7 2599.5 L710.5 2598.7 L712.3 2597.8 L714.1 2597.0 L715.9 2596.1 L717.7 2595.2 L719.4 2594.3 L721.2 2593.3 L722.9 2592.4 L724.7 2591.4 L726.4 2590.4 L728.1 2589.3 L729.8 2588.2 L731.5 2587.1 L733.2 2586.0 L734.8 2584.9 L736.5 2583.7 L738.1 2582.5 L739.8 2581.3 L741.4 2580.0 L743.0 2578.8 L744.7 2577.6 L746.3 2576.3 L748.0 2575.1 L749.6 2574.0 L751.3 2572.9 L753.0 2571.8 L754.7 2570.7 L756.4 2569.8 L758.1 2568.9 L759.9 2568.0 L761.7 2567.3 L763.5 2566.6 L765.4 2566.1 L767.3 2565.6 L769.2 2565.3 L771.2 2565.1 L773.2 2564.9 L775.2 2564.8 L777.3 2564.7 L779.3 2564.7 L781.3 2564.6 L783.4 2564.5 L785.4 2564.3 L787.3 2564.0 L789.3 2563.7 L791.2 2563.2 L793.1 2562.7 L794.9 2562.2 L796.8 2561.6 L798.6 2560.9 L800.4 2560.1 L802.2 2559.3 L804.0 2558.4 L805.7 2557.5 L807.5 2556.6 L809.2 2555.6 L810.9 2554.6 L812.6 2553.5 L814.3 2552.4 L816.0 2551.3 L817.7 2550.2 L819.4 2549.0 L821.0 2547.8 L822.7 2546.7 L824.4 2545.5 L826.0 2544.3 L827.7 2543.1 L829.4 2541.9 L831.0 2540.7 L832.7 2539.5 L834.4 2538.4 L836.1 2537.2 L837.8 2536.1 L839.5 2535.0 L841.2 2534.0 L842.9 2532.9 L844.7 2532.0 L846.4 2531.0 L848.2 2530.1 L850.0 2529.2 L851.8 2528.4 L853.6 2527.6 L855.4 2526.9 L857.3 2526.2 L859.1 2525.4 L860.9 2524.7 L862.7 2523.9 L864.5 2523.1 L866.3 2522.3 L868.0 2521.4 L869.7 2520.5 L871.4 2519.4 L873.1 2518.3 L874.7 2517.2 L876.3 2516.0 L877.9 2514.8 L879.5 2513.5 L881.1 2512.3 L882.7 2511.1 L884.3 2509.9 L885.9 2508.7 L887.6 2507.6 L889.3 2506.6 L891.1 2505.7 L892.9 2504.8 L894.7 2503.9 L896.5 2503.1 L898.4 2502.4 L900.2 2501.6 L902.1 2500.8 L903.9 2500.0 L905.7 2499.2 L907.5 2498.3 L909.2 2497.4 L910.9 2496.4 L912.6 2495.4 L914.2 2494.2 L915.7 2492.9 L917.2 2491.6 L918.6 2490.2 L920.0 2488.8 L921.4 2487.4 L922.8 2485.9 L924.2 2484.5 L925.6 2483.1 L927.1 2481.8 L928.6 2480.5 L930.1 2479.3 L931.7 2478.2 L933.4 2477.2 L935.1 2476.3 L936.8 2475.6 L938.7 2474.9 L940.5 2474.2 L942.4 2473.6 L944.4 2473.1 L946.3 2472.6 L948.3 2472.1 L950.3 2471.7 L952.2 2471.2 L954.2 2470.7 L956.2 2470.2 L958.2 2469.7 L960.1 2469.1 L962.0 2468.5 L963.9 2467.8 L965.8 2467.1 L967.7 2466.4 L969.6 2465.7 L971.4 2464.9 L973.3 2464.1 L975.1 2463.3 L976.9 2462.5 L978.7 2461.6 L980.5 2460.7 L982.3 2459.8 L984.1 2458.9 L985.9 2457.9 L987.6 2457.0 L989.3 2456.0 L991.1 2454.9 L992.8 2453.9 L994.5 2452.8 L996.1 2451.8 L997.8 2450.7 L999.4 2449.5 L1001.1 2448.4 L1002.7 2447.2 L1004.3 2446.1 L1005.9 2445.0 L1007.6 2443.9 L1009.2 2442.8 L1010.9 2441.8 L1012.6 2440.8 L1014.4 2439.9 L1016.2 2439.1 L1018.0 2438.3 L1019.8 2437.5 L1021.7 2436.7 L1023.5 2436.0 L1025.4 2435.3 L1027.3 2434.6 L1029.1 2433.8 L1031.0 2433.1 L1032.8 2432.4 L1034.7 2431.6 L1036.5 2430.8 L1038.3 2430.0 L1040.1 2429.1 L1041.9 2428.2 L1043.6 2427.2 L1045.3 2426.3 L1047.0 2425.3 L1048.7 2424.3 L1050.4 2423.3 L1052.1 2422.4 L1053.8 2421.4 L1055.4 2420.4 L1057.1 2419.5 L1058.7 2418.5 L1060.3 2417.6 L1061.9 2416.6 L1063.6 2415.6 L1065.2 2414.6 L1066.8 2413.6 L1068.5 2412.6 L1070.2 2411.6 L1071.9 2410.7 L1073.7 2409.7 L1075.6 2408.8 L1077.5 2407.9 L1079.4 2407.0 L1081.3 2406.2 L1083.3 2405.5 L1085.3 2404.8 L1087.3 2404.3 L1089.3 2403.8 L1091.3 2403.5 L1093.3 2403.3 L1095.3 2403.3 L1097.2 2403.4 L1099.1 2403.7 L1100.9 2404.2 L1102.7 2404.9 L1104.4 2405.7 L1105.9 2406.7 L1107.5 2407.9 L1108.9 2409.2 L1110.3 2410.6 L1111.6 2412.1 L1112.8 2413.7 L1114.0 2415.4 L1115.1 2417.1 L1116.2 2418.8 L1117.2 2420.5 L1118.2 2422.2 L1119.1 2424.0 L1120.0 2425.8 L1120.8 2427.6 L1121.6 2429.4 L1122.4 2431.2 L1123.1 2433.1 L1123.8 2434.9 L1124.4 2436.8 L1125.0 2438.7 L1125.6 2440.6 L1126.2 2442.5 L1126.7 2444.4 L1127.2 2446.4 L1127.7 2448.3 L1128.1 2450.3 L1128.6 2452.2 L1129.0 2454.2 L1129.4 2456.2 L1129.8 2458.1 L1130.2 2460.1 L1130.5 2462.1 L1130.9 2464.1 L1131.2 2466.1 L1131.5 2468.1 L1131.9 2470.1 L1132.2 2472.0 L1132.5 2474.0 L1132.8 2476.0 L1133.1 2478.0 L1133.5 2480.0 L1133.8 2482.0 L1134.1 2484.0 L1134.4 2486.0 L1134.7 2487.9 L1135.0 2489.9 L1135.3 2491.9 L1135.6 2493.9 L1135.9 2495.9 L1136.2 2497.8 L1136.5 2499.8 L1136.8 2501.8 L1137.1 2503.8 L1137.4 2505.8 L1137.6 2507.7 L1137.9 2509.7 L1138.2 2511.7 L1138.5 2513.7 L1138.8 2515.6 L1139.1 2517.6 L1139.4 2519.6 L1139.6 2521.6 L1139.9 2523.5 L1140.2 2525.5 L1140.5 2527.5 L1140.8 2529.5 L1141.0 2531.4 L1141.3 2533.4 L1141.6 2535.4 L1141.9 2537.3 L1142.2 2539.3 L1142.5 2541.3 L1142.7 2543.3 L1143.0 2545.2 L1143.3 2547.2 L1143.6 2549.2 L1143.9 2551.1 L1144.2 2553.1 L1144.5 2555.1 L1144.7 2557.1 L1145.0 2559.0 L1145.3 2561.0 L1145.6 2563.0 L1145.9 2564.9 L1146.2 2566.9 L1146.5 2568.9 L1146.8 2570.8 L1147.1 2572.8 L1147.4 2574.8 L1147.8 2576.7 L1148.1 2578.7 L1148.4 2580.7 L1148.7 2582.7 L1149.0 2584.6 L1149.4 2586.6 L1149.7 2588.6 L1150.0 2590.5 L1150.4 2592.5 L1150.7 2594.5 L1151.1 2596.4 L1151.4 2598.4 L1151.8 2600.3 L1152.1 2602.3 L1152.5 2604.3 L1152.8 2606.2 L1153.2 2608.2 L1153.6 2610.2 L1154.0 2612.1 L1154.4 2614.1 L1154.7 2616.1 L1155.1 2618.0 L1155.5 2620.0 L1156.0 2621.9 L1156.4 2623.9 L1156.8 2625.9 L1157.2 2627.8 L1157.6 2629.8 L1158.1 2631.7 L1158.5 2633.7 L1159.0 2635.7 L1159.4 2637.6 L1159.9 2639.6 L1160.4 2641.5 L1160.8 2643.5 L1161.3 2645.4 L1161.8 2647.4 L1162.3 2649.4 L1162.8 2651.3 L1163.3 2653.3 L1163.9 2655.2 L1164.4 2657.2 L1164.9 2659.1 L1165.5 2661.1 L1166.1 2663.0 L1166.7 2664.9 L1167.2 2666.9 L1167.9 2668.8 L1168.5 2670.7 L1169.1 2672.6 L1169.8 2674.5 L1170.5 2676.4 L1171.1 2678.3 L1171.9 2680.2 L1172.6 2682.0 L1173.3 2683.9 L1174.1 2685.7 L1174.9 2687.6 L1175.7 2689.4 L1176.6 2691.2 L1177.4 2693.0 L1178.3 2694.8 L1179.2 2696.6 L1180.2 2698.3 L1181.2 2700.0 L1182.1 2701.8 L1183.2 2703.5 L1184.2 2705.2 L1185.3 2706.8 L1186.4 2708.5 L1187.6 2710.1 L1188.8 2711.7 L1190.0 2713.3 L1191.2 2714.9 L1192.5 2716.4 L1193.8 2717.9 L1195.1 2719.3 L1196.5 2720.7 L1197.9 2722.1 L1199.3 2723.4 L1200.8 2724.7 L1202.3 2726.0 L1203.9 2727.2 L1205.5 2728.3 L1207.1 2729.4 L1208.7 2730.5 L1210.4 2731.5 L1212.2 2732.4 L1213.9 2733.3 L1215.7 2734.1 L1217.6 2734.8 L1219.5 2735.5 L1221.4 2736.1 L1223.4 2736.6 L1225.3 2737.1 L1227.4 2737.6 L1229.4 2738.0 L1231.4 2738.3 L1233.5 2738.6 L1235.6 2738.9 L1237.7 2739.2 L1239.7 2739.4 L1241.8 2739.6 L1243.9 2739.8 L1246.0 2740.0 L1248.0 2740.2 L1250.1 2740.4 L1252.1 2740.6 L1254.1 2740.7 L1256.2 2740.9 L1258.2 2741.0 L1260.2 2741.1 L1262.2 2741.3 L1264.2 2741.4 L1266.2 2741.5 L1268.2 2741.5 L1270.1 2741.6 L1272.1 2741.7 L1274.1 2741.7 L1276.1 2741.7 L1278.0 2741.7 L1280.0 2741.7 L1282.0 2741.6 L1283.9 2741.6 L1285.9 2741.5 L1287.8 2741.4 L1289.8 2741.2 L1291.8 2741.1 L1293.7 2740.9 L1295.7 2740.7 L1297.7 2740.5 L1299.6 2740.2 L1301.6 2740.0 L1303.6 2739.7 L1305.6 2739.3 L1307.5 2739.0 L1309.5 2738.7 L1311.5 2738.4 L1313.5 2738.2 L1315.5 2738.0 L1317.5 2737.8 L1319.5 2737.7 L1321.5 2737.6 L1323.5 2737.6 L1325.5 2737.7 L1327.4 2737.8 L1329.4 2737.9 L1331.4 2738.1 L1333.4 2738.3 L1335.4 2738.5 L1337.4 2738.8 L1339.4 2739.0 L1341.4 2739.2 L1343.4 2739.4 L1345.4 2739.6 L1347.4 2739.7 L1349.3 2739.8 L1351.3 2739.8 L1353.3 2739.7 L1355.3 2739.7 L1357.3 2739.5 L1359.3 2739.4 L1361.3 2739.1 L1363.3 2738.9 L1365.2 2738.7 L1367.2 2738.4 L1369.2 2738.1 L1371.2 2737.8 L1373.2 2737.5 L1375.2 2737.2 L1377.2 2736.9 L1379.1 2736.6 L1381.1 2736.3 L1383.1 2736.0 L1385.1 2735.8 L1387.1 2735.6 L1389.1 2735.4 L1391.1 2735.3 L1393.1 2735.2 L1395.1 2735.2 L1397.0 2735.2 L1399.0 2735.2 L1401.0 2735.3 L1403.0 2735.4 L1405.0 2735.6 L1407.0 2735.8 L1409.0 2735.9 L1411.0 2736.2 L1413.0 2736.4 L1415.0 2736.6 L1417.0 2736.9 L1419.0 2737.1 L1421.0 2737.3 L1423.0 2737.6 L1425.0 2737.8 L1427.0 2738.0 L1429.0 2738.2 L1431.0 2738.4 L1433.0 2738.6 L1435.0 2738.7 L1437.0 2738.9 L1439.0 2739.0 L1441.0 2739.1 L1443.0 2739.2 L1445.0 2739.3 L1447.0 2739.4 L1449.0 2739.4 L1451.0 2739.5 L1452.9 2739.5 L1454.9 2739.5 L1456.9 2739.5 L1458.9 2739.5 L1460.9 2739.5 L1462.9 2739.4 L1464.9 2739.4 L1466.9 2739.4 L1468.9 2739.3 L1470.9 2739.2 L1472.9 2739.2 L1474.9 2739.1 L1476.9 2739.0 L1478.9 2738.9 L1480.9 2738.8 L1482.9 2738.6 L1484.9 2738.5 L1486.9 2738.4 L1488.9 2738.3 L1490.9 2738.1 L1492.9 2738.0 L1494.9 2737.8 L1496.9 2737.7 L1498.9 2737.5 L1500.9 2737.3 L1502.9 2737.2 L1504.9 2737.0 L1506.9 2736.8 L1508.9 2736.7 L1510.9 2736.5 L1512.9 2736.3 L1514.9 2736.1 L1516.9 2736.0 L1518.9 2735.8 L1520.9 2735.6 L1522.9 2735.4 L1524.8 2735.3 L1526.8 2735.1 L1528.8 2734.9 L1530.8 2734.8 L1532.8 2734.6 L1534.8 2734.5 L1536.8 2734.4 L1538.8 2734.3 L1540.8 2734.3 L1542.8 2734.2 L1544.8 2734.2 L1546.8 2734.2 L1548.8 2734.3 L1550.8 2734.4 L1552.8 2734.5 L1554.7 2734.7 L1556.7 2734.9 L1558.7 2735.1 L1560.7 2735.3 L1562.7 2735.6 L1564.6 2735.9 L1566.6 2736.3 L1568.6 2736.6 L1570.6 2736.9 L1572.5 2737.3 L1574.5 2737.6 L1576.5 2738.0 L1578.5 2738.4 L1580.4 2738.7 L1582.4 2739.1 L1584.4 2739.4 L1586.4 2739.7 L1588.4 2740.0 L1590.4 2740.3 L1592.4 2740.6 L1594.3 2740.8 L1596.3 2741.0 L1598.3 2741.2 L1600.3 2741.4 L1602.3 2741.5 L1604.3 2741.6 L1606.3 2741.7 L1608.3 2741.8 L1610.3 2741.8 L1612.3 2741.8 L1614.3 2741.8 L1616.3 2741.8 L1618.3 2741.7 L1620.3 2741.6 L1622.3 2741.5 L1624.3 2741.3 L1626.3 2741.2 L1628.3 2741.0 L1630.3 2740.8 L1632.3 2740.6 L1634.3 2740.4 L1636.3 2740.3 L1638.3 2740.2 L1640.2 2740.1 L1642.2 2740.1 L1644.2 2740.2 L1646.2 2740.3 L1648.2 2740.5 L1650.1 2740.7 L1652.1 2740.9 L1654.1 2741.2 L1656.1 2741.5 L1658.0 2741.9 L1660.0 2742.2 L1662.0 2742.6 L1664.0 2743.0 L1665.9 2743.3 L1667.9 2743.7 L1669.9 2744.1 L1671.9 2744.4 L1673.9 2744.7 L1675.9 2745.0 L1677.8 2745.2 L1679.8 2745.5 L1681.8 2745.6 L1683.8 2745.8 L1685.8 2745.9 L1687.8 2746.0 L1689.8 2746.0 L1691.8 2746.0 L1693.8 2746.0 L1695.8 2746.0 L1697.8 2745.9 L1699.8 2745.8 L1701.8 2745.6 L1703.8 2745.5 L1705.8 2745.3 L1707.8 2745.1 L1709.8 2744.9 L1711.7 2744.7 L1713.7 2744.4 L1715.7 2744.2 L1717.7 2743.9 L1719.7 2743.7 L1721.7 2743.4 L1723.7 2743.2 L1725.6 2742.9 L1727.6 2742.7 L1729.6 2742.5 L1731.6 2742.3 L1733.6 2742.1 L1735.6 2742.0 L1737.6 2741.8 L1739.6 2741.7 L1741.6 2741.5 L1743.6 2741.4 L1745.6 2741.3 L1747.6 2741.2 L1749.6 2741.2 L1751.6 2741.1 L1753.6 2741.0 L1755.6 2741.0 L1757.6 2740.9 L1759.6 2740.9 L1761.6 2740.8 L1763.6 2740.8 L1765.6 2740.8 L1767.6 2740.8 L1769.6 2740.7 L1771.6 2740.7 L1773.6 2740.7 L1775.6 2740.7 L1777.6 2740.7 L1779.6 2740.6 L1781.6 2740.6 L1783.6 2740.6 L1785.6 2740.6 L1787.6 2740.5 L1789.6 2740.5 L1791.6 2740.5 L1793.6 2740.4 L1795.6 2740.4 L1797.6 2740.3 L1799.6 2740.3 L1801.6 2740.2 L1803.6 2740.2 L1805.6 2740.1 L1807.6 2740.0 L1809.6 2740.0 L1811.6 2739.9 L1813.6 2739.8 L1815.6 2739.7 L1817.6 2739.6 L1819.6 2739.6 L1821.6 2739.5 L1823.5 2739.4 L1825.5 2739.3 L1827.5 2739.2 L1829.5 2739.1 L1831.5 2739.0 L1833.5 2738.8 L1835.5 2738.7 L1837.5 2738.6 L1839.5 2738.5 L1841.5 2738.3 L1843.5 2738.2 L1845.5 2738.1 L1847.5 2737.9 L1849.5 2737.8 L1851.5 2737.7 L1853.5 2737.5 L1855.5 2737.3 L1857.4 2737.2 L1859.4 2737.0 L1861.4 2736.9 L1863.4 2736.7 L1865.4 2736.5 L1867.4 2736.3 L1869.4 2736.2 L1871.4 2736.0 L1873.4 2735.8 L1875.4 2735.6 L1877.4 2735.4 L1879.4 2735.2 L1881.4 2735.0 L1883.4 2734.8 L1885.4 2734.5 L1887.4 2734.3 L1889.4 2734.1 L1891.4 2733.9 L1893.4 2733.7 L1895.4 2733.4 L1897.4 2733.2 L1899.4 2733.0 L1901.4 2732.7 L1903.4 2732.5 L1905.4 2732.3 L1907.4 2732.1 L1909.4 2731.9 L1911.4 2731.7 L1913.3 2731.5 L1915.3 2731.3 L1917.3 2731.1 L1919.3 2731.0 L1921.3 2730.8 L1923.3 2730.7 L1925.3 2730.6 L1927.3 2730.6 L1929.3 2730.5 L1931.3 2730.5 L1933.3 2730.4 L1935.3 2730.5 L1937.3 2730.5 L1939.3 2730.6 L1941.3 2730.7 L1943.2 2730.8 L1945.2 2731.0 L1947.2 2731.1 L1949.2 2731.4 L1951.2 2731.6 L1953.2 2731.8 L1955.1 2732.1 L1957.1 2732.4 L1959.1 2732.7 L1961.1 2732.9 L1963.1 2733.2 L1965.1 2733.4 L1967.0 2733.7 L1969.0 2733.9 L1971.0 2734.0 L1973.0 2734.2 L1975.0 2734.3 L1977.0 2734.4 L1979.0 2734.4 L1981.0 2734.4 L1983.0 2734.4 L1985.0 2734.4 L1987.0 2734.3 L1989.0 2734.2 L1991.0 2734.1 L1993.0 2733.9 L1995.0 2733.8 L1997.0 2733.6 L1999.0 2733.5 L2001.0 2733.3 L2003.0 2733.1 L2005.0 2732.9 L2007.0 2732.7 L2009.0 2732.5 L2011.0 2732.3 L2013.1 2732.1 L2015.1 2732.0 L2017.1 2731.8 L2019.1 2731.7 L2021.1 2731.5 L2023.1 2731.4 L2025.1 2731.3 L2027.1 2731.2 L2029.1 2731.1 L2031.0 2731.1 L2033.0 2731.1 L2035.0 2731.1 L2037.0 2731.2 L2039.0 2731.3 L2041.0 2731.4 L2043.0 2731.6 L2045.0 2731.8 L2046.9 2732.1 L2048.9 2732.4 L2050.9 2732.7 L2052.9 2733.0 L2054.8 2733.4 L2056.8 2733.8 L2058.8 2734.1 L2060.7 2734.4 L2062.7 2734.8 L2064.7 2735.0 L2066.7 2735.3 L2068.6 2735.5 L2070.6 2735.6 L2072.6 2735.7 L2074.6 2735.7 L2076.6 2735.8 L2078.6 2735.7 L2080.6 2735.7 L2082.5 2735.6 L2084.5 2735.4 L2086.5 2735.3 L2088.5 2735.1 L2090.5 2734.9 L2092.5 2734.7 L2094.5 2734.4 L2096.5 2734.2 L2098.5 2734.0 L2100.6 2733.7 L2102.6 2733.4 L2104.6 2733.2 L2106.6 2732.9 L2108.6 2732.7 L2110.6 2732.5 L2112.6 2732.2 L2114.6 2732.0 L2116.6 2731.8 L2118.6 2731.6 L2120.6 2731.4 L2122.6 2731.3 L2124.6 2731.1 L2126.6 2731.0 L2128.6 2730.8 L2130.7 2730.7 L2132.7 2730.7 L2134.7 2730.6 L2136.7 2730.5 L2138.7 2730.5 L2140.7 2730.5 L2142.7 2730.5 L2144.7 2730.6 L2146.6 2730.6 L2148.6 2730.7 L2150.6 2730.9 L2152.6 2731.0 L2154.6 2731.2 L2156.6 2731.4 L2158.6 2731.6 L2160.5 2731.9 L2162.5 2732.2 L2164.5 2732.5 L2166.5 2732.8 L2168.4 2733.2 L2170.4 2733.5 L2172.4 2733.8 L2174.4 2734.0 L2176.3 2734.2 L2178.3 2734.4 L2180.3 2734.5 L2182.3 2734.5 L2184.2 2734.5 L2186.2 2734.5 L2188.2 2734.4 L2190.2 2734.3 L2192.2 2734.1 L2194.2 2733.9 L2196.2 2733.7 L2198.1 2733.5 L2200.1 2733.2 L2202.1 2733.0 L2204.1 2732.7 L2206.1 2732.4 L2208.1 2732.0 L2210.1 2731.7 L2212.1 2731.4 L2214.1 2731.1 L2216.1 2730.7 L2218.1 2730.4 L2220.1 2730.1 L2222.1 2729.8 L2224.1 2729.5 L2226.1 2729.2 L2228.1 2729.0 L2230.1 2728.7 L2232.1 2728.5 L2234.1 2728.3 L2236.1 2728.2 L2238.1 2728.0 L2240.1 2727.8 L2242.1 2727.7 L2244.0 2727.6 L2246.0 2727.5 L2248.0 2727.4 L2250.0 2727.3 L2252.0 2727.3 L2254.0 2727.2 L2256.0 2727.2 L2258.0 2727.2 L2260.0 2727.2 L2262.0 2727.2 L2264.0 2727.2 L2266.0 2727.2 L2268.0 2727.2 L2270.0 2727.2 L2272.0 2727.3 L2274.0 2727.3 L2276.0 2727.4 L2278.0 2727.4 L2280.0 2727.5 L2282.0 2727.6 L2284.0 2727.6 L2286.0 2727.7 L2288.0 2727.8 L2290.0 2727.9 L2292.0 2727.9 L2294.0 2728.0 L2296.0 2728.1 L2298.0 2728.2 L2300.0 2728.2 L2302.0 2728.3 L2304.0 2728.4 L2306.0 2728.5 L2308.0 2728.5 L2310.0 2728.6 L2312.0 2728.7 L2314.0 2728.7 L2316.0 2728.8 L2318.0 2728.8 L2320.0 2728.9 L2322.0 2728.9 L2324.0 2728.9 L2326.0 2728.9 L2328.0 2728.9 L2330.0 2728.9 L2332.0 2728.9" fill="none" stroke="#000" stroke-width="4.6" stroke-linecap="round" stroke-linejoin="round"/>
<path d="M1112.8 2413.7 L1114.0 2415.4 L1115.1 2417.1 L1116.2 2418.8 L1117.2 2420.5 L1118.2 2422.2 L1119.1 2424.0 L1120.0 2425.8 L1120.8 2427.6 L1121.6 2429.4 L1122.4 2431.2 L1123.1 2433.1 L1123.8 2434.9 L1124.4 2436.8 L1125.0 2438.7 L1125.6 2440.6 L1126.2 2442.5 L1126.7 2444.4 L1127.2 2446.4 L1127.7 2448.3 L1128.1 2450.3 L1128.6 2452.2 L1129.0 2454.2 L1129.4 2456.2 L1129.8 2458.1 L1130.2 2460.1 L1130.5 2462.1 L1130.9 2464.1 L1131.2 2466.1 L1131.5 2468.1 L1131.9 2470.1 L1132.2 2472.0 L1132.5 2474.0 L1132.8 2476.0 L1133.1 2478.0 L1133.5 2480.0 L1133.8 2482.0 L1134.1 2484.0 L1134.4 2486.0 L1134.7 2487.9 L1135.0 2489.9 L1135.3 2491.9 L1135.6 2493.9 L1135.9 2495.9 L1136.2 2497.8 L1136.5 2499.8 L1136.8 2501.8 L1137.1 2503.8 L1137.4 2505.8 L1137.6 2507.7 L1137.9 2509.7 L1138.2 2511.7 L1138.5 2513.7 L1138.8 2515.6 L1139.1 2517.6 L1139.4 2519.6 L1139.6 2521.6 L1139.9 2523.5 L1140.2 2525.5 L1140.5 2527.5 L1140.8 2529.5 L1141.0 2531.4 L1141.3 2533.4 L1141.6 2535.4 L1141.9 2537.3 L1142.2 2539.3 L1142.5 2541.3 L1142.7 2543.3 L1143.0 2545.2 L1143.3 2547.2 L1143.6 2549.2 L1143.9 2551.1 L1144.2 2553.1 L1144.5 2555.1 L1144.7 2557.1 L1145.0 2559.0 L1145.3 2561.0 L1145.6 2563.0 L1145.9 2564.9 L1146.2 2566.9 L1146.5 2568.9 L1146.8 2570.8 L1147.1 2572.8 L1147.4 2574.8 L1147.8 2576.7 L1148.1 2578.7 L1148.4 2580.7 L1148.7 2582.7 L1149.0 2584.6 L1149.4 2586.6 L1149.7 2588.6 L1150.0 2590.5 L1150.4 2592.5 L1150.7 2594.5 L1151.1 2596.4 L1151.4 2598.4 L1151.8 2600.3 L1152.1 2602.3 L1152.5 2604.3 L1152.8 2606.2 L1153.2 2608.2 L1153.6 2610.2 L1154.0 2612.1 L1154.4 2614.1 L1154.7 2616.1 L1155.1 2618.0 L1155.5 2620.0 L1156.0 2621.9 L1156.4 2623.9 L1156.8 2625.9 L1157.2 2627.8 L1157.6 2629.8 L1158.1 2631.7 L1158.5 2633.7 L1159.0 2635.7 L1159.4 2637.6 L1159.9 2639.6 L1160.4 2641.5 L1160.8 2643.5 L1161.3 2645.4 L1161.8 2647.4 L1162.3 2649.4 L1162.8 2651.3 L1163.3 2653.3 L1163.9 2655.2 L1164.4 2657.2 L1164.9 2659.1 L1165.5 2661.1 L1166.1 2663.0 L1166.7 2664.9 L1167.2 2666.9 L1167.9 2668.8 L1168.5 2670.7 L1169.1 2672.6 L1169.8 2674.5 L1170.5 2676.4 L1171.1 2678.3 L1171.9 2680.2 L1172.6 2682.0 L1173.3 2683.9 L1174.1 2685.7 L1174.9 2687.6 L1175.7 2689.4 L1176.6 2691.2 L1177.4 2693.0 L1178.3 2694.8 L1179.2 2696.6 L1180.2 2698.3 L1181.2 2700.0 L1182.1 2701.8 L1183.2 2703.5 L1184.2 2705.2 L1185.3 2706.8 L1186.4 2708.5 L1187.6 2710.1 L1188.8 2711.7 L1190.0 2713.3" fill="none" stroke="#000" stroke-width="5.5" stroke-linecap="round" stroke-linejoin="round"/>
<path d="M1120.8 2427.6 L1121.6 2429.4 L1122.4 2431.2 L1123.1 2433.1 L1123.8 2434.9 L1124.4 2436.8 L1125.0 2438.7 L1125.6 2440.6 L1126.2 2442.5 L1126.7 2444.4 L1127.2 2446.4 L1127.7 2448.3 L1128.1 2450.3 L1128.6 2452.2 L1129.0 2454.2 L1129.4 2456.2 L1129.8 2458.1 L1130.2 2460.1 L1130.5 2462.1 L1130.9 2464.1 L1131.2 2466.1 L1131.5 2468.1 L1131.9 2470.1 L1132.2 2472.0 L1132.5 2474.0 L1132.8 2476.0 L1133.1 2478.0 L1133.5 2480.0 L1133.8 2482.0 L1134.1 2484.0 L1134.4 2486.0 L1134.7 2487.9 L1135.0 2489.9 L1135.3 2491.9 L1135.6 2493.9 L1135.9 2495.9 L1136.2 2497.8 L1136.5 2499.8 L1136.8 2501.8 L1137.1 2503.8 L1137.4 2505.8 L1137.6 2507.7 L1137.9 2509.7 L1138.2 2511.7 L1138.5 2513.7 L1138.8 2515.6 L1139.1 2517.6 L1139.4 2519.6 L1139.6 2521.6 L1139.9 2523.5 L1140.2 2525.5 L1140.5 2527.5 L1140.8 2529.5 L1141.0 2531.4 L1141.3 2533.4 L1141.6 2535.4 L1141.9 2537.3 L1142.2 2539.3 L1142.5 2541.3 L1142.7 2543.3 L1143.0 2545.2 L1143.3 2547.2 L1143.6 2549.2 L1143.9 2551.1 L1144.2 2553.1 L1144.5 2555.1 L1144.7 2557.1 L1145.0 2559.0 L1145.3 2561.0 L1145.6 2563.0 L1145.9 2564.9 L1146.2 2566.9 L1146.5 2568.9 L1146.8 2570.8 L1147.1 2572.8 L1147.4 2574.8 L1147.8 2576.7 L1148.1 2578.7 L1148.4 2580.7 L1148.7 2582.7 L1149.0 2584.6 L1149.4 2586.6 L1149.7 2588.6 L1150.0 2590.5 L1150.4 2592.5 L1150.7 2594.5 L1151.1 2596.4 L1151.4 2598.4 L1151.8 2600.3 L1152.1 2602.3 L1152.5 2604.3 L1152.8 2606.2 L1153.2 2608.2 L1153.6 2610.2 L1154.0 2612.1 L1154.4 2614.1 L1154.7 2616.1 L1155.1 2618.0 L1155.5 2620.0 L1156.0 2621.9 L1156.4 2623.9 L1156.8 2625.9 L1157.2 2627.8 L1157.6 2629.8 L1158.1 2631.7 L1158.5 2633.7 L1159.0 2635.7 L1159.4 2637.6 L1159.9 2639.6 L1160.4 2641.5 L1160.8 2643.5 L1161.3 2645.4 L1161.8 2647.4 L1162.3 2649.4 L1162.8 2651.3 L1163.3 2653.3 L1163.9 2655.2 L1164.4 2657.2 L1164.9 2659.1 L1165.5 2661.1 L1166.1 2663.0 L1166.7 2664.9 L1167.2 2666.9 L1167.9 2668.8 L1168.5 2670.7 L1169.1 2672.6 L1169.8 2674.5 L1170.5 2676.4 L1171.1 2678.3 L1171.9 2680.2 L1172.6 2682.0 L1173.3 2683.9 L1174.1 2685.7 L1174.9 2687.6 L1175.7 2689.4" fill="none" stroke="#000" stroke-width="7.5" stroke-linecap="round" stroke-linejoin="round"/>
<path d="M188.2 2705.4 L190.2 2705.4 L192.2 2705.3 L194.2 2705.2 L196.2 2705.2 L198.3 2705.1 L200.3 2705.0 L202.3 2704.9 L204.3 2704.8 L206.3 2704.6 L208.3 2704.5 L210.3 2704.4 L212.3 2704.2 L214.3 2704.0 L216.2 2703.9 L218.2 2703.7 L220.2 2703.5 L222.2 2703.3 L224.2 2703.1 L226.2 2702.9 L228.2 2702.7 L230.2 2702.5 L232.2 2702.2 L234.1 2702.0 L236.1 2701.8 L238.1 2701.5 L240.1 2701.3 L242.1 2701.0 L244.0 2700.8 L246.0 2700.5 L248.0 2700.2 L250.0 2700.0 L252.0 2699.7 L253.9 2699.4 L255.9 2699.1 L257.9 2698.8 L259.9 2698.5 L261.8 2698.2 L263.8 2698.0 L265.8 2697.7 L267.8 2697.4 L269.7 2697.1 L271.7 2696.8 L273.7 2696.5 L275.7 2696.2 L277.6 2695.9 L279.6 2695.6 L281.6 2695.3 L283.6 2695.0 L285.5 2694.7 L287.5 2694.4 L289.5 2694.1 L291.5 2693.8 L293.4 2693.5 L295.4 2693.2 L297.4 2692.9 L299.4 2692.6 L301.4 2692.3 L303.3 2692.0 L305.3 2691.8 L307.3 2691.5 L309.3 2691.2 L311.3 2690.9 L313.2 2690.7 L315.2 2690.4 L317.2 2690.2 L319.2 2689.9 L321.2 2689.7 L323.2 2689.4 L325.2 2689.2 L327.2 2689.0 L329.2 2688.8 L331.1 2688.5 L333.1 2688.3 L335.1 2688.1 L337.1 2687.9 L339.1 2687.8 L341.1 2687.6 L343.1 2687.4 L345.1 2687.3 L347.1 2687.1 L349.1 2686.9 L351.1 2686.8 L353.2 2686.6 L355.2 2686.5 L357.2 2686.3 L359.2 2686.2 L361.2 2686.0 L363.2 2685.8 L365.2 2685.6 L367.2 2685.4 L369.1 2685.2 L371.1 2685.0 L373.1 2684.7 L375.1 2684.5 L377.1 2684.2 L379.0 2683.9 L381.0 2683.5 L383.0 2683.2 L384.9 2682.8 L386.9 2682.4 L388.8 2681.9 L390.8 2681.5 L392.7 2681.0 L394.6 2680.4 L396.5 2679.9 L398.5 2679.3 L400.4 2678.7 L402.3 2678.1 L404.2 2677.5 L406.1 2676.9 L408.0 2676.3 L410.0 2675.8 L411.9 2675.2 L413.8 2674.7 L415.8 2674.3 L417.7 2673.9 L419.7 2673.5 L421.6 2673.2 L423.6 2672.9 L425.6 2672.7 L427.6 2672.5 L429.6 2672.3 L431.6 2672.1 L433.6 2672.0 L435.6 2671.9 L437.6 2671.8 L439.6 2671.7 L441.6 2671.6 L443.6 2671.5 L445.6 2671.4 L447.6 2671.3 L449.6 2671.2 L451.6 2671.1 L453.6 2670.9 L455.6 2670.8 L457.6 2670.6 L459.6 2670.4 L461.6 2670.1 L463.6 2669.8 L465.5 2669.5 L467.5 2669.2 L469.5 2668.8 L471.4 2668.3 L473.3 2667.9 L475.3 2667.4 L477.2 2666.9 L479.2 2666.4 L481.1 2665.9 L483.0 2665.4 L485.0 2664.8 L486.9 2664.3 L488.8 2663.8 L490.8 2663.3 L492.7 2662.7 L494.6 2662.2 L496.6 2661.7 L498.5 2661.3 L500.5 2660.8 L502.4 2660.3 L504.4 2659.9 L506.3 2659.5 L508.3 2659.0 L510.2 2658.6 L512.2 2658.2 L514.2 2657.8 L516.1 2657.4 L518.1 2657.1 L520.1 2656.7 L522.0 2656.3 L524.0 2656.0 L526.0 2655.6 L527.9 2655.3 L529.9 2654.9 L531.9 2654.6 L533.9 2654.2 L535.8 2653.9 L537.8 2653.6 L539.8 2653.2 L541.8 2652.9 L543.7 2652.6 L545.7 2652.3 L547.7 2651.9 L549.7 2651.6 L551.6 2651.3 L553.6 2650.9 L555.6 2650.6 L557.6 2650.3 L559.5 2649.9 L561.5 2649.6 L563.5 2649.2 L565.4 2648.9 L567.4 2648.5 L569.4 2648.1 L571.3 2647.8 L573.3 2647.4 L575.3 2647.0 L577.2 2646.6 L579.2 2646.2 L581.1 2645.8 L583.1 2645.3 L585.0 2644.9 L587.0 2644.5 L588.9 2644.0 L590.8 2643.5 L592.8 2643.0 L594.7 2642.5 L596.6 2642.0 L598.5 2641.5 L600.5 2641.0 L602.4 2640.4 L604.3 2639.9 L606.2 2639.3 L608.1 2638.7 L610.0 2638.1 L611.9 2637.6 L613.9 2637.0 L615.8 2636.4 L617.7 2635.8 L619.6 2635.3 L621.5 2634.7 L623.4 2634.1 L625.3 2633.6 L627.2 2633.0 L629.2 2632.5 L631.1 2631.9 L633.0 2631.4 L634.9 2630.9 L636.9 2630.4 L638.8 2629.9 L640.7 2629.4 L642.7 2628.9 L644.6 2628.5 L646.6 2628.0 L648.5 2627.5 L650.5 2627.1 L652.4 2626.7 L654.4 2626.2 L656.3 2625.8 L658.3 2625.4 L660.2 2625.0 L662.2 2624.6 L664.2 2624.2 L666.1 2623.8 L668.1 2623.5 L670.1 2623.1 L672.0 2622.7 L674.0 2622.3 L676.0 2622.0 L677.9 2621.6 L679.9 2621.3 L681.9 2620.9 L683.8 2620.6 L685.8 2620.3 L687.8 2619.9 L689.8 2619.6 L691.7 2619.3 L693.7 2618.9 L695.7 2618.6 L697.7 2618.3 L699.7 2618.0 L701.6 2617.6 L703.6 2617.3 L705.6 2617.0 L707.6 2616.7 L709.6 2616.4 L711.5 2616.1 L713.5 2615.7 L715.5 2615.4 L717.5 2615.1 L719.4 2614.8 L721.4 2614.5 L723.4 2614.2 L725.4 2613.8 L727.4 2613.5 L729.3 2613.2 L731.3 2612.9 L733.3 2612.5 L735.2 2612.2 L737.2 2611.9 L739.2 2611.5 L741.2 2611.2 L743.1 2610.9 L745.1 2610.5 L747.1 2610.2 L749.0 2609.9 L751.0 2609.5 L753.0 2609.2 L754.9 2608.8 L756.9 2608.5 L758.9 2608.2 L760.8 2607.8 L762.8 2607.5 L764.8 2607.2 L766.7 2606.8 L768.7 2606.5 L770.7 2606.1 L772.6 2605.8 L774.6 2605.5 L776.6 2605.1 L778.6 2604.8 L780.5 2604.5 L782.5 2604.1 L784.5 2603.8 L786.4 2603.5 L788.4 2603.1 L790.4 2602.8 L792.3 2602.5 L794.3 2602.2 L796.3 2601.9 L798.3 2601.5 L800.2 2601.2 L802.2 2600.9 L804.2 2600.6 L806.1 2600.3 L808.1 2600.0 L810.1 2599.7 L812.1 2599.4 L814.1 2599.1 L816.0 2598.8 L818.0 2598.5 L820.0 2598.1 L821.9 2597.8 L823.9 2597.4 L825.9 2597.0 L827.8 2596.7 L829.8 2596.2 L831.7 2595.8 L833.7 2595.3 L835.6 2594.8 L837.5 2594.3 L839.4 2593.7 L841.4 2593.1 L843.3 2592.5 L845.2 2591.8 L847.0 2591.1 L848.9 2590.4 L850.8 2589.6 L852.7 2588.8 L854.5 2588.1 L856.4 2587.3 L858.3 2586.5 L860.1 2585.6 L862.0 2584.8 L863.9 2584.0 L865.7 2583.3 L867.6 2582.5 L869.5 2581.8 L871.4 2581.0 L873.2 2580.4 L875.1 2579.7 L877.0 2579.1 L878.9 2578.6 L880.9 2578.0 L882.8 2577.6 L884.7 2577.2 L886.7 2576.9 L888.6 2576.6 L890.6 2576.4 L892.6 2576.3 L894.6 2576.2 L896.6 2576.1 L898.6 2576.1 L900.6 2576.1 L902.6 2576.1 L904.6 2576.1 L906.6 2576.0 L908.6 2576.0 L910.6 2575.9 L912.6 2575.7 L914.6 2575.5 L916.6 2575.2 L918.5 2574.9 L920.5 2574.5 L922.4 2574.0 L924.3 2573.5 L926.3 2573.0 L928.2 2572.5 L930.1 2571.9 L932.0 2571.3 L933.9 2570.7 L935.9 2570.1 L937.8 2569.4 L939.7 2568.8 L941.6 2568.2 L943.5 2567.6 L945.5 2567.0 L947.4 2566.4 L949.3 2565.9 L951.3 2565.4 L953.2 2564.9 L955.2 2564.5 L957.2 2564.1 L959.1 2563.7 L961.1 2563.2 L963.1 2562.8 L965.0 2562.4 L967.0 2562.0 L968.9 2561.6 L970.9 2561.1 L972.8 2560.6 L974.8 2560.1 L976.7 2559.6 L978.6 2559.0 L980.5 2558.4 L982.3 2557.7 L984.2 2557.0 L986.0 2556.2 L987.8 2555.3 L989.6 2554.4 L991.4 2553.4 L993.1 2552.4 L994.9 2551.3 L996.5 2550.2 L998.2 2549.1 L999.8 2547.9 L1001.4 2546.7 L1003.0 2545.5 L1004.6 2544.2 L1006.1 2542.9 L1007.6 2541.6 L1009.1 2540.3 L1010.6 2539.0 L1012.0 2537.7 L1013.5 2536.3 L1014.9 2535.0 L1016.4 2533.6 L1017.8 2532.2 L1019.3 2530.9 L1020.7 2529.5 L1022.2 2528.2 L1023.7 2526.8 L1025.2 2525.5 L1026.7 2524.2 L1028.2 2522.9 L1029.7 2521.6 L1031.3 2520.3 L1032.9 2519.1 L1034.5 2517.9 L1036.1 2516.7 L1037.7 2515.5 L1039.4 2514.4 L1041.0 2513.2 L1042.7 2512.1 L1044.4 2511.1 L1046.2 2510.0 L1047.9 2509.0 L1049.7 2508.1 L1051.4 2507.1 L1053.2 2506.2 L1055.0 2505.4 L1056.8 2504.6 L1058.6 2503.8 L1060.5 2503.1 L1062.3 2502.4 L1064.2 2501.7 L1066.0 2501.1 L1067.9 2500.5 L1069.8 2500.0 L1071.7 2499.4 L1073.6 2498.9 L1075.5 2498.4 L1077.4 2498.0 L1079.4 2497.5 L1081.3 2497.0 L1083.2 2496.5 L1085.1 2496.1 L1087.1 2495.5 L1089.0 2495.0 L1090.9 2494.5 L1092.9 2494.0 L1094.8 2493.5 L1096.7 2493.0 L1098.7 2492.5 L1100.6 2492.1 L1102.6 2491.8 L1104.5 2491.4 L1106.5 2491.1 L1108.4 2490.7 L1110.3 2490.2 L1112.1 2489.6 L1113.9 2488.9 L1115.7 2488.1 L1117.4 2487.2 L1119.2 2486.4 L1121.0 2485.5 L1122.8 2484.7 L1124.7 2484.1 L1126.6 2483.5 L1128.5 2482.9 L1130.5 2482.5 L1132.5 2482.1 L1134.5 2481.8 L1136.5 2481.6 L1138.6 2481.4 L1140.6 2481.1 L1142.5 2480.8 L1144.4 2480.4 L1146.3 2479.8 L1148.0 2479.1 L1149.6 2478.2 L1151.2 2477.1 L1152.6 2475.8 L1154.0 2474.4 L1155.3 2473.0 L1156.6 2471.4 L1157.8 2469.8 L1159.0 2468.2 L1160.2 2466.5 L1161.4 2464.8 L1162.6 2463.1 L1163.8 2461.4 L1164.9 2459.7 L1166.1 2458.0 L1167.3 2456.3 L1168.5 2454.6 L1169.7 2452.9 L1171.0 2451.3 L1172.3 2449.8 L1173.6 2448.3 L1174.9 2446.8 L1176.4 2445.5 L1177.8 2444.2 L1179.4 2443.0 L1181.0 2442.0 L1182.6 2441.0 L1184.4 2440.1 L1186.2 2439.3 L1188.0 2438.6 L1189.9 2438.0 L1191.8 2437.3 L1193.7 2436.7 L1195.6 2436.1 L1197.5 2435.4 L1199.4 2434.8 L1201.2 2434.0 L1203.0 2433.2 L1204.8 2432.4 L1206.5 2431.4 L1208.2 2430.4 L1209.7 2429.2 L1211.3 2428.0 L1212.7 2426.7 L1214.1 2425.4 L1215.5 2423.9 L1216.8 2422.4 L1218.1 2420.8 L1219.3 2419.2 L1220.6 2417.6 L1221.7 2415.9 L1222.9 2414.2 L1224.1 2412.5 L1225.2 2410.8 L1226.3 2409.0 L1227.5 2407.3 L1228.6 2405.6 L1229.7 2403.8 L1230.9 2402.1 L1232.0 2400.5 L1233.2 2398.8 L1234.3 2397.1 L1235.5 2395.5 L1236.7 2393.8 L1237.8 2392.2 L1239.0 2390.6 L1240.2 2389.0 L1241.4 2387.4 L1242.6 2385.8 L1243.7 2384.2 L1244.9 2382.6 L1246.1 2381.0 L1247.3 2379.4 L1248.5 2377.9 L1249.7 2376.3 L1250.9 2374.7 L1252.0 2373.1 L1253.2 2371.5 L1254.4 2370.0 L1255.6 2368.4 L1256.7 2366.8 L1257.9 2365.2 L1259.0 2363.6 L1260.2 2361.9 L1261.3 2360.3 L1262.5 2358.7 L1263.6 2357.1 L1264.8 2355.4 L1265.9 2353.8 L1267.0 2352.2 L1268.1 2350.5 L1269.3 2348.9 L1270.4 2347.2 L1271.5 2345.5 L1272.6 2343.9 L1273.7 2342.2 L1274.8 2340.5 L1275.9 2338.8 L1277.0 2337.1 L1278.1 2335.5 L1279.1 2333.8 L1280.2 2332.1 L1281.3 2330.4 L1282.4 2328.7 L1283.4 2327.0 L1284.5 2325.2 L1285.6 2323.5 L1286.6 2321.8 L1287.7 2320.1 L1288.7 2318.4 L1289.7 2316.6 L1290.8 2314.9 L1291.8 2313.2 L1292.8 2311.5 L1293.9 2309.7 L1294.9 2308.0 L1295.9 2306.2 L1296.9 2304.5 L1297.9 2302.8 L1299.0 2301.0 L1300.0 2299.3 L1301.0 2297.5 L1302.0 2295.8 L1303.0 2294.0 L1303.9 2292.3 L1304.9 2290.5 L1305.9 2288.8 L1306.9 2287.0 L1307.9 2285.2 L1308.8 2283.5 L1309.8 2281.7 L1310.8 2280.0 L1311.7 2278.2 L1312.7 2276.5 L1313.7 2274.7 L1314.6 2272.9 L1315.6 2271.2 L1316.5 2269.4 L1317.5 2267.7 L1318.4 2265.9 L1319.3 2264.2 L1320.3 2262.4 L1321.2 2260.6 L1322.1 2258.9 L1323.1 2257.1 L1324.0 2255.4 L1324.9 2253.6 L1325.8 2251.9 L1326.8 2250.1 L1327.7 2248.3 L1328.6 2246.6 L1329.5 2244.8 L1330.4 2243.1 L1331.4 2241.3 L1332.3 2239.6 L1333.2 2237.8 L1334.1 2236.1 L1335.0 2234.3 L1335.9 2232.5 L1336.9 2230.8 L1337.8 2229.0 L1338.7 2227.3 L1339.6 2225.5 L1340.5 2223.8 L1341.4 2222.0 L1342.4 2220.3 L1343.3 2218.5 L1344.2 2216.7 L1345.1 2215.0 L1346.0 2213.2 L1347.0 2211.5 L1347.9 2209.7 L1348.8 2208.0 L1349.8 2206.2 L1350.7 2204.5 L1351.6 2202.7 L1352.6 2201.0 L1353.5 2199.2 L1354.5 2197.5 L1355.4 2195.7 L1356.4 2194.0 L1357.3 2192.2 L1358.3 2190.4 L1359.2 2188.7 L1360.2 2186.9 L1361.2 2185.2 L1362.1 2183.4 L1363.1 2181.7 L1364.1 2179.9 L1365.1 2178.2 L1366.1 2176.4 L1367.0 2174.7 L1368.0 2172.9 L1369.0 2171.2 L1370.1 2169.4 L1371.1 2167.7 L1372.1 2165.9 L1373.1 2164.2 L1374.1 2162.4 L1375.2 2160.7 L1376.2 2158.9 L1377.3 2157.2 L1378.3 2155.4 L1379.4 2153.7 L1380.4 2151.9 L1381.5 2150.2 L1382.6 2148.4 L1383.7 2146.7 L1384.8 2144.9 L1385.9 2143.2 L1387.0 2141.4 L1388.1 2139.7 L1389.2 2137.9 L1390.4 2136.2 L1391.5 2134.4 L1392.7 2132.7 L1393.8 2131.1 L1395.0 2129.4 L1396.3 2127.8 L1397.5 2126.3 L1398.8 2124.8 L1400.2 2123.4 L1401.6 2122.1 L1403.0 2120.9 L1404.5 2119.8 L1406.0 2118.8 L1407.6 2118.0 L1409.3 2117.2 L1411.0 2116.6 L1412.8 2116.2 L1414.7 2115.9 L1416.6 2115.8 L1418.6 2115.9 L1420.7 2116.1 L1422.8 2116.6 L1424.9 2117.2 L1427.0 2118.0 L1428.9 2118.9 L1430.7 2120.1 L1432.3 2121.3 L1433.6 2122.8 L1434.8 2124.4 L1435.8 2126.1 L1436.7 2127.9 L1437.5 2129.8 L1438.2 2131.8 L1438.8 2133.8 L1439.3 2135.9 L1439.8 2137.9 L1440.3 2139.9 L1440.9 2142.0 L1441.4 2144.0 L1441.9 2146.0 L1442.4 2147.9 L1442.9 2149.9 L1443.4 2151.8 L1443.9 2153.8 L1444.4 2155.7 L1444.9 2157.6 L1445.4 2159.6 L1445.9 2161.5 L1446.4 2163.4 L1446.9 2165.3 L1447.3 2167.2 L1447.8 2169.1 L1448.2 2171.0 L1448.7 2172.9 L1449.1 2174.9 L1449.5 2176.8 L1449.9 2178.7 L1450.3 2180.7 L1450.6 2182.6 L1451.0 2184.5 L1451.3 2186.5 L1451.6 2188.5 L1452.0 2190.4 L1452.3 2192.4 L1452.6 2194.4 L1452.9 2196.3 L1453.2 2198.3 L1453.4 2200.3 L1453.7 2202.3 L1454.0 2204.3 L1454.2 2206.2 L1454.5 2208.2 L1454.8 2210.2 L1455.0 2212.2 L1455.3 2214.2 L1455.5 2216.2 L1455.8 2218.2 L1456.0 2220.2 L1456.2 2222.2 L1456.5 2224.2 L1456.7 2226.2 L1457.0 2228.1 L1457.2 2230.1 L1457.5 2232.1 L1457.7 2234.1 L1458.0 2236.1 L1458.2 2238.1 L1458.5 2240.1 L1458.7 2242.1 L1459.0 2244.1 L1459.2 2246.1 L1459.5 2248.1 L1459.7 2250.0 L1460.0 2252.0 L1460.2 2254.0 L1460.5 2256.0 L1460.7 2258.0 L1461.0 2260.0 L1461.2 2262.0 L1461.5 2264.0 L1461.7 2265.9 L1462.0 2267.9 L1462.2 2269.9 L1462.5 2271.9 L1462.7 2273.9 L1463.0 2275.9 L1463.3 2277.9 L1463.5 2279.8 L1463.8 2281.8 L1464.0 2283.8 L1464.3 2285.8 L1464.5 2287.8 L1464.8 2289.8 L1465.0 2291.8 L1465.3 2293.7 L1465.5 2295.7 L1465.8 2297.7 L1466.0 2299.7 L1466.3 2301.7 L1466.5 2303.7 L1466.8 2305.7 L1467.0 2307.6 L1467.3 2309.6 L1467.5 2311.6 L1467.8 2313.6 L1468.0 2315.6 L1468.3 2317.6 L1468.5 2319.5 L1468.8 2321.5 L1469.0 2323.5 L1469.3 2325.5 L1469.5 2327.5 L1469.8 2329.5 L1470.0 2331.4 L1470.3 2333.4 L1470.5 2335.4 L1470.8 2337.4 L1471.0 2339.4 L1471.3 2341.4 L1471.5 2343.4 L1471.8 2345.3 L1472.0 2347.3 L1472.3 2349.3 L1472.5 2351.3 L1472.8 2353.3 L1473.0 2355.3 L1473.3 2357.2 L1473.5 2359.2 L1473.8 2361.2 L1474.0 2363.2 L1474.3 2365.2 L1474.5 2367.2 L1474.8 2369.1 L1475.0 2371.1 L1475.3 2373.1 L1475.5 2375.1 L1475.8 2377.1 L1476.0 2379.0 L1476.3 2381.0 L1476.5 2383.0 L1476.8 2385.0 L1477.1 2387.0 L1477.3 2389.0 L1477.6 2390.9 L1477.8 2392.9 L1478.1 2394.9 L1478.3 2396.9 L1478.6 2398.9 L1478.9 2400.9 L1479.1 2402.8 L1479.4 2404.8 L1479.6 2406.8 L1479.9 2408.8 L1480.2 2410.8 L1480.4 2412.7 L1480.7 2414.7 L1481.0 2416.7 L1481.2 2418.7 L1481.5 2420.7 L1481.8 2422.6 L1482.0 2424.6 L1482.3 2426.6 L1482.6 2428.6 L1482.9 2430.6 L1483.1 2432.5 L1483.4 2434.5 L1483.7 2436.5 L1484.0 2438.5 L1484.2 2440.4 L1484.5 2442.4 L1484.8 2444.4 L1485.1 2446.4 L1485.4 2448.4 L1485.7 2450.3 L1486.0 2452.3 L1486.2 2454.3 L1486.5 2456.3 L1486.8 2458.2 L1487.1 2460.2 L1487.4 2462.2 L1487.7 2464.2 L1488.0 2466.1 L1488.3 2468.1 L1488.6 2470.1 L1488.9 2472.1 L1489.2 2474.0 L1489.6 2476.0 L1489.9 2478.0 L1490.2 2480.0 L1490.5 2481.9 L1490.8 2483.9 L1491.1 2485.9 L1491.5 2487.9 L1491.8 2489.8 L1492.1 2491.8 L1492.4 2493.8 L1492.8 2495.7 L1493.1 2497.7 L1493.4 2499.7 L1493.8 2501.7 L1494.1 2503.6 L1494.4 2505.6 L1494.8 2507.6 L1495.1 2509.5 L1495.5 2511.5 L1495.8 2513.5 L1496.2 2515.4 L1496.5 2517.4 L1496.9 2519.4 L1497.3 2521.3 L1497.6 2523.3 L1498.0 2525.3 L1498.4 2527.2 L1498.7 2529.2 L1499.1 2531.2 L1499.5 2533.1 L1499.9 2535.1 L1500.2 2537.1 L1500.6 2539.0 L1501.0 2541.0 L1501.4 2543.0 L1501.8 2544.9 L1502.2 2546.9 L1502.6 2548.8 L1503.0 2550.8 L1503.4 2552.8 L1503.8 2554.7 L1504.2 2556.7 L1504.6 2558.6 L1505.0 2560.6 L1505.5 2562.6 L1505.9 2564.5 L1506.3 2566.5 L1506.8 2568.4 L1507.2 2570.4 L1507.6 2572.4 L1508.1 2574.3 L1508.5 2576.3 L1509.0 2578.2 L1509.4 2580.2 L1509.9 2582.1 L1510.3 2584.1 L1510.8 2586.0 L1511.2 2588.0 L1511.7 2590.0 L1512.2 2591.9 L1512.7 2593.9 L1513.1 2595.8 L1513.6 2597.8 L1514.1 2599.7 L1514.6 2601.6 L1515.1 2603.6 L1515.6 2605.5 L1516.1 2607.5 L1516.7 2609.4 L1517.2 2611.4 L1517.7 2613.3 L1518.2 2615.2 L1518.8 2617.2 L1519.3 2619.1 L1519.9 2621.0 L1520.5 2622.9 L1521.0 2624.9 L1521.6 2626.8 L1522.2 2628.7 L1522.8 2630.6 L1523.4 2632.5 L1524.0 2634.4 L1524.6 2636.3 L1525.2 2638.2 L1525.8 2640.1 L1526.5 2642.0 L1527.1 2643.9 L1527.8 2645.8 L1528.4 2647.7 L1529.1 2649.5 L1529.8 2651.4 L1530.5 2653.3 L1531.2 2655.1 L1531.9 2657.0 L1532.6 2658.9 L1533.4 2660.7 L1534.1 2662.6 L1534.9 2664.4 L1535.6 2666.2 L1536.4 2668.1 L1537.2 2669.9 L1538.0 2671.7 L1538.8 2673.5 L1539.6 2675.3 L1540.4 2677.2 L1541.3 2679.0 L1542.1 2680.7 L1543.0 2682.5 L1543.9 2684.3 L1544.7 2686.1 L1545.6 2687.9 L1546.6 2689.6 L1547.5 2691.4 L1548.4 2693.1 L1549.4 2694.9 L1550.3 2696.6 L1551.3 2698.4 L1552.3 2700.1 L1553.3 2701.8 L1554.3 2703.5 L1555.4 2705.2 L1556.4 2707.0 L1557.4 2708.7 L1558.5 2710.4 L1559.5 2712.1 L1560.6 2713.8 L1561.7 2715.5 L1562.8 2717.3 L1563.8 2719.0 L1564.9 2720.7 L1566.0 2722.4 L1567.2 2724.1 L1568.3 2725.9 L1569.4 2727.5 L1570.6 2729.2 L1571.8 2730.9 L1573.0 2732.5 L1574.2 2734.1 L1575.4 2735.7 L1576.7 2737.3 L1578.0 2738.8 L1579.3 2740.3 L1580.7 2741.8 L1582.1 2743.2 L1583.5 2744.5 L1585.0 2745.8 L1586.5 2747.1 L1588.0 2748.4 L1589.6 2749.6 L1591.2 2750.7 L1592.8 2751.9 L1594.4 2752.9 L1596.1 2754.0 L1597.8 2755.0 L1599.5 2756.0 L1601.2 2756.9 L1603.0 2757.8 L1604.7 2758.7 L1606.5 2759.5 L1608.4 2760.3 L1610.2 2761.1 L1612.0 2761.9 L1613.9 2762.6 L1615.8 2763.3 L1617.7 2763.9 L1619.6 2764.6 L1621.5 2765.2 L1623.5 2765.7 L1625.4 2766.3 L1627.4 2766.8 L1629.3 2767.3 L1631.3 2767.8 L1633.3 2768.2 L1635.3 2768.7 L1637.3 2769.1 L1639.2 2769.5 L1641.2 2769.8 L1643.2 2770.2 L1645.2 2770.5 L1647.2 2770.8 L1649.2 2771.1 L1651.2 2771.4 L1653.2 2771.6 L1655.2 2771.8 L1657.2 2772.1 L1659.2 2772.3 L1661.2 2772.5 L1663.2 2772.6 L1665.2 2772.8 L1667.2 2773.0 L1669.2 2773.1 L1671.2 2773.2 L1673.2 2773.3 L1675.1 2773.4 L1677.1 2773.5 L1679.1 2773.6 L1681.1 2773.6 L1683.1 2773.7 L1685.1 2773.7 L1687.1 2773.8 L1689.1 2773.8 L1691.0 2773.8 L1693.0 2773.8 L1695.0 2773.8 L1697.0 2773.8 L1699.0 2773.8 L1701.0 2773.8 L1703.0 2773.8 L1705.0 2773.7 L1706.9 2773.7 L1708.9 2773.7 L1710.9 2773.6 L1712.9 2773.6 L1714.9 2773.5 L1716.9 2773.5 L1718.9 2773.4 L1720.9 2773.4 L1722.9 2773.3 L1724.9 2773.2 L1726.9 2773.2 L1728.9 2773.1 L1730.9 2773.1 L1732.9 2773.0 L1734.9 2772.9 L1736.9 2772.9 L1738.9 2772.8 L1740.9 2772.7 L1742.9 2772.7 L1744.9 2772.6 L1746.9 2772.5 L1748.9 2772.4 L1750.9 2772.3 L1752.9 2772.2 L1754.9 2772.1 L1756.9 2772.0 L1758.9 2771.9 L1760.9 2771.8 L1762.9 2771.7 L1764.9 2771.5 L1766.9 2771.3 L1768.9 2771.2 L1770.9 2771.0 L1772.9 2770.8 L1774.9 2770.6 L1776.9 2770.4 L1778.9 2770.1 L1780.8 2769.9 L1782.8 2769.6 L1784.8 2769.3 L1786.8 2769.0 L1788.8 2768.7 L1790.7 2768.3 L1792.7 2768.0 L1794.7 2767.6 L1796.7 2767.2 L1798.6 2766.8 L1800.6 2766.4 L1802.5 2765.9 L1804.5 2765.5 L1806.5 2765.1 L1808.4 2764.6 L1810.4 2764.1 L1812.3 2763.7 L1814.3 2763.2 L1816.2 2762.8 L1818.2 2762.3 L1820.2 2761.9 L1822.1 2761.4 L1824.1 2761.0 L1826.0 2760.5 L1828.0 2760.1 L1829.9 2759.7 L1831.9 2759.3 L1833.9 2759.0 L1835.8 2758.6 L1837.8 2758.3 L1839.7 2758.0 L1841.7 2757.7 L1843.7 2757.5 L1845.7 2757.2 L1847.6 2757.0 L1849.6 2756.9 L1851.6 2756.7 L1853.6 2756.6 L1855.6 2756.5 L1857.6 2756.5 L1859.5 2756.5 L1861.5 2756.6 L1863.5 2756.7 L1865.6 2756.8 L1867.6 2756.9 L1869.6 2757.1 L1871.6 2757.2 L1873.6 2757.3 L1875.6 2757.4 L1877.6 2757.5 L1879.6 2757.5 L1881.6 2757.4 L1883.6 2757.3 L1885.5 2757.1 L1887.5 2756.9 L1889.5 2756.6 L1891.5 2756.3 L1893.5 2756.0 L1895.4 2755.6 L1897.4 2755.3 L1899.4 2754.9 L1901.3 2754.5 L1903.3 2754.2 L1905.3 2753.8 L1907.2 2753.5 L1909.2 2753.1 L1911.2 2752.9 L1913.1 2752.6 L1915.1 2752.4 L1917.1 2752.2 L1919.1 2752.1 L1921.1 2752.0 L1923.1 2752.0 L1925.1 2751.9 L1927.1 2752.0 L1929.1 2752.0 L1931.1 2752.1 L1933.1 2752.2 L1935.1 2752.3 L1937.1 2752.4 L1939.1 2752.5 L1941.1 2752.7 L1943.1 2752.8 L1945.1 2752.9 L1947.1 2753.0 L1949.1 2753.2 L1951.1 2753.3 L1953.1 2753.3 L1955.1 2753.4 L1957.1 2753.4 L1959.1 2753.4 L1961.1 2753.4 L1963.1 2753.4 L1965.1 2753.3 L1967.1 2753.1 L1969.1 2753.0 L1971.1 2752.8 L1973.0 2752.5 L1975.0 2752.3 L1977.0 2752.0 L1979.0 2751.7 L1981.0 2751.4 L1982.9 2751.1 L1984.9 2750.7 L1986.9 2750.4 L1988.9 2750.0 L1990.8 2749.7 L1992.8 2749.3 L1994.8 2748.9 L1996.8 2748.6 L1998.7 2748.2 L2000.7 2747.9 L2002.7 2747.5 L2004.7 2747.2 L2006.6 2746.9 L2008.6 2746.5 L2010.6 2746.3 L2012.6 2746.0 L2014.6 2745.8 L2016.5 2745.6 L2018.5 2745.4 L2020.5 2745.2 L2022.5 2745.1 L2024.5 2745.0 L2026.5 2744.9 L2028.5 2744.9 L2030.5 2744.8 L2032.5 2744.8 L2034.5 2744.8 L2036.5 2744.8 L2038.5 2744.9 L2040.5 2745.0 L2042.5 2745.0 L2044.5 2745.1 L2046.5 2745.2 L2048.5 2745.3 L2050.5 2745.5 L2052.5 2745.6 L2054.5 2745.8 L2056.5 2745.9 L2058.5 2746.1 L2060.5 2746.2 L2062.5 2746.4 L2064.5 2746.6 L2066.5 2746.8 L2068.5 2746.9 L2070.5 2747.1 L2072.5 2747.3 L2074.5 2747.5 L2076.5 2747.6 L2078.5 2747.8 L2080.5 2748.0 L2082.5 2748.1 L2084.5 2748.3 L2086.5 2748.5 L2088.5 2748.6 L2090.5 2748.8 L2092.5 2748.9 L2094.5 2749.1 L2096.5 2749.3 L2098.5 2749.4 L2100.5 2749.6 L2102.5 2749.7 L2104.4 2749.9 L2106.4 2750.0 L2108.4 2750.1 L2110.4 2750.3 L2112.4 2750.4 L2114.4 2750.6 L2116.4 2750.7 L2118.4 2750.8 L2120.4 2751.0 L2122.4 2751.1 L2124.4 2751.2 L2126.4 2751.4 L2128.4 2751.5 L2130.4 2751.6 L2132.4 2751.7 L2134.4 2751.9 L2136.4 2752.0 L2138.4 2752.1 L2140.3 2752.2 L2142.3 2752.3 L2144.3 2752.4 L2146.3 2752.5 L2148.3 2752.6 L2150.3 2752.8 L2152.3 2752.9 L2154.3 2753.0 L2156.3 2753.1 L2158.3 2753.2 L2160.3 2753.3 L2162.3 2753.4 L2164.3 2753.5 L2166.3 2753.5 L2168.3 2753.6 L2170.3 2753.7 L2172.3 2753.8 L2174.3 2753.9 L2176.3 2754.0 L2178.3 2754.1 L2180.3 2754.1 L2182.3 2754.2 L2184.3 2754.3 L2186.3 2754.4 L2188.3 2754.4 L2190.3 2754.5 L2192.3 2754.6 L2194.3 2754.6 L2196.2 2754.7 L2198.2 2754.8 L2200.2 2754.8 L2202.2 2754.9 L2204.2 2754.9 L2206.2 2755.0 L2208.2 2755.1 L2210.2 2755.1 L2212.3 2755.2 L2214.3 2755.2 L2216.3 2755.2 L2218.3 2755.3 L2220.2 2755.3 L2222.2 2755.4 L2224.2 2755.4 L2226.2 2755.4 L2228.2 2755.5 L2230.2 2755.5 L2232.2 2755.5 L2234.2 2755.6 L2236.2 2755.6 L2238.2 2755.6 L2240.2 2755.6 L2242.2 2755.6 L2244.2 2755.7 L2246.2 2755.7 L2248.2 2755.7 L2250.2 2755.7 L2252.2 2755.7 L2254.2 2755.7 L2256.2 2755.7 L2258.2 2755.7 L2260.2 2755.7 L2262.2 2755.7 L2264.2 2755.7 L2266.2 2755.7 L2268.2 2755.7 L2270.1 2755.7 L2272.1 2755.7 L2274.1 2755.7 L2276.1 2755.7 L2278.1 2755.7 L2280.1 2755.7 L2282.1 2755.8 L2284.1 2755.8 L2286.1 2755.8 L2288.1 2755.9 L2290.1 2756.0 L2292.1 2756.0 L2294.1 2756.1 L2296.1 2756.2 L2298.0 2756.3 L2300.0 2756.4 L2302.0 2756.5 L2304.0 2756.6 L2306.0 2756.7 L2308.0 2756.7 L2310.0 2756.8 L2312.0 2756.8 L2314.0 2756.9 L2316.0 2756.9 L2318.0 2756.9 L2320.0 2756.8 L2322.0 2756.8 L2324.0 2756.7 L2326.0 2756.6 L2328.0 2756.4 L2330.0 2756.2 L2332.0 2756.0" fill="none" stroke="#f00" stroke-width="4.0" stroke-linecap="round" stroke-linejoin="round"/>
<path d="M1154.0 2474.4 L1155.3 2473.0 L1156.6 2471.4 L1157.8 2469.8 L1159.0 2468.2 L1160.2 2466.5 L1161.4 2464.8 L1162.6 2463.1 L1163.8 2461.4 L1164.9 2459.7 L1166.1 2458.0 L1167.3 2456.3 L1168.5 2454.6 L1169.7 2452.9 L1171.0 2451.3 L1172.3 2449.8 L1173.6 2448.3 L1174.9 2446.8" fill="none" stroke="#f00" stroke-width="6.0" stroke-linecap="round" stroke-linejoin="round"/>
<path d="M1215.5 2423.9 L1216.8 2422.4 L1218.1 2420.8 L1219.3 2419.2 L1220.6 2417.6 L1221.7 2415.9 L1222.9 2414.2 L1224.1 2412.5 L1225.2 2410.8 L1226.3 2409.0 L1227.5 2407.3 L1228.6 2405.6 L1229.7 2403.8 L1230.9 2402.1 L1232.0 2400.5 L1233.2 2398.8 L1234.3 2397.1 L1235.5 2395.5 L1236.7 2393.8 L1237.8 2392.2 L1239.0 2390.6 L1240.2 2389.0 L1241.4 2387.4 L1242.6 2385.8 L1243.7 2384.2 L1244.9 2382.6 L1246.1 2381.0 L1247.3 2379.4 L1248.5 2377.9 L1249.7 2376.3 L1250.9 2374.7 L1252.0 2373.1 L1253.2 2371.5 L1254.4 2370.0 L1255.6 2368.4 L1256.7 2366.8 L1257.9 2365.2 L1259.0 2363.6 L1260.2 2361.9 L1261.3 2360.3 L1262.5 2358.7 L1263.6 2357.1 L1264.8 2355.4 L1265.9 2353.8 L1267.0 2352.2 L1268.1 2350.5 L1269.3 2348.9 L1270.4 2347.2 L1271.5 2345.5 L1272.6 2343.9 L1273.7 2342.2 L1274.8 2340.5 L1275.9 2338.8 L1277.0 2337.1 L1278.1 2335.5 L1279.1 2333.8 L1280.2 2332.1 L1281.3 2330.4 L1282.4 2328.7 L1283.4 2327.0 L1284.5 2325.2 L1285.6 2323.5 L1286.6 2321.8 L1287.7 2320.1 L1288.7 2318.4 L1289.7 2316.6 L1290.8 2314.9 L1291.8 2313.2 L1292.8 2311.5 L1293.9 2309.7 L1294.9 2308.0 L1295.9 2306.2 L1296.9 2304.5 L1297.9 2302.8 L1299.0 2301.0 L1300.0 2299.3 L1301.0 2297.5 L1302.0 2295.8 L1303.0 2294.0 L1303.9 2292.3 L1304.9 2290.5 L1305.9 2288.8 L1306.9 2287.0 L1307.9 2285.2 L1308.8 2283.5 L1309.8 2281.7 L1310.8 2280.0 L1311.7 2278.2 L1312.7 2276.5 L1313.7 2274.7 L1314.6 2272.9 L1315.6 2271.2 L1316.5 2269.4 L1317.5 2267.7 L1318.4 2265.9 L1319.3 2264.2 L1320.3 2262.4 L1321.2 2260.6 L1322.1 2258.9 L1323.1 2257.1 L1324.0 2255.4 L1324.9 2253.6 L1325.8 2251.9 L1326.8 2250.1 L1327.7 2248.3 L1328.6 2246.6 L1329.5 2244.8 L1330.4 2243.1 L1331.4 2241.3 L1332.3 2239.6 L1333.2 2237.8 L1334.1 2236.1 L1335.0 2234.3 L1335.9 2232.5 L1336.9 2230.8 L1337.8 2229.0 L1338.7 2227.3 L1339.6 2225.5 L1340.5 2223.8 L1341.4 2222.0 L1342.4 2220.3 L1343.3 2218.5 L1344.2 2216.7 L1345.1 2215.0 L1346.0 2213.2 L1347.0 2211.5 L1347.9 2209.7 L1348.8 2208.0 L1349.8 2206.2 L1350.7 2204.5 L1351.6 2202.7 L1352.6 2201.0 L1353.5 2199.2 L1354.5 2197.5 L1355.4 2195.7 L1356.4 2194.0 L1357.3 2192.2 L1358.3 2190.4 L1359.2 2188.7 L1360.2 2186.9 L1361.2 2185.2 L1362.1 2183.4 L1363.1 2181.7 L1364.1 2179.9 L1365.1 2178.2 L1366.1 2176.4 L1367.0 2174.7 L1368.0 2172.9 L1369.0 2171.2 L1370.1 2169.4 L1371.1 2167.7 L1372.1 2165.9 L1373.1 2164.2 L1374.1 2162.4 L1375.2 2160.7 L1376.2 2158.9 L1377.3 2157.2 L1378.3 2155.4 L1379.4 2153.7 L1380.4 2151.9 L1381.5 2150.2 L1382.6 2148.4 L1383.7 2146.7 L1384.8 2144.9 L1385.9 2143.2 L1387.0 2141.4 L1388.1 2139.7 L1389.2 2137.9 L1390.4 2136.2 L1391.5 2134.4 L1392.7 2132.7 L1393.8 2131.1 L1395.0 2129.4 L1396.3 2127.8 L1397.5 2126.3" fill="none" stroke="#f00" stroke-width="5.5" stroke-linecap="round" stroke-linejoin="round"/>
<path d="M1250.9 2374.7 L1252.0 2373.1 L1253.2 2371.5 L1254.4 2370.0 L1255.6 2368.4 L1256.7 2366.8 L1257.9 2365.2 L1259.0 2363.6 L1260.2 2361.9 L1261.3 2360.3 L1262.5 2358.7 L1263.6 2357.1 L1264.8 2355.4 L1265.9 2353.8 L1267.0 2352.2 L1268.1 2350.5 L1269.3 2348.9 L1270.4 2347.2 L1271.5 2345.5 L1272.6 2343.9 L1273.7 2342.2 L1274.8 2340.5 L1275.9 2338.8 L1277.0 2337.1 L1278.1 2335.5 L1279.1 2333.8 L1280.2 2332.1 L1281.3 2330.4 L1282.4 2328.7 L1283.4 2327.0 L1284.5 2325.2 L1285.6 2323.5 L1286.6 2321.8 L1287.7 2320.1 L1288.7 2318.4 L1289.7 2316.6 L1290.8 2314.9 L1291.8 2313.2 L1292.8 2311.5 L1293.9 2309.7 L1294.9 2308.0 L1295.9 2306.2 L1296.9 2304.5 L1297.9 2302.8 L1299.0 2301.0 L1300.0 2299.3 L1301.0 2297.5 L1302.0 2295.8 L1303.0 2294.0 L1303.9 2292.3 L1304.9 2290.5 L1305.9 2288.8 L1306.9 2287.0 L1307.9 2285.2 L1308.8 2283.5 L1309.8 2281.7 L1310.8 2280.0 L1311.7 2278.2 L1312.7 2276.5 L1313.7 2274.7 L1314.6 2272.9 L1315.6 2271.2 L1316.5 2269.4 L1317.5 2267.7 L1318.4 2265.9 L1319.3 2264.2 L1320.3 2262.4 L1321.2 2260.6 L1322.1 2258.9 L1323.1 2257.1 L1324.0 2255.4 L1324.9 2253.6 L1325.8 2251.9 L1326.8 2250.1 L1327.7 2248.3 L1328.6 2246.6 L1329.5 2244.8 L1330.4 2243.1 L1331.4 2241.3 L1332.3 2239.6 L1333.2 2237.8 L1334.1 2236.1 L1335.0 2234.3 L1335.9 2232.5 L1336.9 2230.8 L1337.8 2229.0 L1338.7 2227.3 L1339.6 2225.5 L1340.5 2223.8 L1341.4 2222.0 L1342.4 2220.3 L1343.3 2218.5 L1344.2 2216.7 L1345.1 2215.0 L1346.0 2213.2 L1347.0 2211.5 L1347.9 2209.7 L1348.8 2208.0 L1349.8 2206.2 L1350.7 2204.5 L1351.6 2202.7 L1352.6 2201.0 L1353.5 2199.2 L1354.5 2197.5 L1355.4 2195.7 L1356.4 2194.0 L1357.3 2192.2 L1358.3 2190.4 L1359.2 2188.7 L1360.2 2186.9 L1361.2 2185.2 L1362.1 2183.4 L1363.1 2181.7 L1364.1 2179.9 L1365.1 2178.2 L1366.1 2176.4 L1367.0 2174.7 L1368.0 2172.9 L1369.0 2171.2 L1370.1 2169.4 L1371.1 2167.7 L1372.1 2165.9 L1373.1 2164.2 L1374.1 2162.4 L1375.2 2160.7 L1376.2 2158.9 L1377.3 2157.2 L1378.3 2155.4 L1379.4 2153.7 L1380.4 2151.9 L1381.5 2150.2 L1382.6 2148.4 L1383.7 2146.7 L1384.8 2144.9 L1385.9 2143.2 L1387.0 2141.4 L1388.1 2139.7 L1389.2 2137.9 L1390.4 2136.2 L1391.5 2134.4 L1392.7 2132.7 L1393.8 2131.1 L1395.0 2129.4" fill="none" stroke="#f00" stroke-width="7.2" stroke-linecap="round" stroke-linejoin="round"/>
<path d="M1428.9 2118.9 L1430.7 2120.1 L1432.3 2121.3 L1433.6 2122.8 L1434.8 2124.4 L1435.8 2126.1 L1436.7 2127.9 L1437.5 2129.8 L1438.2 2131.8 L1438.8 2133.8 L1439.3 2135.9 L1439.8 2137.9 L1440.3 2139.9 L1440.9 2142.0 L1441.4 2144.0 L1441.9 2146.0 L1442.4 2147.9 L1442.9 2149.9 L1443.4 2151.8 L1443.9 2153.8 L1444.4 2155.7 L1444.9 2157.6 L1445.4 2159.6 L1445.9 2161.5 L1446.4 2163.4 L1446.9 2165.3 L1447.3 2167.2 L1447.8 2169.1 L1448.2 2171.0 L1448.7 2172.9 L1449.1 2174.9 L1449.5 2176.8 L1449.9 2178.7 L1450.3 2180.7 L1450.6 2182.6 L1451.0 2184.5 L1451.3 2186.5 L1451.6 2188.5 L1452.0 2190.4 L1452.3 2192.4 L1452.6 2194.4 L1452.9 2196.3 L1453.2 2198.3 L1453.4 2200.3 L1453.7 2202.3 L1454.0 2204.3 L1454.2 2206.2 L1454.5 2208.2 L1454.8 2210.2 L1455.0 2212.2 L1455.3 2214.2 L1455.5 2216.2 L1455.8 2218.2 L1456.0 2220.2 L1456.2 2222.2 L1456.5 2224.2 L1456.7 2226.2 L1457.0 2228.1 L1457.2 2230.1 L1457.5 2232.1 L1457.7 2234.1 L1458.0 2236.1 L1458.2 2238.1 L1458.5 2240.1 L1458.7 2242.1 L1459.0 2244.1 L1459.2 2246.1 L1459.5 2248.1 L1459.7 2250.0 L1460.0 2252.0 L1460.2 2254.0 L1460.5 2256.0 L1460.7 2258.0 L1461.0 2260.0 L1461.2 2262.0 L1461.5 2264.0 L1461.7 2265.9 L1462.0 2267.9 L1462.2 2269.9 L1462.5 2271.9 L1462.7 2273.9 L1463.0 2275.9 L1463.3 2277.9 L1463.5 2279.8 L1463.8 2281.8 L1464.0 2283.8 L1464.3 2285.8 L1464.5 2287.8 L1464.8 2289.8 L1465.0 2291.8 L1465.3 2293.7 L1465.5 2295.7 L1465.8 2297.7 L1466.0 2299.7 L1466.3 2301.7 L1466.5 2303.7 L1466.8 2305.7 L1467.0 2307.6 L1467.3 2309.6 L1467.5 2311.6 L1467.8 2313.6 L1468.0 2315.6 L1468.3 2317.6 L1468.5 2319.5 L1468.8 2321.5 L1469.0 2323.5 L1469.3 2325.5 L1469.5 2327.5 L1469.8 2329.5 L1470.0 2331.4 L1470.3 2333.4 L1470.5 2335.4 L1470.8 2337.4 L1471.0 2339.4 L1471.3 2341.4 L1471.5 2343.4 L1471.8 2345.3 L1472.0 2347.3 L1472.3 2349.3 L1472.5 2351.3 L1472.8 2353.3 L1473.0 2355.3 L1473.3 2357.2 L1473.5 2359.2 L1473.8 2361.2 L1474.0 2363.2 L1474.3 2365.2 L1474.5 2367.2 L1474.8 2369.1 L1475.0 2371.1 L1475.3 2373.1 L1475.5 2375.1 L1475.8 2377.1 L1476.0 2379.0 L1476.3 2381.0 L1476.5 2383.0 L1476.8 2385.0 L1477.1 2387.0 L1477.3 2389.0 L1477.6 2390.9 L1477.8 2392.9 L1478.1 2394.9 L1478.3 2396.9 L1478.6 2398.9 L1478.9 2400.9 L1479.1 2402.8 L1479.4 2404.8 L1479.6 2406.8 L1479.9 2408.8 L1480.2 2410.8 L1480.4 2412.7 L1480.7 2414.7 L1481.0 2416.7 L1481.2 2418.7 L1481.5 2420.7 L1481.8 2422.6 L1482.0 2424.6 L1482.3 2426.6 L1482.6 2428.6 L1482.9 2430.6 L1483.1 2432.5 L1483.4 2434.5 L1483.7 2436.5 L1484.0 2438.5 L1484.2 2440.4 L1484.5 2442.4 L1484.8 2444.4 L1485.1 2446.4 L1485.4 2448.4 L1485.7 2450.3 L1486.0 2452.3 L1486.2 2454.3 L1486.5 2456.3 L1486.8 2458.2 L1487.1 2460.2 L1487.4 2462.2 L1487.7 2464.2 L1488.0 2466.1 L1488.3 2468.1 L1488.6 2470.1 L1488.9 2472.1 L1489.2 2474.0 L1489.6 2476.0 L1489.9 2478.0 L1490.2 2480.0 L1490.5 2481.9 L1490.8 2483.9 L1491.1 2485.9 L1491.5 2487.9 L1491.8 2489.8 L1492.1 2491.8 L1492.4 2493.8 L1492.8 2495.7 L1493.1 2497.7 L1493.4 2499.7 L1493.8 2501.7 L1494.1 2503.6 L1494.4 2505.6 L1494.8 2507.6 L1495.1 2509.5 L1495.5 2511.5 L1495.8 2513.5 L1496.2 2515.4 L1496.5 2517.4 L1496.9 2519.4 L1497.3 2521.3 L1497.6 2523.3 L1498.0 2525.3 L1498.4 2527.2 L1498.7 2529.2 L1499.1 2531.2 L1499.5 2533.1 L1499.9 2535.1 L1500.2 2537.1 L1500.6 2539.0 L1501.0 2541.0 L1501.4 2543.0 L1501.8 2544.9 L1502.2 2546.9 L1502.6 2548.8 L1503.0 2550.8 L1503.4 2552.8 L1503.8 2554.7 L1504.2 2556.7 L1504.6 2558.6 L1505.0 2560.6 L1505.5 2562.6 L1505.9 2564.5 L1506.3 2566.5 L1506.8 2568.4 L1507.2 2570.4 L1507.6 2572.4 L1508.1 2574.3 L1508.5 2576.3 L1509.0 2578.2 L1509.4 2580.2 L1509.9 2582.1 L1510.3 2584.1 L1510.8 2586.0 L1511.2 2588.0 L1511.7 2590.0 L1512.2 2591.9 L1512.7 2593.9 L1513.1 2595.8 L1513.6 2597.8 L1514.1 2599.7 L1514.6 2601.6 L1515.1 2603.6 L1515.6 2605.5 L1516.1 2607.5 L1516.7 2609.4 L1517.2 2611.4 L1517.7 2613.3 L1518.2 2615.2 L1518.8 2617.2 L1519.3 2619.1 L1519.9 2621.0 L1520.5 2622.9 L1521.0 2624.9 L1521.6 2626.8 L1522.2 2628.7 L1522.8 2630.6 L1523.4 2632.5 L1524.0 2634.4 L1524.6 2636.3 L1525.2 2638.2 L1525.8 2640.1 L1526.5 2642.0 L1527.1 2643.9 L1527.8 2645.8 L1528.4 2647.7 L1529.1 2649.5 L1529.8 2651.4 L1530.5 2653.3 L1531.2 2655.1 L1531.9 2657.0 L1532.6 2658.9 L1533.4 2660.7 L1534.1 2662.6 L1534.9 2664.4 L1535.6 2666.2 L1536.4 2668.1 L1537.2 2669.9 L1538.0 2671.7 L1538.8 2673.5 L1539.6 2675.3 L1540.4 2677.2 L1541.3 2679.0 L1542.1 2680.7 L1543.0 2682.5 L1543.9 2684.3 L1544.7 2686.1 L1545.6 2687.9 L1546.6 2689.6 L1547.5 2691.4 L1548.4 2693.1 L1549.4 2694.9 L1550.3 2696.6 L1551.3 2698.4 L1552.3 2700.1 L1553.3 2701.8 L1554.3 2703.5 L1555.4 2705.2 L1556.4 2707.0 L1557.4 2708.7 L1558.5 2710.4 L1559.5 2712.1 L1560.6 2713.8 L1561.7 2715.5 L1562.8 2717.3 L1563.8 2719.0 L1564.9 2720.7 L1566.0 2722.4 L1567.2 2724.1 L1568.3 2725.9 L1569.4 2727.5 L1570.6 2729.2 L1571.8 2730.9 L1573.0 2732.5 L1574.2 2734.1 L1575.4 2735.7 L1576.7 2737.3 L1578.0 2738.8 L1579.3 2740.3 L1580.7 2741.8 L1582.1 2743.2 L1583.5 2744.5 L1585.0 2745.8 L1586.5 2747.1 L1588.0 2748.4 L1589.6 2749.6 L1591.2 2750.7 L1592.8 2751.9 L1594.4 2752.9 L1596.1 2754.0 L1597.8 2755.0 L1599.5 2756.0 L1601.2 2756.9 L1603.0 2757.8 L1604.7 2758.7 L1606.5 2759.5 L1608.4 2760.3" fill="none" stroke="#f00" stroke-width="5.5" stroke-linecap="round" stroke-linejoin="round"/>
<path d="M1433.6 2122.8 L1434.8 2124.4 L1435.8 2126.1 L1436.7 2127.9 L1437.5 2129.8 L1438.2 2131.8 L1438.8 2133.8 L1439.3 2135.9 L1439.8 2137.9 L1440.3 2139.9 L1440.9 2142.0 L1441.4 2144.0 L1441.9 2146.0 L1442.4 2147.9 L1442.9 2149.9 L1443.4 2151.8 L1443.9 2153.8 L1444.4 2155.7 L1444.9 2157.6 L1445.4 2159.6 L1445.9 2161.5 L1446.4 2163.4 L1446.9 2165.3 L1447.3 2167.2 L1447.8 2169.1 L1448.2 2171.0 L1448.7 2172.9 L1449.1 2174.9 L1449.5 2176.8 L1449.9 2178.7 L1450.3 2180.7 L1450.6 2182.6 L1451.0 2184.5 L1451.3 2186.5 L1451.6 2188.5 L1452.0 2190.4 L1452.3 2192.4 L1452.6 2194.4 L1452.9 2196.3 L1453.2 2198.3 L1453.4 2200.3 L1453.7 2202.3 L1454.0 2204.3 L1454.2 2206.2 L1454.5 2208.2 L1454.8 2210.2 L1455.0 2212.2 L1455.3 2214.2 L1455.5 2216.2 L1455.8 2218.2 L1456.0 2220.2 L1456.2 2222.2 L1456.5 2224.2 L1456.7 2226.2 L1457.0 2228.1 L1457.2 2230.1 L1457.5 2232.1 L1457.7 2234.1 L1458.0 2236.1 L1458.2 2238.1 L1458.5 2240.1 L1458.7 2242.1 L1459.0 2244.1 L1459.2 2246.1 L1459.5 2248.1 L1459.7 2250.0 L1460.0 2252.0 L1460.2 2254.0 L1460.5 2256.0 L1460.7 2258.0 L1461.0 2260.0 L1461.2 2262.0 L1461.5 2264.0 L1461.7 2265.9 L1462.0 2267.9 L1462.2 2269.9 L1462.5 2271.9 L1462.7 2273.9 L1463.0 2275.9 L1463.3 2277.9 L1463.5 2279.8 L1463.8 2281.8 L1464.0 2283.8 L1464.3 2285.8 L1464.5 2287.8 L1464.8 2289.8 L1465.0 2291.8 L1465.3 2293.7 L1465.5 2295.7 L1465.8 2297.7 L1466.0 2299.7 L1466.3 2301.7 L1466.5 2303.7 L1466.8 2305.7 L1467.0 2307.6 L1467.3 2309.6 L1467.5 2311.6 L1467.8 2313.6 L1468.0 2315.6 L1468.3 2317.6 L1468.5 2319.5 L1468.8 2321.5 L1469.0 2323.5 L1469.3 2325.5 L1469.5 2327.5 L1469.8 2329.5 L1470.0 2331.4 L1470.3 2333.4 L1470.5 2335.4 L1470.8 2337.4 L1471.0 2339.4 L1471.3 2341.4 L1471.5 2343.4 L1471.8 2345.3 L1472.0 2347.3 L1472.3 2349.3 L1472.5 2351.3 L1472.8 2353.3 L1473.0 2355.3 L1473.3 2357.2 L1473.5 2359.2 L1473.8 2361.2 L1474.0 2363.2 L1474.3 2365.2 L1474.5 2367.2 L1474.8 2369.1 L1475.0 2371.1 L1475.3 2373.1 L1475.5 2375.1 L1475.8 2377.1 L1476.0 2379.0 L1476.3 2381.0 L1476.5 2383.0 L1476.8 2385.0 L1477.1 2387.0 L1477.3 2389.0 L1477.6 2390.9 L1477.8 2392.9 L1478.1 2394.9 L1478.3 2396.9 L1478.6 2398.9 L1478.9 2400.9 L1479.1 2402.8 L1479.4 2404.8 L1479.6 2406.8 L1479.9 2408.8 L1480.2 2410.8 L1480.4 2412.7 L1480.7 2414.7 L1481.0 2416.7 L1481.2 2418.7 L1481.5 2420.7 L1481.8 2422.6 L1482.0 2424.6 L1482.3 2426.6 L1482.6 2428.6 L1482.9 2430.6 L1483.1 2432.5 L1483.4 2434.5 L1483.7 2436.5 L1484.0 2438.5 L1484.2 2440.4 L1484.5 2442.4 L1484.8 2444.4 L1485.1 2446.4 L1485.4 2448.4 L1485.7 2450.3 L1486.0 2452.3 L1486.2 2454.3 L1486.5 2456.3 L1486.8 2458.2 L1487.1 2460.2 L1487.4 2462.2 L1487.7 2464.2 L1488.0 2466.1 L1488.3 2468.1 L1488.6 2470.1 L1488.9 2472.1 L1489.2 2474.0 L1489.6 2476.0 L1489.9 2478.0 L1490.2 2480.0 L1490.5 2481.9 L1490.8 2483.9 L1491.1 2485.9 L1491.5 2487.9 L1491.8 2489.8 L1492.1 2491.8 L1492.4 2493.8 L1492.8 2495.7 L1493.1 2497.7 L1493.4 2499.7 L1493.8 2501.7 L1494.1 2503.6 L1494.4 2505.6 L1494.8 2507.6 L1495.1 2509.5 L1495.5 2511.5 L1495.8 2513.5 L1496.2 2515.4 L1496.5 2517.4 L1496.9 2519.4 L1497.3 2521.3 L1497.6 2523.3 L1498.0 2525.3 L1498.4 2527.2 L1498.7 2529.2 L1499.1 2531.2 L1499.5 2533.1 L1499.9 2535.1 L1500.2 2537.1 L1500.6 2539.0 L1501.0 2541.0 L1501.4 2543.0 L1501.8 2544.9 L1502.2 2546.9 L1502.6 2548.8 L1503.0 2550.8 L1503.4 2552.8 L1503.8 2554.7 L1504.2 2556.7 L1504.6 2558.6 L1505.0 2560.6 L1505.5 2562.6 L1505.9 2564.5 L1506.3 2566.5 L1506.8 2568.4 L1507.2 2570.4 L1507.6 2572.4 L1508.1 2574.3 L1508.5 2576.3 L1509.0 2578.2 L1509.4 2580.2 L1509.9 2582.1 L1510.3 2584.1 L1510.8 2586.0 L1511.2 2588.0 L1511.7 2590.0 L1512.2 2591.9 L1512.7 2593.9 L1513.1 2595.8 L1513.6 2597.8 L1514.1 2599.7 L1514.6 2601.6 L1515.1 2603.6 L1515.6 2605.5 L1516.1 2607.5 L1516.7 2609.4 L1517.2 2611.4 L1517.7 2613.3 L1518.2 2615.2 L1518.8 2617.2 L1519.3 2619.1 L1519.9 2621.0 L1520.5 2622.9 L1521.0 2624.9 L1521.6 2626.8 L1522.2 2628.7 L1522.8 2630.6 L1523.4 2632.5 L1524.0 2634.4 L1524.6 2636.3 L1525.2 2638.2 L1525.8 2640.1 L1526.5 2642.0 L1527.1 2643.9 L1527.8 2645.8 L1528.4 2647.7 L1529.1 2649.5 L1529.8 2651.4 L1530.5 2653.3 L1531.2 2655.1 L1531.9 2657.0 L1532.6 2658.9 L1533.4 2660.7 L1534.1 2662.6 L1534.9 2664.4 L1535.6 2666.2 L1536.4 2668.1 L1537.2 2669.9 L1538.0 2671.7 L1538.8 2673.5 L1539.6 2675.3 L1540.4 2677.2 L1541.3 2679.0 L1542.1 2680.7 L1543.0 2682.5 L1543.9 2684.3 L1544.7 2686.1 L1545.6 2687.9 L1546.6 2689.6 L1547.5 2691.4 L1548.4 2693.1 L1549.4 2694.9 L1550.3 2696.6 L1551.3 2698.4 L1552.3 2700.1 L1553.3 2701.8 L1554.3 2703.5 L1555.4 2705.2 L1556.4 2707.0 L1557.4 2708.7 L1558.5 2710.4 L1559.5 2712.1 L1560.6 2713.8 L1561.7 2715.5 L1562.8 2717.3 L1563.8 2719.0 L1564.9 2720.7 L1566.0 2722.4 L1567.2 2724.1 L1568.3 2725.9 L1569.4 2727.5 L1570.6 2729.2 L1571.8 2730.9 L1573.0 2732.5 L1574.2 2734.1 L1575.4 2735.7 L1576.7 2737.3 L1578.0 2738.8 L1579.3 2740.3 L1580.7 2741.8 L1582.1 2743.2 L1583.5 2744.5 L1585.0 2745.8 L1586.5 2747.1 L1588.0 2748.4 L1589.6 2749.6" fill="none" stroke="#f00" stroke-width="7.8" stroke-linecap="round" stroke-linejoin="round"/>
<path d="M188.2 2739.6 L189.2 2739.6 L190.2 2739.5 L191.2 2739.5 L192.2 2739.5 L193.2 2739.4 L194.2 2739.4 L195.2 2739.4 L196.2 2739.3 L197.2 2739.3 L198.2 2739.3 L199.2 2739.2 L200.2 2739.2 L201.2 2739.2 L202.2 2739.1 L203.2 2739.1 L204.2 2739.1 L205.2 2739.0 L206.2 2739.0 L207.2 2739.0 L208.2 2738.9 L209.2 2738.9 L210.2 2738.9 L211.2 2738.8 L212.2 2738.8 L213.2 2738.8 L214.2 2738.7 L215.2 2738.7 L216.2 2738.6 L217.2 2738.6 L218.2 2738.6 L219.2 2738.5 L220.2 2738.5 L221.2 2738.5 L222.2 2738.4 L223.2 2738.4 L224.2 2738.3 L225.2 2738.3 L226.2 2738.3 L227.2 2738.2 L228.2 2738.2 L229.2 2738.2 L230.2 2738.1 L231.2 2738.1 L232.2 2738.0 L233.2 2738.0 L234.2 2738.0 L235.2 2737.9 L236.2 2737.9 L237.2 2737.8 L238.2 2737.8 L239.2 2737.8 L240.2 2737.7 L241.2 2737.7 L242.2 2737.6 L243.2 2737.6 L244.2 2737.5 L245.2 2737.5 L246.2 2737.5 L247.2 2737.4 L248.2 2737.4 L249.2 2737.3 L250.2 2737.3 L251.1 2737.2 L252.1 2737.2 L253.1 2737.2 L254.1 2737.1 L255.1 2737.1 L256.1 2737.0 L257.1 2737.0 L258.1 2736.9 L259.1 2736.9 L260.1 2736.9 L261.1 2736.8 L262.1 2736.8 L263.1 2736.7 L264.1 2736.7 L265.1 2736.6 L266.1 2736.6 L267.1 2736.5 L268.1 2736.5 L269.1 2736.4 L270.1 2736.4 L271.1 2736.3 L272.1 2736.3 L273.1 2736.3 L274.1 2736.2 L275.1 2736.2 L276.1 2736.1 L277.1 2736.1 L278.1 2736.0 L279.1 2736.0 L280.1 2735.9 L281.1 2735.9 L282.1 2735.8 L283.1 2735.8 L284.1 2735.7 L285.1 2735.7 L286.1 2735.6 L287.1 2735.6 L288.1 2735.5 L289.1 2735.5 L290.1 2735.4 L291.1 2735.4 L292.1 2735.3 L293.1 2735.2 L294.1 2735.2 L295.1 2735.1 L296.1 2735.1 L297.1 2735.0 L298.1 2735.0 L299.1 2734.9 L300.1 2734.9 L301.1 2734.8 L302.1 2734.8 L303.1 2734.7 L304.1 2734.7 L305.1 2734.6 L306.1 2734.5 L307.1 2734.5 L308.1 2734.4 L309.1 2734.4 L310.1 2734.3 L311.1 2734.3 L312.1 2734.2 L313.1 2734.1 L314.1 2734.1 L315.1 2734.0 L316.1 2734.0 L317.1 2733.9 L318.1 2733.8 L319.1 2733.8 L320.1 2733.7 L321.1 2733.7 L322.1 2733.6 L323.1 2733.5 L324.1 2733.5 L325.1 2733.4 L326.0 2733.4 L327.0 2733.3 L328.0 2733.2 L329.0 2733.2 L330.0 2733.1 L331.0 2733.1 L332.0 2733.0 L333.0 2732.9 L334.0 2732.9 L335.0 2732.8 L336.0 2732.7 L337.0 2732.7 L338.0 2732.6 L339.0 2732.5 L340.0 2732.5 L341.0 2732.4 L342.0 2732.3 L343.0 2732.3 L344.0 2732.2 L345.0 2732.1 L346.0 2732.1 L347.0 2732.0 L348.0 2731.9 L349.0 2731.9 L350.0 2731.8 L351.0 2731.7 L352.0 2731.7 L353.0 2731.6 L354.0 2731.5 L355.0 2731.5 L356.0 2731.4 L357.0 2731.3 L358.0 2731.2 L359.0 2731.2 L360.0 2731.1 L361.0 2731.0 L362.0 2731.0 L363.0 2730.9 L364.0 2730.8 L364.9 2730.7 L365.9 2730.7 L366.9 2730.6 L367.9 2730.5 L368.9 2730.4 L369.9 2730.4 L370.9 2730.3 L371.9 2730.2 L372.9 2730.1 L373.9 2730.1 L374.9 2730.0 L375.9 2729.9 L376.9 2729.8 L377.9 2729.8 L378.9 2729.7 L379.9 2729.6 L380.9 2729.5 L381.9 2729.4 L382.9 2729.4 L383.9 2729.3 L384.9 2729.2 L385.9 2729.1 L386.9 2729.0 L387.9 2729.0 L388.9 2728.9 L389.9 2728.8 L390.9 2728.7 L391.9 2728.6 L392.8 2728.5 L393.8 2728.5 L394.8 2728.4 L395.8 2728.3 L396.8 2728.2 L397.8 2728.1 L398.8 2728.0 L399.8 2728.0 L400.8 2727.9 L401.8 2727.8 L402.8 2727.7 L403.8 2727.6 L404.8 2727.5 L405.8 2727.4 L406.8 2727.3 L407.8 2727.3 L408.8 2727.2 L409.8 2727.1 L410.8 2727.0 L411.8 2726.9 L412.8 2726.8 L413.8 2726.7 L414.7 2726.6 L415.7 2726.5 L416.7 2726.4 L417.7 2726.3 L418.7 2726.2 L419.7 2726.2 L420.7 2726.1 L421.7 2726.0 L422.7 2725.9 L423.7 2725.8 L424.7 2725.7 L425.7 2725.6 L426.7 2725.5 L427.7 2725.4 L428.7 2725.3 L429.7 2725.2 L430.7 2725.1 L431.7 2725.0 L432.7 2724.9 L433.6 2724.8 L434.6 2724.7 L435.6 2724.6 L436.6 2724.5 L437.6 2724.4 L438.6 2724.3 L439.6 2724.2 L440.6 2724.1 L441.6 2724.0 L442.6 2723.9 L443.6 2723.8 L444.6 2723.7 L445.6 2723.6 L446.6 2723.5 L447.6 2723.4 L448.6 2723.3 L449.6 2723.2 L450.5 2723.1 L451.5 2723.0 L452.5 2722.8 L453.5 2722.7 L454.5 2722.6 L455.5 2722.5 L456.5 2722.4 L457.5 2722.3 L458.5 2722.2 L459.5 2722.1 L460.5 2722.0 L461.5 2721.9 L462.5 2721.8 L463.5 2721.6 L464.5 2721.5 L465.4 2721.4 L466.4 2721.3 L467.4 2721.2 L468.4 2721.1 L469.4 2721.0 L470.4 2720.8 L471.4 2720.7 L472.4 2720.6 L473.4 2720.5 L474.4 2720.4 L475.4 2720.3 L476.4 2720.1 L477.4 2720.0 L478.4 2719.9 L479.3 2719.8 L480.3 2719.7 L481.3 2719.6 L482.3 2719.4 L483.3 2719.3 L484.3 2719.2 L485.3 2719.1 L486.3 2718.9 L487.3 2718.8 L488.3 2718.7 L489.3 2718.6 L490.3 2718.5 L491.3 2718.3 L492.2 2718.2 L493.2 2718.1 L494.2 2718.0 L495.2 2717.8 L496.2 2717.7 L497.2 2717.6 L498.2 2717.4 L499.2 2717.3 L500.2 2717.2 L501.2 2717.1 L502.2 2716.9 L503.2 2716.8 L504.1 2716.7 L505.1 2716.5 L506.1 2716.4 L507.1 2716.3 L508.1 2716.1 L509.1 2716.0 L510.1 2715.9 L511.1 2715.7 L512.1 2715.6 L513.1 2715.5 L514.1 2715.3 L515.0 2715.2 L516.0 2715.1 L517.0 2714.9 L518.0 2714.8 L519.0 2714.6 L520.0 2714.5 L521.0 2714.4 L522.0 2714.2 L523.0 2714.1 L524.0 2714.0 L524.9 2713.8 L525.9 2713.7 L526.9 2713.5 L527.9 2713.4 L528.9 2713.2 L529.9 2713.1 L530.9 2713.0 L531.9 2712.8 L532.9 2712.7 L533.9 2712.5 L534.8 2712.4 L535.8 2712.2 L536.8 2712.1 L537.8 2711.9 L538.8 2711.8 L539.8 2711.6 L540.8 2711.5 L541.8 2711.3 L542.8 2711.2 L543.7 2711.0 L544.7 2710.9 L545.7 2710.7 L546.7 2710.6 L547.7 2710.4 L548.7 2710.3 L549.7 2710.1 L550.7 2710.0 L551.7 2709.8 L552.6 2709.7 L553.6 2709.5 L554.6 2709.4 L555.6 2709.2 L556.6 2709.1 L557.6 2708.9 L558.6 2708.7 L559.6 2708.6 L560.5 2708.4 L561.5 2708.3 L562.5 2708.1 L563.5 2708.0 L564.5 2707.8 L565.5 2707.6 L566.5 2707.5 L567.5 2707.3 L568.4 2707.2 L569.4 2707.0 L570.4 2706.8 L571.4 2706.7 L572.4 2706.5 L573.4 2706.3 L574.4 2706.2 L575.3 2706.0 L576.3 2705.8 L577.3 2705.7 L578.3 2705.5 L579.3 2705.3 L580.3 2705.2 L581.3 2705.0 L582.3 2704.8 L583.2 2704.7 L584.2 2704.5 L585.2 2704.3 L586.2 2704.2 L587.2 2704.0 L588.2 2703.8 L589.2 2703.7 L590.1 2703.5 L591.1 2703.3 L592.1 2703.1 L593.1 2703.0 L594.1 2702.8 L595.1 2702.6 L596.1 2702.5 L597.0 2702.3 L598.0 2702.1 L599.0 2701.9 L600.0 2701.8 L601.0 2701.6 L602.0 2701.4 L602.9 2701.2 L603.9 2701.0 L604.9 2700.9 L605.9 2700.7 L606.9 2700.5 L607.9 2700.3 L608.9 2700.1 L609.8 2700.0 L610.8 2699.8 L611.8 2699.6 L612.8 2699.4 L613.8 2699.2 L614.8 2699.1 L615.7 2698.9 L616.7 2698.7 L617.7 2698.5 L618.7 2698.3 L619.7 2698.1 L620.7 2698.0 L621.6 2697.8 L622.6 2697.6 L623.6 2697.4 L624.6 2697.2 L625.6 2697.0 L626.5 2696.8 L627.5 2696.6 L628.5 2696.5 L629.5 2696.3 L630.5 2696.1 L631.5 2695.9 L632.4 2695.7 L633.4 2695.5 L634.4 2695.3 L635.4 2695.1 L636.4 2694.9 L637.4 2694.7 L638.3 2694.5 L639.3 2694.3 L640.3 2694.2 L641.3 2694.0 L642.3 2693.8 L643.2 2693.6 L644.2 2693.4 L645.2 2693.2 L646.2 2693.0 L647.2 2692.8 L648.1 2692.6 L649.1 2692.4 L650.1 2692.2 L651.1 2692.0 L652.1 2691.8 L653.0 2691.6 L654.0 2691.4 L655.0 2691.2 L656.0 2691.0 L657.0 2690.8 L657.9 2690.6 L658.9 2690.4 L659.9 2690.2 L660.9 2690.0 L661.9 2689.8 L662.8 2689.6 L663.8 2689.4 L664.8 2689.1 L665.8 2688.9 L666.8 2688.7 L667.7 2688.5 L668.7 2688.3 L669.7 2688.1 L670.7 2687.9 L671.6 2687.7 L672.6 2687.5 L673.6 2687.3 L674.6 2687.1 L675.6 2686.9 L676.5 2686.6 L677.5 2686.4 L678.5 2686.2 L679.5 2686.0 L680.4 2685.8 L681.4 2685.6 L682.4 2685.4 L683.4 2685.2 L684.4 2684.9 L685.3 2684.7 L686.3 2684.5 L687.3 2684.3 L688.3 2684.1 L689.2 2683.9 L690.2 2683.7 L691.2 2683.4 L692.2 2683.2 L693.1 2683.0 L694.1 2682.8 L695.1 2682.6 L696.1 2682.3 L697.0 2682.1 L698.0 2681.9 L699.0 2681.7 L700.0 2681.5 L700.9 2681.2 L701.9 2681.0 L702.9 2680.8 L703.9 2680.6 L704.8 2680.4 L705.8 2680.1 L706.8 2679.9 L707.8 2679.7 L708.7 2679.5 L709.7 2679.2 L710.7 2679.0 L711.7 2678.8 L712.6 2678.6 L713.6 2678.3 L714.6 2678.1 L715.6 2677.9 L716.5 2677.6 L717.5 2677.4 L718.5 2677.2 L719.4 2677.0 L720.4 2676.7 L721.4 2676.5 L722.4 2676.3 L723.3 2676.0 L724.3 2675.8 L725.3 2675.6 L726.3 2675.3 L727.2 2675.1 L728.2 2674.9 L729.2 2674.6 L730.1 2674.4 L731.1 2674.2 L732.1 2673.9 L733.1 2673.7 L734.0 2673.5 L735.0 2673.2 L736.0 2673.0 L736.9 2672.7 L737.9 2672.5 L738.9 2672.3 L739.9 2672.0 L740.8 2671.8 L741.8 2671.6 L742.8 2671.3 L743.7 2671.1 L744.7 2670.8 L745.7 2670.6 L746.6 2670.4 L747.6 2670.1 L748.6 2669.9 L749.6 2669.6 L750.5 2669.4 L751.5 2669.1 L752.5 2668.9 L753.4 2668.7 L754.4 2668.4 L755.4 2668.2 L756.3 2667.9 L757.3 2667.7 L758.3 2667.4 L759.2 2667.2 L760.2 2666.9 L761.2 2666.7 L762.1 2666.4 L763.1 2666.2 L764.1 2665.9 L765.0 2665.7 L766.0 2665.4 L767.0 2665.2 L767.9 2664.9 L768.9 2664.7 L769.9 2664.4 L770.8 2664.2 L771.8 2663.9 L772.8 2663.7 L773.7 2663.4 L774.7 2663.2 L775.7 2662.9 L776.6 2662.7 L777.6 2662.4 L778.6 2662.2 L779.5 2661.9 L780.5 2661.7 L781.5 2661.4 L782.4 2661.1 L783.4 2660.9 L784.4 2660.6 L785.3 2660.4 L786.3 2660.1 L787.3 2659.9 L788.2 2659.6 L789.2 2659.4 L790.2 2659.1 L791.1 2658.8 L792.1 2658.6 L793.1 2658.3 L794.0 2658.1 L795.0 2657.8 L796.0 2657.6 L796.9 2657.3 L797.9 2657.0 L798.9 2656.8 L799.8 2656.5 L800.8 2656.3 L801.7 2656.0 L802.7 2655.8 L803.7 2655.5 L804.6 2655.2 L805.6 2655.0 L806.6 2654.7 L807.5 2654.5 L808.5 2654.2 L809.5 2653.9 L810.4 2653.7 L811.4 2653.4 L812.4 2653.2 L813.3 2652.9 L814.3 2652.6 L815.2 2652.4 L816.2 2652.1 L817.2 2651.9 L818.1 2651.6 L819.1 2651.3 L820.1 2651.1 L821.0 2650.8 L822.0 2650.5 L823.0 2650.3 L823.9 2650.0 L824.9 2649.8 L825.9 2649.5 L826.8 2649.2 L827.8 2649.0 L828.7 2648.7 L829.7 2648.5 L830.7 2648.2 L831.6 2647.9 L832.6 2647.7 L833.6 2647.4 L834.5 2647.2 L835.5 2646.9 L836.5 2646.6 L837.4 2646.4 L838.4 2646.1 L839.4 2645.9 L840.3 2645.6 L841.3 2645.3 L842.2 2645.1 L843.2 2644.8 L844.2 2644.5 L845.1 2644.3 L846.1 2644.0 L847.1 2643.8 L848.0 2643.5 L849.0 2643.2 L850.0 2643.0 L850.9 2642.7 L851.9 2642.5 L852.9 2642.2 L853.8 2641.9 L854.8 2641.7 L855.7 2641.4 L856.7 2641.2 L857.7 2640.9 L858.6 2640.6 L859.6 2640.4 L860.6 2640.1 L861.5 2639.9 L862.5 2639.6 L863.5 2639.4 L864.4 2639.1 L865.4 2638.8 L866.4 2638.6 L867.3 2638.3 L868.3 2638.1 L869.3 2637.8 L870.2 2637.6 L871.2 2637.3 L872.2 2637.0 L873.1 2636.8 L874.1 2636.5 L875.1 2636.3 L876.0 2636.0 L877.0 2635.8 L878.0 2635.5 L878.9 2635.3 L879.9 2635.0 L880.9 2634.7 L881.8 2634.5 L882.8 2634.2 L883.8 2634.0 L884.7 2633.7 L885.7 2633.5 L886.7 2633.2 L887.6 2633.0 L888.6 2632.7 L889.6 2632.5 L890.5 2632.2 L891.5 2632.0 L892.5 2631.7 L893.4 2631.5 L894.4 2631.2 L895.4 2631.0 L896.3 2630.7 L897.3 2630.5 L898.3 2630.2 L899.2 2630.0 L900.2 2629.7 L901.2 2629.5 L902.2 2629.2 L903.1 2629.0 L904.1 2628.7 L905.1 2628.5 L906.0 2628.3 L907.0 2628.0 L908.0 2627.8 L908.9 2627.5 L909.9 2627.3 L910.9 2627.0 L911.8 2626.8 L912.8 2626.5 L913.8 2626.3 L914.8 2626.1 L915.7 2625.8 L916.7 2625.6 L917.7 2625.3 L918.6 2625.1 L919.6 2624.9 L920.6 2624.6 L921.6 2624.4 L922.5 2624.1 L923.5 2623.9 L924.5 2623.7 L925.4 2623.4 L926.4 2623.2 L927.4 2622.9 L928.4 2622.7 L929.3 2622.4 L930.3 2622.2 L931.3 2622.0 L932.2 2621.7 L933.2 2621.5 L934.2 2621.2 L935.1 2621.0 L936.1 2620.7 L937.1 2620.5 L938.0 2620.2 L939.0 2619.9 L940.0 2619.7 L940.9 2619.4 L941.9 2619.2 L942.9 2618.9 L943.8 2618.6 L944.8 2618.4 L945.8 2618.1 L946.7 2617.8 L947.7 2617.6 L948.7 2617.3 L949.6 2617.0 L950.6 2616.7 L951.5 2616.5 L952.5 2616.2 L953.5 2615.9 L954.4 2615.6 L955.4 2615.3 L956.3 2615.0 L957.3 2614.7 L958.2 2614.4 L959.2 2614.1 L960.1 2613.8 L961.1 2613.5 L962.1 2613.2 L963.0 2612.9 L964.0 2612.6 L964.9 2612.2 L965.8 2611.9 L966.8 2611.6 L967.7 2611.3 L968.7 2610.9 L969.6 2610.6 L970.6 2610.2 L971.5 2609.9 L972.5 2609.5 L973.4 2609.2 L974.3 2608.8 L975.3 2608.5 L976.2 2608.1 L977.1 2607.8 L978.1 2607.4 L979.0 2607.0 L980.0 2606.7 L980.9 2606.3 L981.8 2606.0 L982.8 2605.6 L983.7 2605.2 L984.6 2604.9 L985.6 2604.5 L986.5 2604.1 L987.4 2603.8 L988.4 2603.4 L989.3 2603.1 L990.3 2602.7 L991.2 2602.3 L992.1 2602.0 L993.1 2601.6 L994.0 2601.3 L994.9 2600.9 L995.9 2600.6 L996.8 2600.3 L997.8 2599.9 L998.7 2599.6 L999.6 2599.2 L1000.6 2598.9 L1001.5 2598.6 L1002.5 2598.3 L1003.4 2598.0 L1004.4 2597.6 L1005.3 2597.3 L1006.3 2597.0 L1007.2 2596.7 L1008.2 2596.4 L1009.1 2596.2 L1010.1 2595.9 L1011.0 2595.6 L1012.0 2595.3 L1012.9 2595.1 L1013.9 2594.8 L1014.9 2594.6 L1015.8 2594.3 L1016.8 2594.1 L1017.7 2593.9 L1018.7 2593.6 L1019.7 2593.4 L1020.7 2593.2 L1021.6 2593.0 L1022.6 2592.8 L1023.6 2592.6 L1024.6 2592.4 L1025.5 2592.2 L1026.5 2592.1 L1027.5 2591.9 L1028.5 2591.7 L1029.5 2591.6 L1030.4 2591.4 L1031.4 2591.3 L1032.4 2591.1 L1033.4 2591.0 L1034.4 2590.8 L1035.4 2590.7 L1036.4 2590.6 L1037.4 2590.4 L1038.4 2590.3 L1039.4 2590.2 L1040.4 2590.1 L1041.4 2590.0 L1042.4 2589.9 L1043.4 2589.8 L1044.4 2589.7 L1045.4 2589.6 L1046.4 2589.5 L1047.4 2589.4 L1048.4 2589.4 L1049.4 2589.3 L1050.4 2589.2 L1051.5 2589.1 L1052.5 2589.1 L1053.5 2589.0 L1054.5 2588.9 L1055.5 2588.9 L1056.5 2588.8 L1057.6 2588.8 L1058.6 2588.7 L1059.6 2588.6 L1060.6 2588.6 L1061.6 2588.5 L1062.7 2588.5 L1063.7 2588.4 L1064.7 2588.4 L1065.7 2588.3 L1066.8 2588.2 L1067.8 2588.2 L1068.8 2588.1 L1069.8 2588.0 L1070.8 2587.9 L1071.8 2587.8 L1072.8 2587.7 L1073.8 2587.6 L1074.8 2587.4 L1075.8 2587.3 L1076.8 2587.1 L1077.8 2587.0 L1078.8 2586.8 L1079.7 2586.6 L1080.7 2586.4 L1081.7 2586.1 L1082.6 2585.9 L1083.6 2585.6 L1084.5 2585.4 L1085.5 2585.1 L1086.4 2584.8 L1087.4 2584.4 L1088.3 2584.1 L1089.2 2583.7 L1090.1 2583.3 L1091.0 2582.9 L1091.9 2582.4 L1092.8 2582.0 L1093.6 2581.5 L1094.5 2581.0 L1095.4 2580.5 L1096.2 2579.9 L1097.1 2579.4 L1097.9 2578.8 L1098.8 2578.3 L1099.6 2577.7 L1100.5 2577.1 L1101.3 2576.5 L1102.1 2575.9 L1103.0 2575.4 L1103.8 2574.8 L1104.7 2574.2 L1105.5 2573.6 L1106.3 2573.0 L1107.2 2572.5 L1108.0 2571.9 L1108.9 2571.4 L1109.8 2570.9 L1110.6 2570.4 L1111.5 2569.9 L1112.4 2569.4 L1113.3 2569.0 L1114.2 2568.6 L1115.1 2568.1 L1116.0 2567.8 L1116.9 2567.4 L1117.8 2567.1 L1118.8 2566.7 L1119.7 2566.4 L1120.6 2566.1 L1121.6 2565.8 L1122.5 2565.6 L1123.5 2565.3 L1124.5 2565.1 L1125.4 2564.9 L1126.4 2564.7 L1127.4 2564.5 L1128.4 2564.3 L1129.3 2564.1 L1130.3 2564.0 L1131.3 2563.8 L1132.3 2563.7 L1133.3 2563.5 L1134.3 2563.4 L1135.3 2563.3 L1136.3 2563.2 L1137.3 2563.0 L1138.3 2562.9 L1139.3 2562.8 L1140.3 2562.7 L1141.3 2562.6 L1142.3 2562.5 L1143.3 2562.4 L1144.3 2562.3 L1145.3 2562.2 L1146.3 2562.1 L1147.3 2562.0 L1148.3 2561.9 L1149.3 2561.8 L1150.3 2561.7 L1151.3 2561.6 L1152.3 2561.5 L1153.3 2561.4 L1154.3 2561.3 L1155.3 2561.1 L1156.2 2561.0 L1157.2 2560.9 L1158.2 2560.7 L1159.2 2560.6 L1160.2 2560.5 L1161.1 2560.3 L1162.1 2560.1 L1163.1 2560.0 L1164.0 2559.8 L1165.0 2559.6 L1166.0 2559.4 L1166.9 2559.3 L1167.9 2559.1 L1168.9 2558.9 L1169.8 2558.7 L1170.8 2558.4 L1171.7 2558.2 L1172.7 2558.0 L1173.6 2557.8 L1174.6 2557.5 L1175.5 2557.3 L1176.5 2557.0 L1177.4 2556.7 L1178.4 2556.5 L1179.3 2556.2 L1180.2 2555.9 L1181.2 2555.6 L1182.1 2555.3 L1183.0 2555.0 L1184.0 2554.6 L1184.9 2554.3 L1185.8 2554.0 L1186.8 2553.6 L1187.7 2553.2 L1188.6 2552.9 L1189.5 2552.5 L1190.5 2552.1 L1191.4 2551.7 L1192.3 2551.3 L1193.2 2550.8 L1194.1 2550.4 L1195.0 2550.0 L1195.9 2549.5 L1196.8 2549.0 L1197.7 2548.6 L1198.6 2548.1 L1199.5 2547.6 L1200.4 2547.1 L1201.3 2546.6 L1202.2 2546.1 L1203.1 2545.6 L1203.9 2545.0 L1204.8 2544.5 L1205.7 2544.0 L1206.5 2543.4 L1207.4 2542.9 L1208.2 2542.3 L1209.0 2541.7 L1209.9 2541.2 L1210.7 2540.6 L1211.5 2540.0 L1212.3 2539.4 L1213.1 2538.8 L1213.9 2538.2 L1214.7 2537.6 L1215.5 2537.0 L1216.3 2536.4 L1217.1 2535.7 L1217.9 2535.1 L1218.6 2534.5 L1219.4 2533.8 L1220.1 2533.2 L1220.9 2532.5 L1221.6 2531.9 L1222.4 2531.2 L1223.1 2530.6 L1223.8 2529.9 L1224.6 2529.2 L1225.3 2528.5 L1226.0 2527.9 L1226.7 2527.2 L1227.4 2526.5 L1228.1 2525.8 L1228.8 2525.1 L1229.5 2524.4 L1230.2 2523.7 L1230.9 2523.0 L1231.6 2522.3 L1232.3 2521.5 L1233.0 2520.8 L1233.6 2520.1 L1234.3 2519.4 L1235.0 2518.6 L1235.6 2517.9 L1236.3 2517.2 L1237.0 2516.4 L1237.6 2515.7 L1238.3 2514.9 L1238.9 2514.2 L1239.5 2513.4 L1240.2 2512.7 L1240.8 2511.9 L1241.5 2511.1 L1242.1 2510.4 L1242.7 2509.6 L1243.4 2508.8 L1244.0 2508.1 L1244.6 2507.3 L1245.2 2506.5 L1245.8 2505.7 L1246.5 2505.0 L1247.1 2504.2 L1247.7 2503.4 L1248.3 2502.6 L1248.9 2501.8 L1249.5 2501.0 L1250.1 2500.2 L1250.7 2499.4 L1251.3 2498.7 L1251.9 2497.9 L1252.5 2497.1 L1253.1 2496.3 L1253.7 2495.5 L1254.3 2494.7 L1254.9 2493.9 L1255.5 2493.1 L1256.1 2492.3 L1256.7 2491.5 L1257.3 2490.6 L1257.9 2489.8 L1258.5 2489.0 L1259.1 2488.2 L1259.7 2487.4 L1260.3 2486.6 L1260.9 2485.8 L1261.5 2485.0 L1262.1 2484.2 L1262.6 2483.4 L1263.2 2482.6 L1263.8 2481.8 L1264.4 2481.0 L1265.0 2480.2 L1265.6 2479.4 L1266.2 2478.6 L1266.8 2477.8 L1267.4 2477.0 L1268.0 2476.2 L1268.6 2475.3 L1269.2 2474.5 L1269.8 2473.7 L1270.4 2472.9 L1271.0 2472.2 L1271.6 2471.4 L1272.2 2470.6 L1272.8 2469.8 L1273.4 2469.0 L1274.0 2468.2 L1274.7 2467.4 L1275.3 2466.6 L1275.9 2465.8 L1276.5 2465.0 L1277.1 2464.2 L1277.8 2463.5 L1278.4 2462.7 L1279.0 2461.9 L1279.6 2461.1 L1280.3 2460.4 L1280.9 2459.6 L1281.5 2458.8 L1282.2 2458.1 L1282.8 2457.3 L1283.5 2456.5 L1284.1 2455.8 L1284.8 2455.0 L1285.4 2454.3 L1286.1 2453.5 L1286.7 2452.8 L1287.4 2452.0 L1288.1 2451.3 L1288.8 2450.6 L1289.4 2449.8 L1290.1 2449.1 L1290.8 2448.4 L1291.5 2447.6 L1292.2 2446.9 L1292.8 2446.2 L1293.5 2445.5 L1294.2 2444.8 L1294.9 2444.0 L1295.6 2443.3 L1296.3 2442.6 L1297.0 2441.9 L1297.7 2441.2 L1298.4 2440.5 L1299.2 2439.8 L1299.9 2439.1 L1300.6 2438.4 L1301.3 2437.7 L1302.0 2437.0 L1302.7 2436.3 L1303.4 2435.6 L1304.1 2434.9 L1304.9 2434.2 L1305.6 2433.5 L1306.3 2432.8 L1307.0 2432.1 L1307.7 2431.4 L1308.4 2430.7 L1309.2 2430.0 L1309.9 2429.3 L1310.6 2428.6 L1311.3 2427.9 L1312.0 2427.2 L1312.7 2426.5 L1313.4 2425.8 L1314.2 2425.1 L1314.9 2424.4 L1315.6 2423.7 L1316.3 2423.0 L1317.0 2422.3 L1317.7 2421.6 L1318.4 2420.9 L1319.1 2420.2 L1319.8 2419.5 L1320.5 2418.8 L1321.2 2418.0 L1321.9 2417.3 L1322.6 2416.6 L1323.3 2415.9 L1323.9 2415.1 L1324.6 2414.4 L1325.3 2413.7 L1326.0 2412.9 L1326.7 2412.2 L1327.3 2411.5 L1328.0 2410.7 L1328.7 2410.0 L1329.3 2409.2 L1330.0 2408.5 L1330.6 2407.7 L1331.3 2407.0 L1332.0 2406.2 L1332.6 2405.5 L1333.3 2404.7 L1333.9 2404.0 L1334.6 2403.2 L1335.2 2402.4 L1335.9 2401.7 L1336.5 2400.9 L1337.1 2400.1 L1337.8 2399.4 L1338.4 2398.6 L1339.0 2397.8 L1339.7 2397.0 L1340.3 2396.3 L1340.9 2395.5 L1341.6 2394.7 L1342.2 2393.9 L1342.8 2393.1 L1343.4 2392.4 L1344.1 2391.6 L1344.7 2390.8 L1345.3 2390.0 L1345.9 2389.2 L1346.6 2388.4 L1347.2 2387.6 L1347.8 2386.8 L1348.4 2386.1 L1349.0 2385.3 L1349.6 2384.5 L1350.2 2383.7 L1350.9 2382.9 L1351.5 2382.1 L1352.1 2381.3 L1352.7 2380.5 L1353.3 2379.7 L1353.9 2378.9 L1354.5 2378.1 L1355.1 2377.3 L1355.7 2376.5 L1356.3 2375.7 L1356.9 2374.9 L1357.6 2374.1 L1358.2 2373.3 L1358.8 2372.5 L1359.4 2371.7 L1360.0 2370.9 L1360.6 2370.1 L1361.2 2369.3 L1361.8 2368.5 L1362.4 2367.7 L1363.0 2366.9 L1363.6 2366.1 L1364.2 2365.3 L1364.8 2364.5 L1365.4 2363.7 L1366.0 2362.9 L1366.6 2362.1 L1367.3 2361.3 L1367.9 2360.5 L1368.5 2359.7 L1369.1 2358.9 L1369.7 2358.1 L1370.3 2357.3 L1370.9 2356.5 L1371.5 2355.8 L1372.1 2355.0 L1372.7 2354.2 L1373.3 2353.4 L1373.9 2352.6 L1374.5 2351.8 L1375.1 2351.0 L1375.7 2350.2 L1376.3 2349.4 L1376.9 2348.6 L1377.5 2347.8 L1378.1 2347.0 L1378.7 2346.2 L1379.4 2345.4 L1380.0 2344.6 L1380.6 2343.8 L1381.2 2343.0 L1381.8 2342.2 L1382.4 2341.4 L1383.0 2340.6 L1383.6 2339.8 L1384.2 2339.0 L1384.8 2338.2 L1385.4 2337.4 L1386.0 2336.6 L1386.6 2335.8 L1387.2 2335.0 L1387.8 2334.2 L1388.4 2333.4 L1389.0 2332.6 L1389.6 2331.8 L1390.2 2331.0 L1390.8 2330.2 L1391.4 2329.4 L1392.0 2328.6 L1392.6 2327.8 L1393.2 2327.0 L1393.8 2326.2 L1394.4 2325.4 L1395.0 2324.6 L1395.6 2323.8 L1396.2 2323.0 L1396.8 2322.2 L1397.4 2321.4 L1398.0 2320.6 L1398.6 2319.8 L1399.2 2319.0 L1399.8 2318.2 L1400.4 2317.4 L1401.0 2316.6 L1401.6 2315.8 L1402.2 2315.0 L1402.8 2314.2 L1403.4 2313.4 L1404.0 2312.6 L1404.6 2311.8 L1405.2 2311.0 L1405.8 2310.2 L1406.4 2309.4 L1407.0 2308.6 L1407.6 2307.8 L1408.2 2307.0 L1408.8 2306.2 L1409.4 2305.4 L1410.0 2304.6 L1410.6 2303.8 L1411.2 2303.0 L1411.8 2302.2 L1412.4 2301.4 L1413.0 2300.6 L1413.6 2299.8 L1414.2 2299.0 L1414.8 2298.2 L1415.4 2297.4 L1416.0 2296.6 L1416.6 2295.8 L1417.1 2295.0 L1417.7 2294.2 L1418.3 2293.4 L1418.9 2292.6 L1419.5 2291.8 L1420.1 2291.0 L1420.7 2290.2 L1421.3 2289.4 L1421.9 2288.6 L1422.5 2287.8 L1423.1 2287.0 L1423.7 2286.2 L1424.3 2285.4 L1424.8 2284.5 L1425.4 2283.7 L1426.0 2282.9 L1426.6 2282.1 L1427.2 2281.3 L1427.8 2280.5 L1428.4 2279.7 L1429.0 2278.9 L1429.6 2278.1 L1430.2 2277.3 L1430.7 2276.5 L1431.3 2275.7 L1431.9 2274.9 L1432.5 2274.1 L1433.1 2273.3 L1433.7 2272.5 L1434.3 2271.7 L1434.9 2270.8 L1435.4 2270.0 L1436.0 2269.2 L1436.6 2268.4 L1437.2 2267.6 L1437.8 2266.8 L1438.4 2266.0 L1438.9 2265.2 L1439.5 2264.4 L1440.1 2263.6 L1440.7 2262.8 L1441.3 2261.9 L1441.9 2261.1 L1442.4 2260.3 L1443.0 2259.5 L1443.6 2258.7 L1444.2 2257.9 L1444.8 2257.1 L1445.4 2256.3 L1445.9 2255.5 L1446.5 2254.6 L1447.1 2253.8 L1447.7 2253.0 L1448.2 2252.2 L1448.8 2251.4 L1449.4 2250.6 L1450.0 2249.8 L1450.6 2249.0 L1451.1 2248.1 L1451.7 2247.3 L1452.3 2246.5 L1452.9 2245.7 L1453.4 2244.9 L1454.0 2244.1 L1454.6 2243.3 L1455.2 2242.4 L1455.7 2241.6 L1456.3 2240.8 L1456.9 2240.0 L1457.5 2239.2 L1458.0 2238.4 L1458.6 2237.5 L1459.2 2236.7 L1459.8 2235.9 L1460.3 2235.1 L1460.9 2234.3 L1461.5 2233.4 L1462.0 2232.6 L1462.6 2231.8 L1463.2 2231.0 L1463.7 2230.2 L1464.3 2229.3 L1464.9 2228.5 L1465.4 2227.7 L1466.0 2226.9 L1466.6 2226.1 L1467.1 2225.2 L1467.7 2224.4 L1468.3 2223.6 L1468.8 2222.8 L1469.4 2221.9 L1470.0 2221.1 L1470.5 2220.3 L1471.1 2219.5 L1471.7 2218.6 L1472.2 2217.8 L1472.8 2217.0 L1473.3 2216.2 L1473.9 2215.3 L1474.5 2214.5 L1475.0 2213.7 L1475.6 2212.9 L1476.1 2212.0 L1476.7 2211.2 L1477.3 2210.4 L1477.8 2209.6 L1478.4 2208.7 L1478.9 2207.9 L1479.5 2207.1 L1480.0 2206.2 L1480.6 2205.4 L1481.2 2204.6 L1481.7 2203.7 L1482.3 2202.9 L1482.8 2202.1 L1483.4 2201.3 L1483.9 2200.4 L1484.5 2199.6 L1485.0 2198.8 L1485.6 2197.9 L1486.1 2197.1 L1486.7 2196.3 L1487.2 2195.4 L1487.8 2194.6 L1488.3 2193.7 L1488.9 2192.9 L1489.4 2192.1 L1490.0 2191.2 L1490.5 2190.4 L1491.1 2189.6 L1491.6 2188.7 L1492.2 2187.9 L1492.7 2187.1 L1493.2 2186.2 L1493.8 2185.4 L1494.3 2184.5 L1494.9 2183.7 L1495.4 2182.9 L1496.0 2182.0 L1496.5 2181.2 L1497.0 2180.3 L1497.6 2179.5 L1498.1 2178.6 L1498.6 2177.8 L1499.2 2177.0 L1499.7 2176.1 L1500.3 2175.3 L1500.8 2174.4 L1501.3 2173.6 L1501.9 2172.7 L1502.4 2171.9 L1502.9 2171.0 L1503.5 2170.2 L1504.0 2169.3 L1504.5 2168.5 L1505.1 2167.6 L1505.6 2166.8 L1506.1 2165.9 L1506.7 2165.1 L1507.2 2164.2 L1507.7 2163.4 L1508.2 2162.5 L1508.8 2161.7 L1509.3 2160.8 L1509.8 2160.0 L1510.4 2159.1 L1510.9 2158.3 L1511.4 2157.4 L1511.9 2156.6 L1512.5 2155.7 L1513.0 2154.9 L1513.5 2154.0 L1514.0 2153.1 L1514.5 2152.3 L1515.1 2151.4 L1515.6 2150.6 L1516.1 2149.7 L1516.6 2148.9 L1517.1 2148.0 L1517.7 2147.1 L1518.2 2146.3 L1518.7 2145.4 L1519.2 2144.6 L1519.7 2143.7 L1520.2 2142.8 L1520.8 2142.0 L1521.3 2141.1 L1521.8 2140.3 L1522.3 2139.4 L1522.8 2138.5 L1523.3 2137.7 L1523.8 2136.8 L1524.3 2135.9 L1524.8 2135.1 L1525.4 2134.2 L1525.9 2133.3 L1526.4 2132.5 L1526.9 2131.6 L1527.4 2130.7 L1527.9 2129.9 L1528.4 2129.0 L1528.9 2128.1 L1529.4 2127.3 L1529.9 2126.4 L1530.4 2125.5 L1530.9 2124.7 L1531.4 2123.8 L1531.9 2122.9 L1532.4 2122.0 L1532.9 2121.2 L1533.4 2120.3 L1533.9 2119.4 L1534.4 2118.6 L1534.9 2117.7 L1535.4 2116.8 L1535.9 2115.9 L1536.4 2115.1 L1536.9 2114.2 L1537.4 2113.3 L1537.9 2112.4 L1538.4 2111.6 L1538.9 2110.7 L1539.3 2109.8 L1539.8 2108.9 L1540.3 2108.1 L1540.8 2107.2 L1541.3 2106.3 L1541.8 2105.4 L1542.3 2104.6 L1542.8 2103.7 L1543.2 2102.8 L1543.7 2101.9 L1544.2 2101.1 L1544.7 2100.2 L1545.2 2099.3 L1545.7 2098.4 L1546.1 2097.5 L1546.6 2096.7 L1547.1 2095.8 L1547.6 2094.9 L1548.1 2094.0 L1548.5 2093.1 L1549.0 2092.3 L1549.5 2091.4 L1550.0 2090.5 L1550.5 2089.6 L1550.9 2088.7 L1551.4 2087.8 L1551.9 2087.0 L1552.4 2086.1 L1552.8 2085.2 L1553.3 2084.3 L1553.8 2083.4 L1554.2 2082.5 L1554.7 2081.7 L1555.2 2080.8 L1555.6 2079.9 L1556.1 2079.0 L1556.6 2078.1 L1557.0 2077.2 L1557.5 2076.3 L1558.0 2075.5 L1558.4 2074.6 L1558.9 2073.7 L1559.4 2072.8 L1559.8 2071.9 L1560.3 2071.0 L1560.8 2070.1 L1561.2 2069.2 L1561.7 2068.3 L1562.1 2067.5 L1562.6 2066.6 L1563.0 2065.7 L1563.5 2064.8 L1564.0 2063.9 L1564.4 2063.0 L1564.9 2062.1 L1565.3 2061.2 L1565.8 2060.3 L1566.2 2059.5 L1566.7 2058.6 L1567.1 2057.7 L1567.6 2056.8 L1568.0 2055.9 L1568.5 2055.0 L1568.9 2054.1 L1569.4 2053.2 L1569.8 2052.3 L1570.3 2051.4 L1570.7 2050.5 L1571.2 2049.6 L1571.6 2048.8 L1572.0 2047.9 L1572.5 2047.0 L1572.9 2046.1 L1573.4 2045.2 L1573.8 2044.3 L1574.2 2043.4 L1574.7 2042.5 L1575.1 2041.6 L1575.6 2040.7 L1576.0 2039.8 L1576.4 2038.9 L1576.9 2038.0 L1577.3 2037.1 L1577.7 2036.2 L1578.2 2035.3 L1578.6 2034.4 L1579.0 2033.5 L1579.5 2032.7 L1579.9 2031.8 L1580.3 2030.9 L1580.8 2030.0 L1581.2 2029.1 L1581.6 2028.2 L1582.0 2027.3 L1582.5 2026.4 L1582.9 2025.5 L1583.3 2024.6 L1583.7 2023.7 L1584.2 2022.8 L1584.6 2021.9 L1585.0 2021.0 L1585.4 2020.1 L1585.8 2019.2 L1586.3 2018.3 L1586.7 2017.4 L1587.1 2016.5 L1587.5 2015.6 L1587.9 2014.7 L1588.3 2013.8 L1588.8 2012.9 L1589.2 2012.0 L1589.6 2011.1 L1590.0 2010.2 L1590.4 2009.3 L1590.8 2008.4 L1591.2 2007.5 L1591.7 2006.6 L1592.1 2005.7 L1592.5 2004.8 L1592.9 2003.9 L1593.3 2003.0 L1593.7 2002.1 L1594.1 2001.2 L1594.5 2000.3 L1595.0 1999.4 L1595.4 1998.5 L1595.8 1997.6 L1596.2 1996.7 L1596.6 1995.8 L1597.0 1994.9 L1597.5 1994.0 L1597.9 1993.1 L1598.3 1992.2 L1598.7 1991.3 L1599.1 1990.4 L1599.5 1989.5 L1600.0 1988.6 L1600.4 1987.7 L1600.8 1986.9 L1601.2 1986.0 L1601.6 1985.1 L1602.1 1984.2 L1602.5 1983.3 L1602.9 1982.4 L1603.3 1981.5 L1603.8 1980.6 L1604.2 1979.7 L1604.6 1978.8 L1605.1 1977.9 L1605.5 1977.0 L1605.9 1976.1 L1606.4 1975.2 L1606.8 1974.3 L1607.2 1973.4 L1607.7 1972.5 L1608.1 1971.6 L1608.6 1970.7 L1609.0 1969.8 L1609.4 1968.9 L1609.9 1968.0 L1610.3 1967.1 L1610.8 1966.2 L1611.2 1965.3 L1611.7 1964.4 L1612.2 1963.5 L1612.6 1962.6 L1613.1 1961.7 L1613.5 1960.8 L1614.0 1959.9 L1614.5 1959.1 L1614.9 1958.2 L1615.4 1957.3 L1615.9 1956.4 L1616.4 1955.5 L1616.8 1954.6 L1617.3 1953.7 L1617.8 1952.8 L1618.3 1951.9 L1618.8 1951.0 L1619.3 1950.1 L1619.7 1949.2 L1620.2 1948.3 L1620.7 1947.5 L1621.2 1946.6 L1621.7 1945.7 L1622.2 1944.8 L1622.7 1943.9 L1623.3 1943.0 L1623.8 1942.1 L1624.3 1941.2 L1624.8 1940.3 L1625.3 1939.4 L1625.9 1938.6 L1626.4 1937.7 L1626.9 1936.8 L1627.5 1935.9 L1628.0 1935.0 L1628.5 1934.1 L1629.1 1933.2 L1629.6 1932.4 L1630.2 1931.5 L1630.7 1930.6 L1631.3 1929.7 L1631.9 1928.8 L1632.4 1927.9 L1633.0 1927.0 L1633.6 1926.2 L1634.1 1925.3 L1634.7 1924.4 L1635.3 1923.6 L1635.9 1922.7 L1636.5 1921.9 L1637.1 1921.0 L1637.7 1920.2 L1638.4 1919.5 L1639.0 1918.7 L1639.6 1918.0 L1640.3 1917.2 L1640.9 1916.6 L1641.6 1915.9 L1642.3 1915.3 L1643.0 1914.7 L1643.7 1914.2 L1644.4 1913.7 L1645.2 1913.3 L1645.9 1912.9 L1646.7 1912.5 L1647.5 1912.2 L1648.3 1912.0 L1649.1 1911.8 L1649.9 1911.7 L1650.8 1911.6 L1651.7 1911.6 L1652.6 1911.6 L1653.5 1911.8 L1654.4 1911.9 L1655.3 1912.2 L1656.2 1912.5 L1657.1 1912.8 L1658.1 1913.3 L1659.0 1913.7 L1659.9 1914.2 L1660.7 1914.8 L1661.6 1915.4 L1662.4 1916.0 L1663.2 1916.7 L1663.9 1917.4 L1664.7 1918.2 L1665.4 1919.0 L1666.0 1919.8 L1666.7 1920.6 L1667.3 1921.5 L1667.9 1922.4 L1668.4 1923.3 L1669.0 1924.2 L1669.5 1925.2 L1670.0 1926.1 L1670.4 1927.1 L1670.9 1928.0 L1671.3 1929.0 L1671.8 1930.0 L1672.2 1931.0 L1672.6 1931.9 L1673.0 1932.9 L1673.3 1933.9 L1673.7 1934.9 L1674.0 1935.8 L1674.4 1936.8 L1674.7 1937.8 L1675.0 1938.7 L1675.3 1939.7 L1675.6 1940.7 L1675.9 1941.6 L1676.1 1942.6 L1676.4 1943.6 L1676.7 1944.6 L1676.9 1945.5 L1677.1 1946.5 L1677.4 1947.5 L1677.6 1948.4 L1677.8 1949.4 L1678.1 1950.4 L1678.3 1951.3 L1678.5 1952.3 L1678.7 1953.3 L1678.9 1954.2 L1679.1 1955.2 L1679.3 1956.2 L1679.5 1957.2 L1679.7 1958.1 L1679.9 1959.1 L1680.1 1960.1 L1680.3 1961.0 L1680.5 1962.0 L1680.7 1963.0 L1680.9 1964.0 L1681.1 1964.9 L1681.3 1965.9 L1681.5 1966.9 L1681.7 1967.8 L1681.9 1968.8 L1682.1 1969.8 L1682.3 1970.8 L1682.5 1971.7 L1682.7 1972.7 L1682.9 1973.7 L1683.1 1974.7 L1683.2 1975.6 L1683.4 1976.6 L1683.6 1977.6 L1683.8 1978.6 L1684.0 1979.5 L1684.2 1980.5 L1684.4 1981.5 L1684.6 1982.5 L1684.7 1983.5 L1684.9 1984.4 L1685.1 1985.4 L1685.3 1986.4 L1685.5 1987.4 L1685.7 1988.3 L1685.8 1989.3 L1686.0 1990.3 L1686.2 1991.3 L1686.4 1992.3 L1686.5 1993.2 L1686.7 1994.2 L1686.9 1995.2 L1687.1 1996.2 L1687.3 1997.2 L1687.4 1998.1 L1687.6 1999.1 L1687.8 2000.1 L1687.9 2001.1 L1688.1 2002.1 L1688.3 2003.0 L1688.5 2004.0 L1688.6 2005.0 L1688.8 2006.0 L1689.0 2007.0 L1689.1 2008.0 L1689.3 2008.9 L1689.5 2009.9 L1689.7 2010.9 L1689.8 2011.9 L1690.0 2012.9 L1690.2 2013.9 L1690.3 2014.8 L1690.5 2015.8 L1690.7 2016.8 L1690.8 2017.8 L1691.0 2018.8 L1691.1 2019.8 L1691.3 2020.7 L1691.5 2021.7 L1691.6 2022.7 L1691.8 2023.7 L1692.0 2024.7" fill="none" stroke="#00f" stroke-width="8.4" stroke-linecap="round" stroke-linejoin="round"/>
<path d="M1694.0 2037.5 L1694.2 2038.5 L1694.3 2039.5 L1694.5 2040.5 L1694.7 2041.4 L1694.8 2042.4 L1695.0 2043.4 L1695.1 2044.4 L1695.3 2045.4 L1695.4 2046.4 L1695.6 2047.4 L1695.7 2048.4 L1695.9 2049.4 L1696.1 2050.3 L1696.2 2051.3 L1696.4 2052.3 L1696.5 2053.3 L1696.7 2054.3 L1696.8 2055.3 L1697.0 2056.3 L1697.1 2057.3 L1697.3 2058.3 L1697.4 2059.2 L1697.6 2060.2 L1697.7 2061.2 L1697.9 2062.2 L1698.0 2063.2 L1698.2 2064.2 L1698.3 2065.2 L1698.5 2066.2 L1698.6 2067.2 L1698.8 2068.2 L1698.9 2069.1 L1699.1 2070.1" fill="none" stroke="#00f" stroke-width="8.4" stroke-linecap="round" stroke-linejoin="round"/>
<path d="M1702.8 2094.9 L1702.9 2095.9 L1703.0 2096.9 L1703.2 2097.9 L1703.3 2098.9 L1703.5 2099.9 L1703.6 2100.9 L1703.8 2101.8 L1703.9 2102.8 L1704.1 2103.8 L1704.2 2104.8 L1704.4 2105.8 L1704.5 2106.8 L1704.7 2107.8 L1704.8 2108.8 L1705.0 2109.8 L1705.1 2110.8 L1705.2 2111.8 L1705.4 2112.8 L1705.5 2113.7 L1705.7 2114.7 L1705.8 2115.7 L1706.0 2116.7 L1706.1 2117.7 L1706.3 2118.7 L1706.4 2119.7 L1706.6 2120.7 L1706.7 2121.7 L1706.9 2122.7 L1707.0 2123.7 L1707.2 2124.7 L1707.3 2125.6 L1707.5 2126.6 L1707.6 2127.6 L1707.8 2128.6 L1707.9 2129.6 L1708.1 2130.6 L1708.2 2131.6 L1708.4 2132.6 L1708.5 2133.6 L1708.7 2134.6 L1708.8 2135.6 L1709.0 2136.6 L1709.1 2137.5 L1709.3 2138.5 L1709.4 2139.5 L1709.6 2140.5 L1709.7 2141.5 L1709.9 2142.5 L1710.0 2143.5 L1710.2 2144.5 L1710.3 2145.5 L1710.5 2146.5 L1710.6 2147.4 L1710.8 2148.4 L1710.9 2149.4 L1711.1 2150.4 L1711.2 2151.4 L1711.4 2152.4 L1711.5 2153.4 L1711.7 2154.4 L1711.9 2155.4 L1712.0 2156.4 L1712.2 2157.4 L1712.3 2158.3 L1712.5 2159.3 L1712.6 2160.3 L1712.8 2161.3 L1712.9 2162.3 L1713.1 2163.3 L1713.3 2164.3 L1713.4 2165.3 L1713.6 2166.3 L1713.7 2167.2 L1713.9 2168.2 L1714.1 2169.2 L1714.2 2170.2 L1714.4 2171.2 L1714.5 2172.2 L1714.7 2173.2 L1714.9 2174.2 L1715.0 2175.1 L1715.2 2176.1 L1715.3 2177.1 L1715.5 2178.1 L1715.7 2179.1 L1715.8 2180.1 L1716.0 2181.1 L1716.2 2182.1" fill="none" stroke="#00f" stroke-width="8.4" stroke-linecap="round" stroke-linejoin="round"/>
<path d="M1719.2 2199.8 L1719.4 2200.8 L1719.6 2201.8 L1719.7 2202.8 L1719.9 2203.7 L1720.1 2204.7 L1720.3 2205.7 L1720.4 2206.7 L1720.6 2207.7 L1720.8 2208.7 L1721.0 2209.6 L1721.2 2210.6 L1721.3 2211.6 L1721.5 2212.6 L1721.7 2213.6 L1721.9 2214.6 L1722.1 2215.5 L1722.2 2216.5 L1722.4 2217.5 L1722.6 2218.5 L1722.8 2219.5 L1723.0 2220.5 L1723.1 2221.4 L1723.3 2222.4 L1723.5 2223.4 L1723.7 2224.4 L1723.9 2225.4 L1724.1 2226.3 L1724.3 2227.3 L1724.4 2228.3 L1724.6 2229.3 L1724.8 2230.3 L1725.0 2231.2 L1725.2 2232.2 L1725.4 2233.2 L1725.6 2234.2 L1725.8 2235.2 L1725.9 2236.1 L1726.1 2237.1 L1726.3 2238.1 L1726.5 2239.1 L1726.7 2240.1 L1726.9 2241.0 L1727.1 2242.0 L1727.3 2243.0 L1727.5 2244.0 L1727.7 2245.0 L1727.9 2245.9 L1728.1 2246.9 L1728.3 2247.9 L1728.5 2248.9 L1728.6 2249.9 L1728.8 2250.8 L1729.0 2251.8 L1729.2 2252.8 L1729.4 2253.8 L1729.6 2254.7 L1729.8 2255.7 L1730.0 2256.7 L1730.2 2257.7 L1730.4 2258.7 L1730.6 2259.6 L1730.8 2260.6 L1731.0 2261.6 L1731.2 2262.6 L1731.4 2263.5 L1731.6 2264.5 L1731.8 2265.5 L1732.0 2266.5 L1732.3 2267.5 L1732.5 2268.4 L1732.7 2269.4 L1732.9 2270.4 L1733.1 2271.4 L1733.3 2272.3 L1733.5 2273.3 L1733.7 2274.3 L1733.9 2275.3 L1734.1 2276.2 L1734.3 2277.2 L1734.5 2278.2 L1734.7 2279.2 L1734.9 2280.1 L1735.1 2281.1 L1735.4 2282.1 L1735.6 2283.1" fill="none" stroke="#00f" stroke-width="8.4" stroke-linecap="round" stroke-linejoin="round"/>
<path d="M1738.6 2296.7 L1738.8 2297.7 L1739.0 2298.6 L1739.2 2299.6 L1739.4 2300.6 L1739.7 2301.6 L1739.9 2302.5 L1740.1 2303.5 L1740.3 2304.5 L1740.5 2305.5 L1740.8 2306.4 L1741.0 2307.4 L1741.2 2308.4 L1741.4 2309.4 L1741.6 2310.3 L1741.9 2311.3 L1742.1 2312.3 L1742.3 2313.2 L1742.5 2314.2 L1742.8 2315.2 L1743.0 2316.2 L1743.2 2317.1 L1743.4 2318.1 L1743.7 2319.1 L1743.9 2320.0 L1744.1 2321.0 L1744.3 2322.0 L1744.6 2323.0 L1744.8 2323.9 L1745.0 2324.9 L1745.3 2325.9 L1745.5 2326.8 L1745.7 2327.8 L1745.9 2328.8 L1746.2 2329.8 L1746.4 2330.7 L1746.6 2331.7 L1746.9 2332.7 L1747.1 2333.6 L1747.3 2334.6 L1747.6 2335.6 L1747.8 2336.5 L1748.0 2337.5 L1748.3 2338.5 L1748.5 2339.5 L1748.7 2340.4 L1749.0 2341.4 L1749.2 2342.4 L1749.4 2343.3 L1749.7 2344.3 L1749.9 2345.3 L1750.2 2346.2 L1750.4 2347.2 L1750.6 2348.2 L1750.9 2349.1 L1751.1 2350.1 L1751.3 2351.1 L1751.6 2352.1 L1751.8 2353.0 L1752.1 2354.0 L1752.3 2355.0 L1752.5 2355.9 L1752.8 2356.9 L1753.0 2357.9 L1753.3 2358.8 L1753.5 2359.8 L1753.8 2360.8 L1754.0 2361.7 L1754.2 2362.7 L1754.5 2363.7 L1754.7 2364.6 L1755.0 2365.6 L1755.2 2366.6 L1755.5 2367.5 L1755.7 2368.5 L1756.0 2369.5 L1756.2 2370.4 L1756.5 2371.4 L1756.7 2372.4 L1757.0 2373.3 L1757.2 2374.3 L1757.5 2375.3 L1757.7 2376.2 L1758.0 2377.2 L1758.2 2378.2 L1758.5 2379.1 L1758.7 2380.1 L1759.0 2381.1 L1759.2 2382.0 L1759.5 2383.0 L1759.7 2384.0 L1760.0 2384.9 L1760.2 2385.9 L1760.5 2386.9 L1760.7 2387.8 L1761.0 2388.8 L1761.2 2389.8 L1761.5 2390.7 L1761.8 2391.7 L1762.0 2392.7 L1762.3 2393.6 L1762.5 2394.6 L1762.8 2395.6 L1763.0 2396.5 L1763.3 2397.5 L1763.6 2398.5 L1763.8 2399.4 L1764.1 2400.4 L1764.3 2401.4 L1764.6 2402.3 L1764.9 2403.3 L1765.1 2404.3 L1765.4 2405.2 L1765.6 2406.2 L1765.9 2407.2 L1766.2 2408.1 L1766.4 2409.1 L1766.7 2410.0 L1766.9 2411.0 L1767.2 2412.0 L1767.5 2412.9 L1767.7 2413.9 L1768.0 2414.9 L1768.3 2415.8 L1768.5 2416.8 L1768.8 2417.8 L1769.1 2418.7 L1769.3 2419.7 L1769.6 2420.7 L1769.9 2421.6 L1770.1 2422.6 L1770.4 2423.5 L1770.7 2424.5 L1770.9 2425.5 L1771.2 2426.4 L1771.5 2427.4 L1771.8 2428.4 L1772.0 2429.3 L1772.3 2430.3 L1772.6 2431.3 L1772.8 2432.2 L1773.1 2433.2 L1773.4 2434.1 L1773.7 2435.1 L1773.9 2436.1 L1774.2 2437.0 L1774.5 2438.0 L1774.7 2439.0 L1775.0 2439.9 L1775.3 2440.9 L1775.6 2441.8 L1775.8 2442.8 L1776.1 2443.8 L1776.4 2444.7 L1776.7 2445.7 L1777.0 2446.7 L1777.2 2447.6 L1777.5 2448.6 L1777.8 2449.6 L1778.1 2450.5 L1778.3 2451.5 L1778.6 2452.4 L1778.9 2453.4 L1779.2 2454.4 L1779.5 2455.3 L1779.7 2456.3 L1780.0 2457.3 L1780.3 2458.2 L1780.6 2459.2 L1780.9 2460.1 L1781.2 2461.1 L1781.4 2462.1 L1781.7 2463.0 L1782.0 2464.0 L1782.3 2464.9 L1782.6 2465.9 L1782.9 2466.9 L1783.1 2467.8 L1783.4 2468.8 L1783.7 2469.8 L1784.0 2470.7 L1784.3 2471.7 L1784.6 2472.6 L1784.9 2473.6 L1785.1 2474.6 L1785.4 2475.5 L1785.7 2476.5 L1786.0 2477.4 L1786.3 2478.4 L1786.6 2479.4 L1786.9 2480.3 L1787.2 2481.3 L1787.5 2482.3 L1787.8 2483.2 L1788.0 2484.2 L1788.3 2485.1 L1788.6 2486.1 L1788.9 2487.1 L1789.2 2488.0 L1789.5 2489.0 L1789.8 2489.9 L1790.1 2490.9 L1790.4 2491.9 L1790.7 2492.8 L1791.0 2493.8 L1791.3 2494.7 L1791.6 2495.7 L1791.9 2496.6 L1792.2 2497.6 L1792.5 2498.6 L1792.8 2499.5 L1793.1 2500.5 L1793.4 2501.4 L1793.7 2502.4 L1794.0 2503.3 L1794.3 2504.3 L1794.6 2505.3 L1794.9 2506.2 L1795.2 2507.2 L1795.5 2508.1 L1795.8 2509.1 L1796.1 2510.0 L1796.5 2511.0 L1796.8 2512.0 L1797.1 2512.9 L1797.4 2513.9 L1797.7 2514.8 L1798.0 2515.8 L1798.3 2516.7 L1798.6 2517.7 L1799.0 2518.6 L1799.3 2519.6 L1799.6 2520.5 L1799.9 2521.5 L1800.2 2522.4 L1800.5 2523.4 L1800.9 2524.3 L1801.2 2525.3 L1801.5 2526.2 L1801.8 2527.2 L1802.1 2528.1 L1802.5 2529.1 L1802.8 2530.0 L1803.1 2531.0 L1803.4 2531.9 L1803.8 2532.9 L1804.1 2533.8 L1804.4 2534.8 L1804.8 2535.7 L1805.1 2536.7 L1805.4 2537.6 L1805.8 2538.6 L1806.1 2539.5 L1806.4 2540.5 L1806.8 2541.4 L1807.1 2542.3 L1807.4 2543.3 L1807.8 2544.2 L1808.1 2545.2 L1808.5 2546.1 L1808.8 2547.1 L1809.1 2548.0 L1809.5 2548.9 L1809.8 2549.9 L1810.2 2550.8 L1810.5 2551.8 L1810.9 2552.7 L1811.2 2553.6 L1811.6 2554.6 L1811.9 2555.5 L1812.3 2556.4 L1812.6 2557.4 L1813.0 2558.3 L1813.3 2559.3 L1813.7 2560.2 L1814.0 2561.1 L1814.4 2562.1 L1814.7 2563.0 L1815.1 2563.9 L1815.5 2564.9 L1815.8 2565.8 L1816.2 2566.7 L1816.6 2567.7 L1816.9 2568.6 L1817.3 2569.5 L1817.7 2570.4 L1818.0 2571.4 L1818.4 2572.3 L1818.8 2573.2 L1819.1 2574.2 L1819.5 2575.1 L1819.9 2576.0 L1820.3 2576.9 L1820.6 2577.9 L1821.0 2578.8 L1821.4 2579.7 L1821.8 2580.6 L1822.2 2581.5 L1822.6 2582.5 L1822.9 2583.4 L1823.3 2584.3 L1823.7 2585.2 L1824.1 2586.1 L1824.5 2587.1 L1824.9 2588.0 L1825.3 2588.9 L1825.7 2589.8 L1826.1 2590.7 L1826.5 2591.6 L1826.9 2592.6 L1827.3 2593.5 L1827.7 2594.4 L1828.1 2595.3 L1828.5 2596.2 L1828.9 2597.1 L1829.3 2598.0 L1829.7 2598.9 L1830.1 2599.9 L1830.5 2600.8 L1830.9 2601.7 L1831.3 2602.6 L1831.8 2603.5 L1832.2 2604.4 L1832.6 2605.3 L1833.0 2606.2 L1833.4 2607.1 L1833.9 2608.0 L1834.3 2608.9 L1834.7 2609.8 L1835.1 2610.7 L1835.6 2611.6 L1836.0 2612.5 L1836.4 2613.4 L1836.9 2614.3 L1837.3 2615.2 L1837.7 2616.1 L1838.2 2617.0 L1838.6 2617.9 L1839.0 2618.8 L1839.5 2619.7 L1839.9 2620.6 L1840.4 2621.4 L1840.8 2622.3 L1841.3 2623.2 L1841.7 2624.1 L1842.2 2625.0 L1842.6 2625.9 L1843.1 2626.8 L1843.5 2627.7 L1844.0 2628.5 L1844.5 2629.4 L1844.9 2630.3 L1845.4 2631.2 L1845.9 2632.1 L1846.3 2632.9 L1846.8 2633.8 L1847.3 2634.7 L1847.7 2635.6 L1848.2 2636.4 L1848.7 2637.3 L1849.2 2638.2 L1849.6 2639.1 L1850.1 2639.9 L1850.6 2640.8 L1851.1 2641.7 L1851.6 2642.6 L1852.1 2643.4 L1852.6 2644.3 L1853.0 2645.2 L1853.5 2646.0 L1854.0 2646.9 L1854.5 2647.7 L1855.0 2648.6 L1855.5 2649.5 L1856.0 2650.3 L1856.5 2651.2 L1857.0 2652.1 L1857.5 2652.9 L1858.1 2653.8 L1858.6 2654.6 L1859.1 2655.5 L1859.6 2656.3 L1860.1 2657.2 L1860.6 2658.0 L1861.2 2658.9 L1861.7 2659.7 L1862.2 2660.6 L1862.7 2661.4 L1863.3 2662.3 L1863.8 2663.1 L1864.3 2664.0 L1864.9 2664.8 L1865.4 2665.6 L1865.9 2666.5 L1866.5 2667.3 L1867.0 2668.2 L1867.6 2669.0 L1868.1 2669.8 L1868.7 2670.7 L1869.2 2671.5 L1869.8 2672.3 L1870.3 2673.2 L1870.9 2674.0 L1871.4 2674.8 L1872.0 2675.7 L1872.5 2676.5 L1873.1 2677.3 L1873.7 2678.1 L1874.2 2679.0 L1874.8 2679.8 L1875.4 2680.6 L1875.9 2681.4 L1876.5 2682.2 L1877.1 2683.0 L1877.7 2683.9 L1878.3 2684.7 L1878.8 2685.5 L1879.4 2686.3 L1880.0 2687.1 L1880.6 2687.9 L1881.2 2688.7 L1881.8 2689.5 L1882.4 2690.3 L1883.0 2691.1 L1883.6 2691.9 L1884.2 2692.7 L1884.8 2693.5 L1885.4 2694.3 L1886.0 2695.1 L1886.6 2695.9 L1887.2 2696.7 L1887.8 2697.5 L1888.4 2698.3 L1889.0 2699.1 L1889.6 2699.9 L1890.3 2700.6 L1890.9 2701.4 L1891.5 2702.2 L1892.1 2703.0 L1892.8 2703.8 L1893.4 2704.5 L1894.0 2705.3 L1894.7 2706.1 L1895.3 2706.9 L1895.9 2707.6 L1896.6 2708.4 L1897.2 2709.2 L1897.8 2709.9 L1898.5 2710.7 L1899.1 2711.5 L1899.8 2712.2 L1900.4 2713.0 L1901.1 2713.8 L1901.7 2714.5 L1902.4 2715.3 L1903.1 2716.0 L1903.7 2716.8 L1904.4 2717.5 L1905.0 2718.3 L1905.7 2719.0 L1906.4 2719.8 L1907.0 2720.5 L1907.7 2721.2 L1908.4 2722.0 L1909.1 2722.7 L1909.7 2723.4 L1910.4 2724.2 L1911.1 2724.9 L1911.8 2725.6 L1912.5 2726.4 L1913.2 2727.1 L1913.9 2727.8 L1914.5 2728.5 L1915.2 2729.3 L1915.9 2730.0 L1916.6 2730.7 L1917.3 2731.4 L1918.0 2732.1 L1918.7 2732.8 L1919.4 2733.5 L1920.1 2734.3 L1920.9 2735.0 L1921.6 2735.7 L1922.3 2736.4 L1923.0 2737.1 L1923.7 2737.8 L1924.4 2738.5 L1925.2 2739.2 L1925.9 2739.8 L1926.6 2740.5 L1927.3 2741.2 L1928.1 2741.9 L1928.8 2742.6 L1929.5 2743.3 L1930.3 2744.0 L1931.0 2744.6 L1931.7 2745.3 L1932.5 2746.0 L1933.2 2746.7 L1934.0 2747.3 L1934.7 2748.0 L1935.5 2748.7 L1936.2 2749.3 L1937.0 2750.0 L1937.7 2750.6 L1938.5 2751.3 L1939.2 2751.9 L1940.0 2752.6 L1940.8 2753.2 L1941.5 2753.9 L1942.3 2754.5 L1943.1 2755.2 L1943.8 2755.8 L1944.6 2756.5 L1945.4 2757.1 L1946.2 2757.7 L1947.0 2758.4 L1947.7 2759.0 L1948.5 2759.6 L1949.3 2760.3 L1950.1 2760.9 L1950.9 2761.5 L1951.7 2762.1 L1952.5 2762.7 L1953.3 2763.3 L1954.1 2764.0 L1954.9 2764.6 L1955.7 2765.2 L1956.5 2765.8 L1957.3 2766.4 L1958.1 2767.0 L1958.9 2767.6 L1959.7 2768.2 L1960.5 2768.8 L1961.3 2769.3 L1962.2 2769.9 L1963.0 2770.5 L1963.8 2771.1 L1964.6 2771.7 L1965.5 2772.2 L1966.3 2772.8 L1967.1 2773.4 L1967.9 2774.0 L1968.8 2774.5 L1969.6 2775.1 L1970.4 2775.6 L1971.3 2776.2 L1972.1 2776.7 L1973.0 2777.3 L1973.8 2777.8 L1974.7 2778.4 L1975.5 2778.9 L1976.4 2779.4 L1977.2 2780.0 L1978.1 2780.5 L1978.9 2781.0 L1979.8 2781.5 L1980.6 2782.1 L1981.5 2782.6 L1982.4 2783.1 L1983.2 2783.6 L1984.1 2784.1 L1985.0 2784.6 L1985.8 2785.1 L1986.7 2785.6 L1987.6 2786.1 L1988.5 2786.6 L1989.3 2787.1 L1990.2 2787.5 L1991.1 2788.0 L1992.0 2788.5 L1992.9 2788.9 L1993.7 2789.4 L1994.6 2789.9 L1995.5 2790.3 L1996.4 2790.8 L1997.3 2791.2 L1998.2 2791.7 L1999.1 2792.1 L2000.0 2792.5 L2000.9 2793.0 L2001.8 2793.4 L2002.7 2793.8 L2003.6 2794.2 L2004.5 2794.7 L2005.4 2795.1 L2006.3 2795.5 L2007.2 2795.9 L2008.2 2796.3 L2009.1 2796.7 L2010.0 2797.1 L2010.9 2797.4 L2011.8 2797.8 L2012.7 2798.2 L2013.7 2798.6 L2014.6 2798.9 L2015.5 2799.3 L2016.4 2799.7 L2017.4 2800.0 L2018.3 2800.4 L2019.2 2800.7 L2020.2 2801.0 L2021.1 2801.4 L2022.0 2801.7 L2023.0 2802.0 L2023.9 2802.3 L2024.9 2802.7 L2025.8 2803.0 L2026.7 2803.3 L2027.7 2803.6 L2028.6 2803.9 L2029.6 2804.2 L2030.5 2804.4 L2031.5 2804.7 L2032.4 2805.0 L2033.4 2805.3 L2034.4 2805.5 L2035.3 2805.8 L2036.3 2806.0 L2037.2 2806.3 L2038.2 2806.5 L2039.2 2806.8 L2040.1 2807.0 L2041.1 2807.2 L2042.1 2807.4 L2043.0 2807.7 L2044.0 2807.9 L2045.0 2808.1 L2045.9 2808.3 L2046.9 2808.5 L2047.9 2808.7 L2048.9 2808.8 L2049.9 2809.0 L2050.8 2809.2 L2051.8 2809.4 L2052.8 2809.5 L2053.8 2809.7 L2054.8 2809.8 L2055.8 2810.0 L2056.7 2810.1 L2057.7 2810.2 L2058.7 2810.3 L2059.7 2810.5 L2060.7 2810.6 L2061.7 2810.7 L2062.7 2810.8 L2063.7 2810.9 L2064.7 2811.0 L2065.7 2811.1 L2066.7 2811.2 L2067.7 2811.3 L2068.7 2811.4 L2069.7 2811.4 L2070.7 2811.5 L2071.7 2811.6 L2072.7 2811.6 L2073.7 2811.7 L2074.7 2811.8 L2075.7 2811.8 L2076.7 2811.9 L2077.7 2811.9 L2078.7 2812.0 L2079.7 2812.0 L2080.8 2812.1 L2081.8 2812.1 L2082.8 2812.2 L2083.8 2812.2 L2084.8 2812.3 L2085.8 2812.3 L2086.8 2812.3 L2087.8 2812.4 L2088.8 2812.4 L2089.8 2812.5 L2090.8 2812.5 L2091.8 2812.5 L2092.9 2812.6 L2093.9 2812.6 L2094.9 2812.6 L2095.9 2812.7 L2096.9 2812.7 L2097.9 2812.8 L2098.9 2812.8 L2099.9 2812.8 L2100.9 2812.9 L2101.9 2812.9 L2102.9 2813.0 L2103.9 2813.0 L2104.9 2813.1 L2105.9 2813.1 L2106.9 2813.2 L2107.9 2813.2 L2108.9 2813.3 L2109.9 2813.3 L2110.9 2813.4 L2111.9 2813.5 L2112.9 2813.5 L2113.9 2813.6 L2114.9 2813.7 L2115.9 2813.7 L2116.9 2813.8 L2117.9 2813.9 L2118.9 2814.0 L2119.9 2814.0 L2120.9 2814.1 L2121.9 2814.2 L2122.9 2814.3 L2123.9 2814.4 L2124.8 2814.5 L2125.8 2814.6 L2126.8 2814.6 L2127.8 2814.7 L2128.8 2814.8 L2129.8 2814.9 L2130.8 2815.0 L2131.8 2815.1 L2132.8 2815.2 L2133.8 2815.3 L2134.7 2815.4 L2135.7 2815.5 L2136.7 2815.5 L2137.7 2815.6 L2138.7 2815.7 L2139.7 2815.8 L2140.7 2815.9 L2141.7 2816.0 L2142.7 2816.1 L2143.7 2816.2 L2144.7 2816.2 L2145.6 2816.3 L2146.6 2816.4 L2147.6 2816.5 L2148.6 2816.6 L2149.6 2816.7 L2150.6 2816.7 L2151.6 2816.8 L2152.6 2816.9 L2153.6 2817.0 L2154.6 2817.0 L2155.6 2817.1 L2156.6 2817.2 L2157.6 2817.3 L2158.6 2817.3 L2159.6 2817.4 L2160.6 2817.5 L2161.6 2817.6 L2162.6 2817.6 L2163.6 2817.7 L2164.6 2817.8 L2165.5 2817.8 L2166.5 2817.9 L2167.5 2818.0 L2168.5 2818.0 L2169.5 2818.1 L2170.5 2818.2 L2171.5 2818.2 L2172.5 2818.3 L2173.5 2818.4 L2174.5 2818.4 L2175.5 2818.5 L2176.5 2818.6 L2177.5 2818.6 L2178.5 2818.7 L2179.5 2818.8 L2180.5 2818.8 L2181.5 2818.9 L2182.5 2819.0 L2183.5 2819.0 L2184.5 2819.1 L2185.5 2819.1 L2186.5 2819.2 L2187.5 2819.3 L2188.5 2819.3 L2189.5 2819.4 L2190.5 2819.5 L2191.5 2819.5 L2192.5 2819.6 L2193.5 2819.6 L2194.5 2819.7 L2195.5 2819.8 L2196.5 2819.8 L2197.5 2819.9 L2198.5 2820.0 L2199.5 2820.0 L2200.5 2820.1 L2201.5 2820.2 L2202.5 2820.2 L2203.5 2820.3 L2204.5 2820.4 L2205.5 2820.4 L2206.5 2820.5 L2207.5 2820.5 L2208.5 2820.6 L2209.5 2820.7 L2210.5 2820.8 L2211.5 2820.8 L2212.5 2820.9 L2213.5 2821.0 L2214.5 2821.0 L2215.5 2821.1 L2216.5 2821.2 L2217.5 2821.2 L2218.5 2821.3 L2219.5 2821.4 L2220.5 2821.4 L2221.5 2821.5 L2222.5 2821.6 L2223.5 2821.7 L2224.5 2821.7 L2225.5 2821.8 L2226.5 2821.9 L2227.5 2822.0 L2228.5 2822.0 L2229.5 2822.1 L2230.5 2822.2 L2231.5 2822.3 L2232.5 2822.3 L2233.5 2822.4 L2234.5 2822.5 L2235.5 2822.6 L2236.5 2822.6 L2237.4 2822.7 L2238.4 2822.8 L2239.4 2822.9 L2240.4 2822.9 L2241.4 2823.0 L2242.4 2823.1 L2243.4 2823.2 L2244.4 2823.3 L2245.4 2823.3 L2246.4 2823.4 L2247.4 2823.5 L2248.4 2823.6 L2249.4 2823.7 L2250.4 2823.7 L2251.4 2823.8 L2252.4 2823.9 L2253.4 2824.0 L2254.4 2824.1 L2255.4 2824.2 L2256.4 2824.2 L2257.4 2824.3 L2258.4 2824.4 L2259.4 2824.5 L2260.4 2824.6 L2261.4 2824.7 L2262.3 2824.7 L2263.3 2824.8 L2264.3 2824.9 L2265.3 2825.0 L2266.3 2825.1 L2267.3 2825.2 L2268.3 2825.3 L2269.3 2825.4 L2270.3 2825.4 L2271.3 2825.5 L2272.3 2825.6 L2273.3 2825.7 L2274.3 2825.8 L2275.3 2825.9 L2276.3 2826.0 L2277.3 2826.1 L2278.3 2826.2 L2279.3 2826.3 L2280.3 2826.3 L2281.3 2826.4 L2282.2 2826.5 L2283.2 2826.6 L2284.2 2826.7 L2285.2 2826.8 L2286.2 2826.9 L2287.2 2827.0 L2288.2 2827.1 L2289.2 2827.2 L2290.2 2827.3 L2291.2 2827.4 L2292.2 2827.5 L2293.2 2827.6 L2294.2 2827.6 L2295.2 2827.7 L2296.2 2827.8 L2297.2 2827.9 L2298.2 2828.0 L2299.2 2828.1 L2300.2 2828.2 L2301.2 2828.3 L2302.1 2828.4 L2303.1 2828.5 L2304.1 2828.6 L2305.1 2828.7 L2306.1 2828.8 L2307.1 2828.9 L2308.1 2829.0 L2309.1 2829.1 L2310.1 2829.2 L2311.1 2829.3 L2312.1 2829.4 L2313.1 2829.5 L2314.1 2829.6 L2315.1 2829.7 L2316.1 2829.8 L2317.1 2829.9 L2318.1 2830.0 L2319.1 2830.1 L2320.1 2830.2 L2321.1 2830.3 L2322.1 2830.4 L2323.0 2830.5 L2324.0 2830.6 L2325.0 2830.7 L2326.0 2830.8 L2327.0 2830.9 L2328.0 2831.0 L2329.0 2831.2 L2330.0 2831.3 L2331.0 2831.4 L2332.0 2831.5" fill="none" stroke="#00f" stroke-width="8.4" stroke-linecap="round" stroke-linejoin="round"/>
</g>
<line x1="188.0" y1="1614.0" x2="188.0" y2="2867.0" stroke="#000" stroke-width="6.0" stroke-linecap="butt"/>
<line x1="2332.0" y1="1614.0" x2="2332.0" y2="2867.0" stroke="#000" stroke-width="6.0" stroke-linecap="butt"/>
<line x1="188.0" y1="1614.0" x2="2332.0" y2="1614.0" stroke="#000" stroke-width="6.0" stroke-linecap="butt"/>
<line x1="188.0" y1="2867.0" x2="2332.0" y2="2867.0" stroke="#000" stroke-width="6.0" stroke-linecap="butt"/>
<line x1="188.0" y1="1584.5" x2="188.0" y2="1643.5" stroke="#000" stroke-width="6.0" stroke-linecap="butt"/>
<line x1="188.0" y1="2837.5" x2="188.0" y2="2896.5" stroke="#000" stroke-width="6.0" stroke-linecap="butt"/>
<line x1="341.0" y1="1598.0" x2="341.0" y2="1630.0" stroke="#000" stroke-width="6.0" stroke-linecap="butt"/>
<line x1="341.0" y1="2851.0" x2="341.0" y2="2883.0" stroke="#000" stroke-width="6.0" stroke-linecap="butt"/>
<line x1="494.0" y1="1584.5" x2="494.0" y2="1643.5" stroke="#000" stroke-width="6.0" stroke-linecap="butt"/>
<line x1="494.0" y1="2837.5" x2="494.0" y2="2896.5" stroke="#000" stroke-width="6.0" stroke-linecap="butt"/>
<line x1="647.0" y1="1598.0" x2="647.0" y2="1630.0" stroke="#000" stroke-width="6.0" stroke-linecap="butt"/>
<line x1="647.0" y1="2851.0" x2="647.0" y2="2883.0" stroke="#000" stroke-width="6.0" stroke-linecap="butt"/>
<line x1="801.0" y1="1584.5" x2="801.0" y2="1643.5" stroke="#000" stroke-width="6.0" stroke-linecap="butt"/>
<line x1="801.0" y1="2837.5" x2="801.0" y2="2896.5" stroke="#000" stroke-width="6.0" stroke-linecap="butt"/>
<line x1="954.0" y1="1598.0" x2="954.0" y2="1630.0" stroke="#000" stroke-width="6.0" stroke-linecap="butt"/>
<line x1="954.0" y1="2851.0" x2="954.0" y2="2883.0" stroke="#000" stroke-width="6.0" stroke-linecap="butt"/>
<line x1="1107.0" y1="1584.5" x2="1107.0" y2="1643.5" stroke="#000" stroke-width="6.0" stroke-linecap="butt"/>
<line x1="1107.0" y1="2837.5" x2="1107.0" y2="2896.5" stroke="#000" stroke-width="6.0" stroke-linecap="butt"/>
<line x1="1260.0" y1="1598.0" x2="1260.0" y2="1630.0" stroke="#000" stroke-width="6.0" stroke-linecap="butt"/>
<line x1="1260.0" y1="2851.0" x2="1260.0" y2="2883.0" stroke="#000" stroke-width="6.0" stroke-linecap="butt"/>
<line x1="1413.0" y1="1584.5" x2="1413.0" y2="1643.5" stroke="#000" stroke-width="6.0" stroke-linecap="butt"/>
<line x1="1413.0" y1="2837.5" x2="1413.0" y2="2896.5" stroke="#000" stroke-width="6.0" stroke-linecap="butt"/>
<line x1="1566.0" y1="1598.0" x2="1566.0" y2="1630.0" stroke="#000" stroke-width="6.0" stroke-linecap="butt"/>
<line x1="1566.0" y1="2851.0" x2="1566.0" y2="2883.0" stroke="#000" stroke-width="6.0" stroke-linecap="butt"/>
<line x1="1719.0" y1="1584.5" x2="1719.0" y2="1643.5" stroke="#000" stroke-width="6.0" stroke-linecap="butt"/>
<line x1="1719.0" y1="2837.5" x2="1719.0" y2="2896.5" stroke="#000" stroke-width="6.0" stroke-linecap="butt"/>
<line x1="1873.0" y1="1598.0" x2="1873.0" y2="1630.0" stroke="#000" stroke-width="6.0" stroke-linecap="butt"/>
<line x1="1873.0" y1="2851.0" x2="1873.0" y2="2883.0" stroke="#000" stroke-width="6.0" stroke-linecap="butt"/>
<line x1="2026.0" y1="1584.5" x2="2026.0" y2="1643.5" stroke="#000" stroke-width="6.0" stroke-linecap="butt"/>
<line x1="2026.0" y1="2837.5" x2="2026.0" y2="2896.5" stroke="#000" stroke-width="6.0" stroke-linecap="butt"/>
<line x1="2179.0" y1="1598.0" x2="2179.0" y2="1630.0" stroke="#000" stroke-width="6.0" stroke-linecap="butt"/>
<line x1="2179.0" y1="2851.0" x2="2179.0" y2="2883.0" stroke="#000" stroke-width="6.0" stroke-linecap="butt"/>
<line x1="2332.0" y1="1584.5" x2="2332.0" y2="1643.5" stroke="#000" stroke-width="6.0" stroke-linecap="butt"/>
<line x1="2332.0" y1="2837.5" x2="2332.0" y2="2896.5" stroke="#000" stroke-width="6.0" stroke-linecap="butt"/>
<line x1="158.5" y1="1614.0" x2="217.5" y2="1614.0" stroke="#000" stroke-width="6.0" stroke-linecap="butt"/>
<line x1="172.0" y1="1734.0" x2="204.0" y2="1734.0" stroke="#000" stroke-width="6.0" stroke-linecap="butt"/>
<line x1="158.5" y1="1855.0" x2="217.5" y2="1855.0" stroke="#000" stroke-width="6.0" stroke-linecap="butt"/>
<line x1="172.0" y1="1975.0" x2="204.0" y2="1975.0" stroke="#000" stroke-width="6.0" stroke-linecap="butt"/>
<line x1="158.5" y1="2096.0" x2="217.5" y2="2096.0" stroke="#000" stroke-width="6.0" stroke-linecap="butt"/>
<line x1="172.0" y1="2216.0" x2="204.0" y2="2216.0" stroke="#000" stroke-width="6.0" stroke-linecap="butt"/>
<line x1="158.5" y1="2336.0" x2="217.5" y2="2336.0" stroke="#000" stroke-width="6.0" stroke-linecap="butt"/>
<line x1="172.0" y1="2457.0" x2="204.0" y2="2457.0" stroke="#000" stroke-width="6.0" stroke-linecap="butt"/>
<line x1="158.5" y1="2577.0" x2="217.5" y2="2577.0" stroke="#000" stroke-width="6.0" stroke-linecap="butt"/>
<line x1="172.0" y1="2698.0" x2="204.0" y2="2698.0" stroke="#000" stroke-width="6.0" stroke-linecap="butt"/>
<line x1="158.5" y1="2818.0" x2="217.5" y2="2818.0" stroke="#000" stroke-width="6.0" stroke-linecap="butt"/>
<line x1="2302.5" y1="1614.0" x2="2361.5" y2="1614.0" stroke="#000" stroke-width="6.0" stroke-linecap="butt"/>
<line x1="2316.0" y1="1718.0" x2="2348.0" y2="1718.0" stroke="#000" stroke-width="6.0" stroke-linecap="butt"/>
<line x1="2302.5" y1="1823.0" x2="2361.5" y2="1823.0" stroke="#000" stroke-width="6.0" stroke-linecap="butt"/>
<line x1="2316.0" y1="1927.0" x2="2348.0" y2="1927.0" stroke="#000" stroke-width="6.0" stroke-linecap="butt"/>
<line x1="2302.5" y1="2032.0" x2="2361.5" y2="2032.0" stroke="#000" stroke-width="6.0" stroke-linecap="butt"/>
<line x1="2316.0" y1="2136.0" x2="2348.0" y2="2136.0" stroke="#000" stroke-width="6.0" stroke-linecap="butt"/>
<line x1="2302.5" y1="2240.0" x2="2361.5" y2="2240.0" stroke="#000" stroke-width="6.0" stroke-linecap="butt"/>
<line x1="2316.0" y1="2345.0" x2="2348.0" y2="2345.0" stroke="#000" stroke-width="6.0" stroke-linecap="butt"/>
<line x1="2302.5" y1="2449.0" x2="2361.5" y2="2449.0" stroke="#000" stroke-width="6.0" stroke-linecap="butt"/>
<line x1="2316.0" y1="2554.0" x2="2348.0" y2="2554.0" stroke="#000" stroke-width="6.0" stroke-linecap="butt"/>
<line x1="2302.5" y1="2658.0" x2="2361.5" y2="2658.0" stroke="#000" stroke-width="6.0" stroke-linecap="butt"/>
<line x1="2316.0" y1="2763.0" x2="2348.0" y2="2763.0" stroke="#000" stroke-width="6.0" stroke-linecap="butt"/>
<line x1="2302.5" y1="2867.0" x2="2361.5" y2="2867.0" stroke="#000" stroke-width="6.0" stroke-linecap="butt"/>
<text x="188.0" y="2955.6" font-family="Liberation Sans, sans-serif" font-size="57.5" text-anchor="middle" stroke="#000" stroke-width="0.5">200</text>
<text x="494.3" y="2955.6" font-family="Liberation Sans, sans-serif" font-size="57.5" text-anchor="middle" stroke="#000" stroke-width="0.5">220</text>
<text x="800.6" y="2955.6" font-family="Liberation Sans, sans-serif" font-size="57.5" text-anchor="middle" stroke="#000" stroke-width="0.5">240</text>
<text x="1106.9" y="2955.6" font-family="Liberation Sans, sans-serif" font-size="57.5" text-anchor="middle" stroke="#000" stroke-width="0.5">260</text>
<text x="1413.1" y="2955.6" font-family="Liberation Sans, sans-serif" font-size="57.5" text-anchor="middle" stroke="#000" stroke-width="0.5">280</text>
<text x="1719.4" y="2955.6" font-family="Liberation Sans, sans-serif" font-size="57.5" text-anchor="middle" stroke="#000" stroke-width="0.5">300</text>
<text x="2025.7" y="2955.6" font-family="Liberation Sans, sans-serif" font-size="57.5" text-anchor="middle" stroke="#000" stroke-width="0.5">320</text>
<text x="2332.0" y="2955.6" font-family="Liberation Sans, sans-serif" font-size="57.5" text-anchor="middle" stroke="#000" stroke-width="0.5">340</text>
<text x="1260.2" y="3077.6" font-family="Liberation Sans, sans-serif" font-size="71.8" text-anchor="middle" stroke="#000" stroke-width="0.6">Temperature (<tspan font-size="42.5" dy="-33.7">o</tspan><tspan dy="33.7">C)</tspan></text>
<text transform="translate(101.2 2286.0) rotate(-90)" font-family="Liberation Sans, sans-serif" font-size="70.4" text-anchor="middle" stroke="#000" stroke-width="0.6">Heat Flow (a.u.)</text>
<text y="1767.2" font-family="Liberation Sans, sans-serif" font-size="70" stroke="#000" stroke-width="0.6"><tspan x="1608.8" y="1767.2">NH</tspan><tspan x="1710.2" y="1791.4" font-size="40.6">4</tspan><tspan x="1735.5" y="1767.2">NO</tspan><tspan x="1841.0" y="1791.4" font-size="40.6">3</tspan><tspan x="1884.5" y="1767.2">+</tspan><tspan x="1943.0" y="1767.2">Al</tspan><tspan x="2085.3" y="1767.2" font-weight="bold" stroke-width="0.3">B</tspan><tspan x="2156.5" y="1767.2">(</tspan><tspan x="2179.7" y="1767.2" font-weight="bold" stroke-width="0.3">0</tspan><tspan x="2222.3" y="1767.2">)</tspan></text>
<line x1="276.3" y1="1855.5" x2="431.5" y2="1855.5" stroke="#000" stroke-width="8.6" stroke-linecap="round"/>
<text transform="translate(454.3 1880.4) scale(1.220 1.055) skewX(-4)" font-family="Liberation Serif, serif" font-size="70.5" font-style="italic" fill="#000">β</text>
<text transform="translate(507.4 1882.2) scale(1.070 0.900)" font-family="Liberation Serif, serif" font-size="70.5" fill="#000" stroke="#000" stroke-width="1.1">=</text>
<text x="566.8" y="1879.8" font-family="Liberation Serif, serif" font-size="70.5" fill="#000">5.0<tspan font-size="43.3" dy="-33.7" dx="1.0">o</tspan></text>
<text x="676.3" y="1879.8" font-family="Liberation Sans, sans-serif" font-size="70.8" fill="#000">C/min</text>
<line x1="276.3" y1="1957.2" x2="301.0" y2="1957.2" stroke="#f00" stroke-width="8.6" stroke-linecap="round"/>
<line x1="341.7" y1="1957.2" x2="366.6" y2="1957.2" stroke="#f00" stroke-width="8.6" stroke-linecap="round"/>
<line x1="406.3" y1="1957.2" x2="431.5" y2="1957.2" stroke="#f00" stroke-width="8.6" stroke-linecap="round"/>
<text transform="translate(454.3 1981.8) scale(1.220 1.055) skewX(-4)" font-family="Liberation Serif, serif" font-size="70.5" font-style="italic" fill="#f00">β</text>
<text transform="translate(507.4 1983.6) scale(1.070 0.900)" font-family="Liberation Serif, serif" font-size="70.5" fill="#f00" stroke="#f00" stroke-width="1.1">=</text>
<text x="568.3" y="1981.2" font-family="Liberation Serif, serif" font-size="70.5" fill="#f00">10.0<tspan font-size="43.3" dy="-33.7" dx="1.0">o</tspan></text>
<text x="713.2" y="1981.2" font-family="Liberation Sans, sans-serif" font-size="70.8" fill="#f00">C/min</text>
<line x1="276.3" y1="2058.9" x2="307.3" y2="2058.9" stroke="#00f" stroke-width="8.6" stroke-linecap="round"/>
<line x1="331.8" y1="2058.9" x2="333.7" y2="2058.9" stroke="#00f" stroke-width="8.6" stroke-linecap="round"/>
<line x1="355.8" y1="2058.9" x2="389.9" y2="2058.9" stroke="#00f" stroke-width="8.6" stroke-linecap="round"/>
<line x1="414.0" y1="2058.9" x2="415.2" y2="2058.9" stroke="#00f" stroke-width="8.6" stroke-linecap="round"/>
<text transform="translate(454.3 2083.3) scale(1.220 1.055) skewX(-4)" font-family="Liberation Serif, serif" font-size="70.5" font-style="italic" fill="#00f">β</text>
<text transform="translate(507.4 2085.1) scale(1.070 0.900)" font-family="Liberation Serif, serif" font-size="70.5" fill="#00f" stroke="#00f" stroke-width="1.1">=</text>
<text x="566.8" y="2082.7" font-family="Liberation Serif, serif" font-size="70.5" fill="#00f">20.0<tspan font-size="43.3" dy="-33.7" dx="1.0">o</tspan></text>
<text x="713.2" y="2082.7" font-family="Liberation Sans, sans-serif" font-size="70.8" fill="#00f">C/min</text>
</svg>
</body></html>
